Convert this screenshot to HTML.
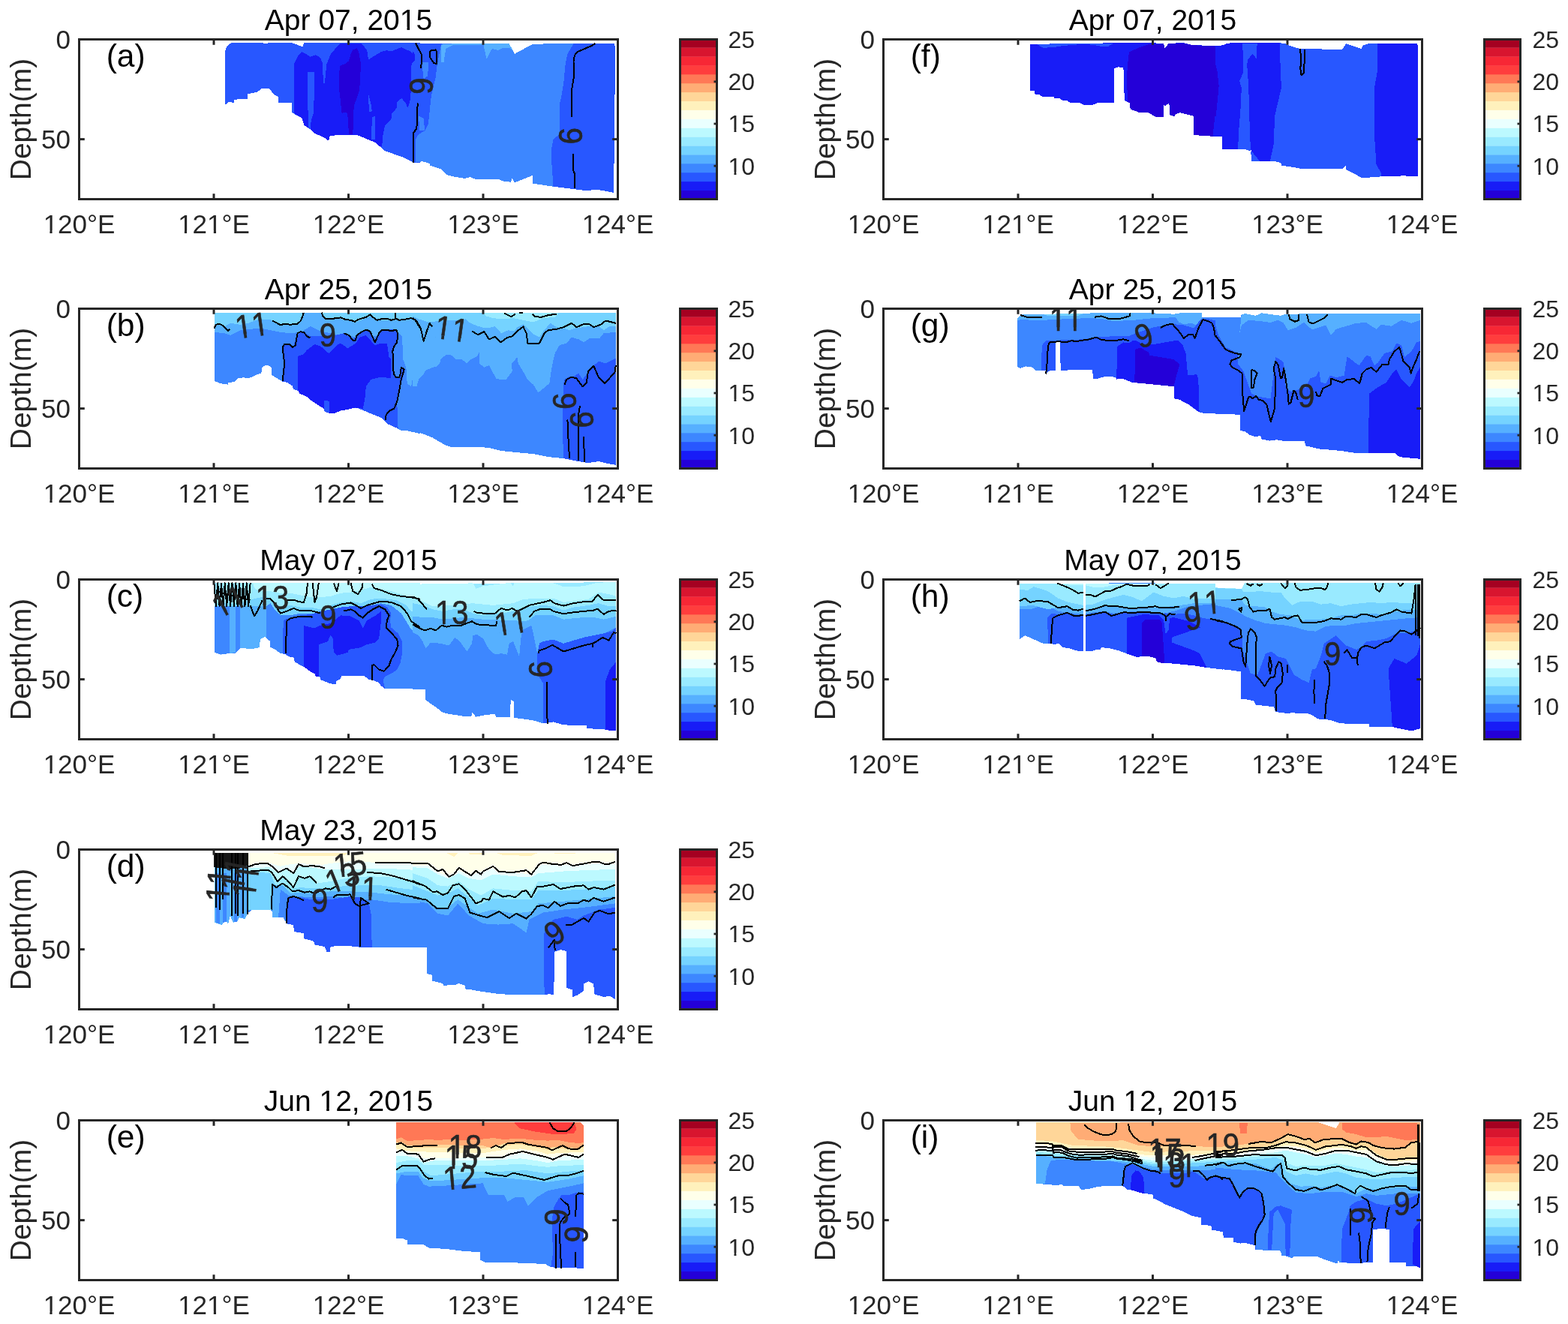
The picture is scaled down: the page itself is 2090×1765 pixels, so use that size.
<!DOCTYPE html><html><head><meta charset="utf-8"><style>html,body{margin:0;padding:0;background:#fff;overflow:hidden;}svg{display:block}</style></head><body>
<svg width="2090" height="1765" viewBox="0 0 2090 1765" font-family="'Liberation Sans', Arial, Helvetica, sans-serif">
<rect x="0" y="0" width="2090" height="1765" fill="#fff"/>
<defs><clipPath id="clipa"><rect x="105.5" y="52.5" width="718" height="213"/></clipPath></defs>
<g clip-path="url(#clipa)" shape-rendering="crispEdges">
<polygon points="300.1,138.8 300.1,67.8 302.8,61.1 308.1,57.3 317.5,56.8 349.7,57.3 355.1,58.4 357.7,57.3 389.9,57.3 403.3,62.4 405.3,57.3 560.0,57.3 560.0,216.6 550.8,216.6 536.0,209.2 513.2,201.2 507.9,196.5 499.8,189.8 477.0,180.4 446.2,180.4 439.5,181.7 438.2,187.7 431.5,183.1 419.4,177.7 412.7,171.7 405.3,167.0 402.6,157.6 389.2,150.2 388.6,137.5 371.1,136.8 371.1,129.4 364.4,125.4 359.1,118.0 348.4,118.0 343.0,122.7 329.6,125.4 329.6,131.5 312.2,132.8 312.2,136.8 304.1,136.1 301.4,138.8" fill="#2857FF"/>
<polygon points="550.0,57.7 678.7,58.4 686.0,71.8 709.5,59.1 814.7,57.7 819.4,58.4 820.1,71.8 818.1,256.8 796.6,252.8 780.5,254.1 764.5,252.1 743.0,249.4 737.6,248.7 710.2,244.7 709.5,234.0 686.0,243.4 682.7,238.0 680.7,242.7 670.6,241.4 665.3,239.4 633.1,238.7 626.4,236.0 619.7,238.0 603.6,235.3 596.2,233.3 588.9,225.9 573.5,220.6 572.8,217.9 563.4,215.2 550.0,216.6" fill="#2857FF"/>
<polygon points="391.9,85.2 397.3,74.5 402.6,69.1 406.7,71.1 413.4,75.8 420.7,73.1 427.4,77.2 430.1,85.2 435.5,85.2 440.8,71.8 452.9,58.4 481.1,57.7 489.1,66.4 491.1,79.8 494.5,77.2 507.9,69.1 515.9,67.1 521.3,68.5 534.7,63.1 548.1,69.1 552.1,75.8 548.1,87.9 547.4,130.8 545.4,138.8 543.4,143.5 540.7,137.5 535.3,130.8 529.3,136.1 528.6,144.2 522.6,150.9 521.3,158.9 513.2,167.0 510.5,180.4 509.2,193.8 507.9,196.5 499.8,189.8 477.0,180.4 446.2,180.4 439.5,181.7 438.2,187.7 431.5,183.1 419.4,177.7 412.7,171.7 405.3,167.0 402.6,157.6 391.9,150.9" fill="#181CF7"/>
<polygon points="410.0,95.9 419.4,95.9 418.1,150.9 414.7,160.3 414.0,171.7 412.0,171.7 410.7,165.6" fill="#2857FF"/>
<polygon points="430.1,85.2 435.5,85.2 432.8,110.7 430.8,110.7" fill="#2857FF"/>
<polygon points="491.1,125.4 494.5,138.8 495.8,148.2 491.8,149.5" fill="#2857FF"/>
<polygon points="495.8,156.2 499.8,154.9 499.8,185.7 495.1,185.7" fill="#2857FF"/>
<polygon points="452.9,87.9 459.6,85.2 465.0,81.2 467.6,71.8 470.3,66.4 475.7,64.4 478.4,70.5 481.1,85.2 479.7,112.0 478.4,122.7 471.7,141.5 470.3,179.0 465.0,179.0 463.6,156.2 462.3,149.5 455.6,150.9 453.6,132.1 451.6,116.0 452.2,98.6" fill="#2400D8"/>
<polygon points="550.0,67.8 552.7,71.8 553.4,79.8 550.0,83.2" fill="#181CF7"/>
<polygon points="588.9,58.4 678.7,58.4 686.0,71.8 709.5,59.1 726.9,58.4 764.5,58.4 756.4,71.8 753.7,85.2 751.1,112.0 748.4,128.1 745.7,138.8 745.7,179.0 737.6,185.7 735.0,199.1 735.0,212.5 737.6,248.7 710.2,244.7 709.5,234.0 686.0,243.4 682.7,238.0 680.7,242.7 670.6,241.4 665.3,239.4 633.1,238.7 626.4,236.0 619.7,238.0 603.6,235.3 596.2,233.3 588.9,225.9 573.5,220.6 572.8,217.9 563.4,215.2 554.0,216.6 554.0,185.7 558.0,179.0 566.1,174.3 570.8,165.6 574.8,128.1 580.8,102.6 582.2,89.2 587.5,62.4" fill="#3D87FF"/>
<polygon points="562.1,82.5 571.4,82.5 570.1,101.3 564.7,105.3" fill="#3D87FF"/>
<polygon points="558.0,154.9 564.7,157.6 566.1,173.7 559.4,173.7" fill="#3D87FF"/>
<polygon points="588.2,59.7 603.6,58.4 643.8,58.4 678.7,58.4 684.0,67.8 678.7,63.8 670.6,63.8 663.9,67.1 655.9,65.1 651.9,71.8 648.5,78.5 644.5,60.4 603.6,60.4 594.2,65.1 591.6,82.5 588.2,82.5" fill="#56B0FF"/>
<polyline points="554.0,57.7 562.1,73.1 562.1,82.5 560.7,91.2" fill="none" stroke="#000" stroke-width="2" stroke-linejoin="round" shape-rendering="crispEdges"/>
<polyline points="556.7,137.5 556.0,154.9 555.4,171.0 551.3,177.0 550.7,216.6" fill="none" stroke="#000" stroke-width="2" stroke-linejoin="round" shape-rendering="crispEdges"/>
<polyline points="793.3,57.7 789.9,60.4 769.8,69.1 765.8,73.8 764.5,82.5 764.5,105.3 762.4,117.4 761.8,128.1 761.8,156.2" fill="none" stroke="#000" stroke-width="2" stroke-linejoin="round" shape-rendering="crispEdges"/>
<polyline points="763.8,204.5 763.8,225.9 765.8,231.3 765.8,251.4" fill="none" stroke="#000" stroke-width="2" stroke-linejoin="round" shape-rendering="crispEdges"/>
<polyline points="572.8,67.8 580.8,66.4 582.2,69.1 582.2,85.2 578.1,83.9 573.5,77.2 572.8,67.8" fill="none" stroke="#000" stroke-width="2" stroke-linejoin="round" shape-rendering="crispEdges"/>
<g transform="translate(561.39 114.70) rotate(-90) scale(1 1.1)"><text x="-11.12" y="14.00" font-size="40" fill="#262626" stroke="#262626" stroke-width="0.6">9</text></g>
<g transform="translate(760.17 181.05) rotate(90) scale(1 1.1)"><text x="-11.12" y="14.00" font-size="40" fill="#262626" stroke="#262626" stroke-width="0.6">9</text></g>
</g>
<rect x="105.5" y="52.5" width="718" height="213" fill="none" stroke="#262626" stroke-width="3"/>
<line x1="105.5" y1="52.5" x2="105.5" y2="59.8" stroke="#262626" stroke-width="3"/>
<line x1="105.5" y1="265.5" x2="105.5" y2="258.2" stroke="#262626" stroke-width="3"/>
<g transform="translate(105.50 310.90)"><clipPath id="tc1"><rect x="-5000" y="-5000" width="10000" height="4996.39"/><rect x="-5000" y="2.00" width="10000" height="5000"/><rect x="-5000.00" y="-3.61" width="4953.84" height="5.61"/><rect x="-39.12" y="-3.61" width="3.20" height="5.61"/><rect x="-29.16" y="-3.61" width="5029.16" height="5.61"/></clipPath><text x="-47.87 -28.40 -8.94 10.53 24.52" y="0.00" font-size="35" fill="#262626" clip-path="url(#tc1)">120°E</text></g>
<line x1="285.0" y1="52.5" x2="285.0" y2="59.8" stroke="#262626" stroke-width="3"/>
<line x1="285.0" y1="265.5" x2="285.0" y2="258.2" stroke="#262626" stroke-width="3"/>
<g transform="translate(285.00 310.90)"><clipPath id="tc2"><rect x="-5000" y="-5000" width="10000" height="4996.39"/><rect x="-5000" y="2.00" width="10000" height="5000"/><rect x="-5000.00" y="-3.61" width="4953.84" height="5.61"/><rect x="-39.12" y="-3.61" width="3.20" height="5.61"/><rect x="-29.16" y="-3.61" width="21.93" height="5.61"/><rect x="-0.19" y="-3.61" width="3.20" height="5.61"/><rect x="9.78" y="-3.61" width="4990.22" height="5.61"/></clipPath><text x="-47.87 -28.40 -8.94 10.53 24.52" y="0.00" font-size="35" fill="#262626" clip-path="url(#tc2)">121°E</text></g>
<line x1="464.5" y1="52.5" x2="464.5" y2="59.8" stroke="#262626" stroke-width="3"/>
<line x1="464.5" y1="265.5" x2="464.5" y2="258.2" stroke="#262626" stroke-width="3"/>
<g transform="translate(464.50 310.90)"><clipPath id="tc3"><rect x="-5000" y="-5000" width="10000" height="4996.39"/><rect x="-5000" y="2.00" width="10000" height="5000"/><rect x="-5000.00" y="-3.61" width="4953.84" height="5.61"/><rect x="-39.12" y="-3.61" width="3.20" height="5.61"/><rect x="-29.16" y="-3.61" width="5029.16" height="5.61"/></clipPath><text x="-47.87 -28.40 -8.94 10.53 24.52" y="0.00" font-size="35" fill="#262626" clip-path="url(#tc3)">122°E</text></g>
<line x1="644.0" y1="52.5" x2="644.0" y2="59.8" stroke="#262626" stroke-width="3"/>
<line x1="644.0" y1="265.5" x2="644.0" y2="258.2" stroke="#262626" stroke-width="3"/>
<g transform="translate(644.00 310.90)"><clipPath id="tc4"><rect x="-5000" y="-5000" width="10000" height="4996.39"/><rect x="-5000" y="2.00" width="10000" height="5000"/><rect x="-5000.00" y="-3.61" width="4953.84" height="5.61"/><rect x="-39.12" y="-3.61" width="3.20" height="5.61"/><rect x="-29.16" y="-3.61" width="5029.16" height="5.61"/></clipPath><text x="-47.87 -28.40 -8.94 10.53 24.52" y="0.00" font-size="35" fill="#262626" clip-path="url(#tc4)">123°E</text></g>
<line x1="823.5" y1="52.5" x2="823.5" y2="59.8" stroke="#262626" stroke-width="3"/>
<line x1="823.5" y1="265.5" x2="823.5" y2="258.2" stroke="#262626" stroke-width="3"/>
<g transform="translate(823.50 310.90)"><clipPath id="tc5"><rect x="-5000" y="-5000" width="10000" height="4996.39"/><rect x="-5000" y="2.00" width="10000" height="5000"/><rect x="-5000.00" y="-3.61" width="4953.84" height="5.61"/><rect x="-39.12" y="-3.61" width="3.20" height="5.61"/><rect x="-29.16" y="-3.61" width="5029.16" height="5.61"/></clipPath><text x="-47.87 -28.40 -8.94 10.53 24.52" y="0.00" font-size="35" fill="#262626" clip-path="url(#tc5)">124°E</text></g>
<line x1="105.5" y1="52.5" x2="112.8" y2="52.5" stroke="#262626" stroke-width="3"/>
<line x1="823.5" y1="52.5" x2="816.2" y2="52.5" stroke="#262626" stroke-width="3"/>
<text x="94.0" y="64.8" font-size="35" fill="#262626" text-anchor="end">0</text>
<line x1="105.5" y1="185.6" x2="112.8" y2="185.6" stroke="#262626" stroke-width="3"/>
<line x1="823.5" y1="185.6" x2="816.2" y2="185.6" stroke="#262626" stroke-width="3"/>
<text x="94.0" y="197.9" font-size="35" fill="#262626" text-anchor="end">50</text>
<text x="0" y="0" font-size="39" fill="#262626" text-anchor="middle" transform="translate(41.2 159.0) rotate(-90)">Depth(m)</text>
<g transform="translate(464.50 40.00)"><clipPath id="tc6"><rect x="-5000" y="-5000" width="10000" height="4996.09"/><rect x="-5000" y="2.00" width="10000" height="5000"/><rect x="-5000.00" y="-3.91" width="5070.19" height="5.91"/><rect x="78.04" y="-3.91" width="3.56" height="5.91"/><rect x="89.14" y="-3.91" width="4910.86" height="5.91"/></clipPath><text x="-111.67 -85.66 -63.97 -50.98 -40.14 -18.45 3.24 14.07 24.91 46.60 68.29 89.98" y="0.00" font-size="39" fill="#000" clip-path="url(#tc6)">Apr 07, 2015</text></g>
<text x="141.7" y="88.5" font-size="42.5" fill="#000">(a)</text>
<rect x="906.5" y="253.70" width="49" height="12.20" fill="#2400D8"/>
<rect x="906.5" y="241.80" width="49" height="12.20" fill="#181CF7"/>
<rect x="906.5" y="229.90" width="49" height="12.20" fill="#2857FF"/>
<rect x="906.5" y="218.00" width="49" height="12.20" fill="#3D87FF"/>
<rect x="906.5" y="206.10" width="49" height="12.20" fill="#56B0FF"/>
<rect x="906.5" y="194.20" width="49" height="12.20" fill="#75D3FF"/>
<rect x="906.5" y="182.30" width="49" height="12.20" fill="#99EAFF"/>
<rect x="906.5" y="170.40" width="49" height="12.20" fill="#BCF9FF"/>
<rect x="906.5" y="158.50" width="49" height="12.20" fill="#EAFFFF"/>
<rect x="906.5" y="146.60" width="49" height="12.20" fill="#FFFFEA"/>
<rect x="906.5" y="134.70" width="49" height="12.20" fill="#FFF1BC"/>
<rect x="906.5" y="122.80" width="49" height="12.20" fill="#FFD699"/>
<rect x="906.5" y="110.90" width="49" height="12.20" fill="#FFAC75"/>
<rect x="906.5" y="99.00" width="49" height="12.20" fill="#FF7856"/>
<rect x="906.5" y="87.10" width="49" height="12.20" fill="#FF3D3D"/>
<rect x="906.5" y="75.20" width="49" height="12.20" fill="#F72735"/>
<rect x="906.5" y="63.30" width="49" height="12.20" fill="#D8152F"/>
<rect x="906.5" y="52.50" width="49" height="11.10" fill="#A50021"/>
<rect x="906.5" y="52.5" width="49" height="213" fill="none" stroke="#262626" stroke-width="3"/>
<line x1="951.5" y1="221.2" x2="955.5" y2="221.2" stroke="#262626" stroke-width="2.8"/>
<g transform="translate(970.50 232.55)"><clipPath id="tc7"><rect x="-5000" y="-5000" width="10000" height="4996.61"/><rect x="-5000" y="2.00" width="10000" height="5000"/><rect x="-5000.00" y="-3.39" width="5001.56" height="5.39"/><rect x="8.00" y="-3.39" width="2.92" height="5.39"/><rect x="17.11" y="-3.39" width="4982.89" height="5.39"/></clipPath><text x="0.00 17.80" y="0.00" font-size="32" fill="#262626" clip-path="url(#tc7)">10</text></g>
<line x1="951.5" y1="165.0" x2="955.5" y2="165.0" stroke="#262626" stroke-width="2.8"/>
<g transform="translate(970.50 176.30)"><clipPath id="tc8"><rect x="-5000" y="-5000" width="10000" height="4996.61"/><rect x="-5000" y="2.00" width="10000" height="5000"/><rect x="-5000.00" y="-3.39" width="5001.56" height="5.39"/><rect x="8.00" y="-3.39" width="2.92" height="5.39"/><rect x="17.11" y="-3.39" width="4982.89" height="5.39"/></clipPath><text x="0.00 17.80" y="0.00" font-size="32" fill="#262626" clip-path="url(#tc8)">15</text></g>
<line x1="951.5" y1="108.8" x2="955.5" y2="108.8" stroke="#262626" stroke-width="2.8"/>
<g transform="translate(970.50 120.05)"><text x="0.00 17.80" y="0.00" font-size="32" fill="#262626">20</text></g>
<g transform="translate(970.50 63.80)"><text x="0.00 17.80" y="0.00" font-size="32" fill="#262626">25</text></g>
<defs><clipPath id="clipb"><rect x="105.5" y="411.5" width="718" height="213"/></clipPath></defs>
<g clip-path="url(#clipb)" shape-rendering="crispEdges">
<polygon points="286.0,416.7 560.0,416.7 560.0,578.2 542.7,574.2 534.7,574.2 528.0,570.2 515.9,564.8 507.9,556.8 494.5,551.4 485.1,547.4 478.4,544.7 473.0,543.4 462.3,546.1 454.2,547.4 446.2,550.8 439.5,550.8 432.8,548.8 431.5,544.7 424.8,540.7 418.1,536.0 412.7,532.7 410.0,529.3 399.3,524.6 398.0,521.3 391.2,518.6 389.9,514.6 383.2,509.9 376.5,508.5 368.5,503.9 362.0,499.8 361.8,489.8 357.7,487.1 353.7,487.1 349.0,489.8 348.4,497.2 343.0,499.2 336.3,502.5 329.6,504.3 324.2,503.2 317.5,504.5 312.2,509.2 304.1,509.9 304.1,512.6 293.4,511.2 286.0,507.9" fill="#3D87FF"/>
<polygon points="550.0,416.7 820.8,416.7 820.8,619.8 808.7,617.8 798.0,615.1 783.2,617.1 767.1,614.4 751.1,611.1 730.9,609.1 710.8,605.1 694.8,603.7 668.0,601.0 651.9,597.0 643.8,596.3 600.9,595.7 592.9,593.0 576.8,583.6 563.4,578.2 550.0,574.9" fill="#3D87FF"/>
<polygon points="286.0,416.7 560.0,416.7 560.0,479.1 553.4,484.4 548.1,515.2 542.7,511.2 541.4,489.8 537.3,479.1 536.0,448.2 532.0,444.2 521.3,444.2 507.9,446.9 494.5,448.2 481.1,448.2 473.0,449.6 465.0,446.9 454.2,448.2 440.8,444.2 427.4,441.5 414.0,434.8 400.6,442.9 387.2,444.2 373.8,442.9 360.4,440.2 347.0,437.5 333.6,438.8 320.2,440.2 306.8,446.9 298.8,444.2 286.0,442.9" fill="#56B0FF"/>
<polygon points="286.0,416.7 400.6,416.7 403.3,418.7 400.6,426.8 395.3,430.8 384.5,432.8 373.8,432.8 365.8,428.8 360.4,426.1 347.0,425.4 337.6,428.1 330.9,430.8 320.2,432.8 306.8,430.8 300.1,434.8 286.0,432.1" fill="#75D3FF"/>
<polygon points="428.8,416.7 560.0,416.7 560.0,426.8 548.1,425.4 534.7,427.5 526.6,426.1 507.9,427.5 494.5,421.4 474.4,429.5 454.2,425.4 434.1,425.4" fill="#75D3FF"/>
<polygon points="376.5,508.5 377.8,484.4 377.2,460.3 384.5,457.6 391.2,461.6 395.3,448.2 400.6,442.2 405.3,442.2 412.7,448.2 427.4,448.2 447.5,446.9 458.3,444.2 470.3,452.3 481.1,442.9 487.8,438.8 494.5,441.5 499.8,454.9 507.9,440.2 515.9,438.8 529.3,439.5 530.6,444.2 530.0,457.6 525.3,463.0 523.3,471.0 524.6,497.8 528.0,503.2 532.0,503.2 534.7,489.8 540.0,492.5 534.7,511.2 532.0,524.6 529.3,538.0 530.6,571.5 528.0,570.2 515.9,564.8 507.9,556.8 494.5,551.4 485.1,547.4 478.4,544.7 473.0,543.4 462.3,546.1 454.2,547.4 446.2,550.8 439.5,550.8 432.8,548.8 431.5,544.7 424.8,540.7 418.1,536.0 412.7,532.7 410.0,529.3 399.3,524.6 398.0,521.3 391.2,518.6 389.9,514.6 383.2,509.9" fill="#2857FF"/>
<polygon points="396.6,475.0 404.7,472.4 408.7,467.0 419.4,459.0 427.4,461.6 438.2,471.0 448.9,460.3 454.2,457.6 463.6,464.3 474.4,457.6 479.7,449.6 487.8,446.9 499.8,460.3 507.9,457.6 515.9,457.6 518.6,476.4 521.3,479.1 521.3,504.5 507.9,502.5 494.5,505.9 487.8,515.2 486.4,531.3 483.7,544.7 473.0,543.4 462.3,546.1 454.2,547.4 446.2,550.8 439.5,550.8 432.8,548.8 431.5,544.7 424.8,540.7 418.1,536.0 412.7,532.7 410.0,529.3 399.3,524.6 398.0,521.3 396.6,520.6" fill="#181CF7"/>
<polygon points="431.5,534.0 438.8,534.7 438.8,550.1 432.8,548.8 431.5,544.7" fill="#2857FF"/>
<polygon points="550.0,416.7 820.8,416.7 820.8,442.9 804.7,444.2 799.3,450.9 785.9,450.9 777.9,456.3 771.2,452.3 761.8,449.6 755.1,457.6 745.7,460.3 740.3,469.7 737.6,479.1 735.0,492.5 732.3,511.2 724.2,517.9 717.5,523.3 710.8,512.6 702.8,505.9 698.8,497.8 690.7,484.4 689.4,476.4 682.0,484.4 682.7,495.1 674.7,505.9 666.6,505.9 661.2,504.5 651.9,487.1 645.2,489.8 639.1,484.4 638.5,469.7 635.8,475.0 627.7,479.1 622.4,484.4 615.7,479.1 607.6,479.1 600.9,473.0 594.2,473.0 587.5,479.1 586.2,484.4 582.2,488.4 576.8,489.8 567.4,493.8 563.4,500.5 558.0,505.9 555.4,515.2 550.0,515.2" fill="#56B0FF"/>
<polygon points="550.0,416.7 820.8,416.7 820.8,434.8 812.7,434.8 804.7,440.2 798.0,434.8 785.9,434.8 777.9,436.2 767.1,437.5 759.1,440.2 751.1,437.5 741.7,436.2 733.6,430.8 724.2,441.5 718.9,449.6 710.8,445.6 704.1,438.8 697.4,432.1 689.4,436.2 685.4,441.5 677.3,440.2 668.0,444.2 659.9,434.8 655.9,436.2 646.5,437.5 637.1,434.8 630.4,432.1 625.1,429.5 621.0,425.4 610.3,426.8 596.9,426.8 583.5,428.1 571.4,429.5 558.0,425.4 550.0,421.4" fill="#75D3FF"/>
<polygon points="643.8,416.7 744.4,416.7 740.3,422.8 724.2,424.1 710.8,429.5 697.4,426.8 684.0,424.1 670.6,425.4 657.2,424.1 647.8,421.4" fill="#99EAFF"/>
<polygon points="751.1,512.6 752.4,505.9 759.1,501.8 764.5,501.8 771.2,497.8 776.5,505.9 783.2,497.8 785.9,491.1 791.3,487.1 798.0,481.7 807.3,484.4 815.4,480.4 820.8,477.7 820.8,619.8 808.7,617.8 798.0,615.1 783.2,617.1 767.1,614.4 751.1,611.1 749.7,564.8" fill="#2857FF"/>
<polyline points="285.4,437.5 288.0,432.8 292.1,431.5 297.4,434.2 304.1,440.9 306.1,438.8" fill="none" stroke="#000" stroke-width="2" stroke-linejoin="round" shape-rendering="crispEdges"/>
<polyline points="363.1,427.5 368.5,430.1 373.8,433.5 379.2,431.5 387.2,432.8 396.6,431.5 400.6,428.1 403.3,421.4 404.7,416.7" fill="none" stroke="#000" stroke-width="2" stroke-linejoin="round" shape-rendering="crispEdges"/>
<polyline points="428.8,416.7 430.1,421.4 434.1,424.8 440.8,425.4 447.5,424.1 454.2,423.4 460.9,426.1 467.6,426.8 473.0,428.8 477.0,426.1 487.8,422.8 493.1,419.4 497.1,422.8 502.5,426.8 507.9,425.4 515.9,424.8 521.3,426.8 526.6,425.4 527.3,417.4" fill="none" stroke="#000" stroke-width="2" stroke-linejoin="round" shape-rendering="crispEdges"/>
<polyline points="527.3,424.1 532.0,426.8 541.4,425.4 548.1,424.1 553.4,426.8 560.0,437.5" fill="none" stroke="#000" stroke-width="2" stroke-linejoin="round" shape-rendering="crispEdges"/>
<polyline points="413.4,450.2 410.0,448.9 404.7,442.9 400.6,442.2 396.6,444.2 394.6,454.9 393.9,460.3 389.9,463.0 385.9,459.0 379.2,459.0 376.5,463.0 377.8,473.7 379.2,484.4 377.8,497.8 376.5,508.5" fill="none" stroke="#000" stroke-width="2" stroke-linejoin="round" shape-rendering="crispEdges"/>
<polyline points="458.3,444.2 465.0,446.9 470.3,453.6 473.7,453.6 475.7,446.9 481.1,442.9 487.8,439.5 493.1,441.5 499.8,456.3 505.2,444.2 509.2,439.5 515.9,439.5 521.3,441.5 528.0,439.5 530.0,444.2 529.3,456.3 525.3,461.6 523.3,468.3 523.9,476.4 524.6,497.8 528.0,503.2 532.0,503.2 534.0,497.8 534.7,489.8 538.7,492.5 534.7,505.9 532.0,522.0 529.3,535.4 525.3,544.7 519.9,547.4 515.9,551.4 513.9,555.5 513.9,560.2" fill="none" stroke="#000" stroke-width="2" stroke-linejoin="round" shape-rendering="crispEdges"/>
<polyline points="550.0,424.1 555.4,428.1 560.7,437.5 564.7,454.9 568.8,441.5 572.8,430.8 576.1,435.5" fill="none" stroke="#000" stroke-width="2" stroke-linejoin="round" shape-rendering="crispEdges"/>
<polyline points="629.1,441.5 637.1,446.2 645.2,442.2 651.9,452.3 659.9,448.9 667.3,456.3 676.0,450.2 682.7,448.2 689.4,441.5 697.4,435.5 701.5,444.2 703.5,457.6 718.9,457.6 725.6,444.2 730.9,440.2 741.7,438.8 751.1,436.2 761.8,430.8 768.5,436.2 777.9,432.1 784.6,431.5 791.3,436.2 800.6,432.8 807.3,427.5 820.8,430.8" fill="none" stroke="#000" stroke-width="2" stroke-linejoin="round" shape-rendering="crispEdges"/>
<polyline points="672.0,417.4 681.4,422.1 686.7,418.7" fill="none" stroke="#000" stroke-width="2" stroke-linejoin="round" shape-rendering="crispEdges"/>
<polyline points="692.1,417.4 697.4,417.4" fill="none" stroke="#000" stroke-width="2" stroke-linejoin="round" shape-rendering="crispEdges"/>
<polyline points="709.5,418.7 713.5,422.1 721.6,422.8 730.9,420.1 741.7,418.7" fill="none" stroke="#000" stroke-width="2" stroke-linejoin="round" shape-rendering="crispEdges"/>
<polyline points="752.4,512.6 755.1,505.9 761.8,502.5 768.5,504.5 776.5,515.2 781.9,509.9 783.9,495.1 791.3,487.8 798.0,503.2 806.0,511.2 819.4,496.5 820.8,487.1" fill="none" stroke="#000" stroke-width="2" stroke-linejoin="round" shape-rendering="crispEdges"/>
<polyline points="756.4,559.5 757.8,591.6 759.1,611.1" fill="none" stroke="#000" stroke-width="2" stroke-linejoin="round" shape-rendering="crispEdges"/>
<polyline points="773.2,540.7 771.2,551.4 771.2,614.4" fill="none" stroke="#000" stroke-width="2" stroke-linejoin="round" shape-rendering="crispEdges"/>
<polyline points="777.9,582.3 779.2,615.8" fill="none" stroke="#000" stroke-width="2" stroke-linejoin="round" shape-rendering="crispEdges"/>
<g transform="translate(335.62 433.49) rotate(-8) scale(1 1.1)"><clipPath id="tc9"><rect x="-5000" y="-5000" width="10000" height="5010.01"/><rect x="-5000" y="16.00" width="10000" height="5000"/><rect x="-5000.00" y="10.01" width="4979.71" height="5.99"/><rect x="-12.25" y="10.01" width="3.65" height="5.99"/><rect x="-0.86" y="10.01" width="2.81" height="5.99"/><rect x="10.00" y="10.01" width="3.65" height="5.99"/><rect x="21.39" y="10.01" width="4978.61" height="5.99"/></clipPath><text x="-22.25 0.00" y="14.00" font-size="40" fill="#262626" clip-path="url(#tc9)" stroke="#262626" stroke-width="0.6">11</text></g>
<g transform="translate(436.82 446.89) scale(1 1.1)"><text x="-11.12" y="14.00" font-size="40" fill="#262626" stroke="#262626" stroke-width="0.6">9</text></g>
<g transform="translate(602.27 438.18) rotate(8) scale(1 1.1)"><clipPath id="tc10"><rect x="-5000" y="-5000" width="10000" height="5010.01"/><rect x="-5000" y="16.00" width="10000" height="5000"/><rect x="-5000.00" y="10.01" width="4979.71" height="5.99"/><rect x="-12.25" y="10.01" width="3.65" height="5.99"/><rect x="-0.86" y="10.01" width="2.81" height="5.99"/><rect x="10.00" y="10.01" width="3.65" height="5.99"/><rect x="21.39" y="10.01" width="4978.61" height="5.99"/></clipPath><text x="-22.25 0.00" y="14.00" font-size="40" fill="#262626" clip-path="url(#tc10)" stroke="#262626" stroke-width="0.6">11</text></g>
<g transform="translate(752.39 534.68) rotate(90) scale(1 1.1)"><text x="-11.12" y="14.00" font-size="40" fill="#262626" stroke="#262626" stroke-width="0.6">9</text></g>
<g transform="translate(775.85 559.48) rotate(90) scale(1 1.1)"><text x="-11.12" y="14.00" font-size="40" fill="#262626" stroke="#262626" stroke-width="0.6">9</text></g>
</g>
<rect x="105.5" y="411.5" width="718" height="213" fill="none" stroke="#262626" stroke-width="3"/>
<line x1="105.5" y1="411.5" x2="105.5" y2="418.8" stroke="#262626" stroke-width="3"/>
<line x1="105.5" y1="624.5" x2="105.5" y2="617.2" stroke="#262626" stroke-width="3"/>
<g transform="translate(105.50 669.90)"><clipPath id="tc11"><rect x="-5000" y="-5000" width="10000" height="4996.39"/><rect x="-5000" y="2.00" width="10000" height="5000"/><rect x="-5000.00" y="-3.61" width="4953.84" height="5.61"/><rect x="-39.12" y="-3.61" width="3.20" height="5.61"/><rect x="-29.16" y="-3.61" width="5029.16" height="5.61"/></clipPath><text x="-47.87 -28.40 -8.94 10.53 24.52" y="0.00" font-size="35" fill="#262626" clip-path="url(#tc11)">120°E</text></g>
<line x1="285.0" y1="411.5" x2="285.0" y2="418.8" stroke="#262626" stroke-width="3"/>
<line x1="285.0" y1="624.5" x2="285.0" y2="617.2" stroke="#262626" stroke-width="3"/>
<g transform="translate(285.00 669.90)"><clipPath id="tc12"><rect x="-5000" y="-5000" width="10000" height="4996.39"/><rect x="-5000" y="2.00" width="10000" height="5000"/><rect x="-5000.00" y="-3.61" width="4953.84" height="5.61"/><rect x="-39.12" y="-3.61" width="3.20" height="5.61"/><rect x="-29.16" y="-3.61" width="21.93" height="5.61"/><rect x="-0.19" y="-3.61" width="3.20" height="5.61"/><rect x="9.78" y="-3.61" width="4990.22" height="5.61"/></clipPath><text x="-47.87 -28.40 -8.94 10.53 24.52" y="0.00" font-size="35" fill="#262626" clip-path="url(#tc12)">121°E</text></g>
<line x1="464.5" y1="411.5" x2="464.5" y2="418.8" stroke="#262626" stroke-width="3"/>
<line x1="464.5" y1="624.5" x2="464.5" y2="617.2" stroke="#262626" stroke-width="3"/>
<g transform="translate(464.50 669.90)"><clipPath id="tc13"><rect x="-5000" y="-5000" width="10000" height="4996.39"/><rect x="-5000" y="2.00" width="10000" height="5000"/><rect x="-5000.00" y="-3.61" width="4953.84" height="5.61"/><rect x="-39.12" y="-3.61" width="3.20" height="5.61"/><rect x="-29.16" y="-3.61" width="5029.16" height="5.61"/></clipPath><text x="-47.87 -28.40 -8.94 10.53 24.52" y="0.00" font-size="35" fill="#262626" clip-path="url(#tc13)">122°E</text></g>
<line x1="644.0" y1="411.5" x2="644.0" y2="418.8" stroke="#262626" stroke-width="3"/>
<line x1="644.0" y1="624.5" x2="644.0" y2="617.2" stroke="#262626" stroke-width="3"/>
<g transform="translate(644.00 669.90)"><clipPath id="tc14"><rect x="-5000" y="-5000" width="10000" height="4996.39"/><rect x="-5000" y="2.00" width="10000" height="5000"/><rect x="-5000.00" y="-3.61" width="4953.84" height="5.61"/><rect x="-39.12" y="-3.61" width="3.20" height="5.61"/><rect x="-29.16" y="-3.61" width="5029.16" height="5.61"/></clipPath><text x="-47.87 -28.40 -8.94 10.53 24.52" y="0.00" font-size="35" fill="#262626" clip-path="url(#tc14)">123°E</text></g>
<line x1="823.5" y1="411.5" x2="823.5" y2="418.8" stroke="#262626" stroke-width="3"/>
<line x1="823.5" y1="624.5" x2="823.5" y2="617.2" stroke="#262626" stroke-width="3"/>
<g transform="translate(823.50 669.90)"><clipPath id="tc15"><rect x="-5000" y="-5000" width="10000" height="4996.39"/><rect x="-5000" y="2.00" width="10000" height="5000"/><rect x="-5000.00" y="-3.61" width="4953.84" height="5.61"/><rect x="-39.12" y="-3.61" width="3.20" height="5.61"/><rect x="-29.16" y="-3.61" width="5029.16" height="5.61"/></clipPath><text x="-47.87 -28.40 -8.94 10.53 24.52" y="0.00" font-size="35" fill="#262626" clip-path="url(#tc15)">124°E</text></g>
<line x1="105.5" y1="411.5" x2="112.8" y2="411.5" stroke="#262626" stroke-width="3"/>
<line x1="823.5" y1="411.5" x2="816.2" y2="411.5" stroke="#262626" stroke-width="3"/>
<text x="94.0" y="423.8" font-size="35" fill="#262626" text-anchor="end">0</text>
<line x1="105.5" y1="544.6" x2="112.8" y2="544.6" stroke="#262626" stroke-width="3"/>
<line x1="823.5" y1="544.6" x2="816.2" y2="544.6" stroke="#262626" stroke-width="3"/>
<text x="94.0" y="556.9" font-size="35" fill="#262626" text-anchor="end">50</text>
<text x="0" y="0" font-size="39" fill="#262626" text-anchor="middle" transform="translate(41.2 518.0) rotate(-90)">Depth(m)</text>
<g transform="translate(464.50 399.00)"><clipPath id="tc16"><rect x="-5000" y="-5000" width="10000" height="4996.09"/><rect x="-5000" y="2.00" width="10000" height="5000"/><rect x="-5000.00" y="-3.91" width="5070.19" height="5.91"/><rect x="78.04" y="-3.91" width="3.56" height="5.91"/><rect x="89.14" y="-3.91" width="4910.86" height="5.91"/></clipPath><text x="-111.67 -85.66 -63.97 -50.98 -40.14 -18.45 3.24 14.07 24.91 46.60 68.29 89.98" y="0.00" font-size="39" fill="#000" clip-path="url(#tc16)">Apr 25, 2015</text></g>
<text x="141.7" y="447.5" font-size="42.5" fill="#000">(b)</text>
<rect x="906.5" y="612.70" width="49" height="12.20" fill="#2400D8"/>
<rect x="906.5" y="600.80" width="49" height="12.20" fill="#181CF7"/>
<rect x="906.5" y="588.90" width="49" height="12.20" fill="#2857FF"/>
<rect x="906.5" y="577.00" width="49" height="12.20" fill="#3D87FF"/>
<rect x="906.5" y="565.10" width="49" height="12.20" fill="#56B0FF"/>
<rect x="906.5" y="553.20" width="49" height="12.20" fill="#75D3FF"/>
<rect x="906.5" y="541.30" width="49" height="12.20" fill="#99EAFF"/>
<rect x="906.5" y="529.40" width="49" height="12.20" fill="#BCF9FF"/>
<rect x="906.5" y="517.50" width="49" height="12.20" fill="#EAFFFF"/>
<rect x="906.5" y="505.60" width="49" height="12.20" fill="#FFFFEA"/>
<rect x="906.5" y="493.70" width="49" height="12.20" fill="#FFF1BC"/>
<rect x="906.5" y="481.80" width="49" height="12.20" fill="#FFD699"/>
<rect x="906.5" y="469.90" width="49" height="12.20" fill="#FFAC75"/>
<rect x="906.5" y="458.00" width="49" height="12.20" fill="#FF7856"/>
<rect x="906.5" y="446.10" width="49" height="12.20" fill="#FF3D3D"/>
<rect x="906.5" y="434.20" width="49" height="12.20" fill="#F72735"/>
<rect x="906.5" y="422.30" width="49" height="12.20" fill="#D8152F"/>
<rect x="906.5" y="411.50" width="49" height="11.10" fill="#A50021"/>
<rect x="906.5" y="411.5" width="49" height="213" fill="none" stroke="#262626" stroke-width="3"/>
<line x1="951.5" y1="580.2" x2="955.5" y2="580.2" stroke="#262626" stroke-width="2.8"/>
<g transform="translate(970.50 591.55)"><clipPath id="tc17"><rect x="-5000" y="-5000" width="10000" height="4996.61"/><rect x="-5000" y="2.00" width="10000" height="5000"/><rect x="-5000.00" y="-3.39" width="5001.56" height="5.39"/><rect x="8.00" y="-3.39" width="2.92" height="5.39"/><rect x="17.11" y="-3.39" width="4982.89" height="5.39"/></clipPath><text x="0.00 17.80" y="0.00" font-size="32" fill="#262626" clip-path="url(#tc17)">10</text></g>
<line x1="951.5" y1="524.0" x2="955.5" y2="524.0" stroke="#262626" stroke-width="2.8"/>
<g transform="translate(970.50 535.30)"><clipPath id="tc18"><rect x="-5000" y="-5000" width="10000" height="4996.61"/><rect x="-5000" y="2.00" width="10000" height="5000"/><rect x="-5000.00" y="-3.39" width="5001.56" height="5.39"/><rect x="8.00" y="-3.39" width="2.92" height="5.39"/><rect x="17.11" y="-3.39" width="4982.89" height="5.39"/></clipPath><text x="0.00 17.80" y="0.00" font-size="32" fill="#262626" clip-path="url(#tc18)">15</text></g>
<line x1="951.5" y1="467.8" x2="955.5" y2="467.8" stroke="#262626" stroke-width="2.8"/>
<g transform="translate(970.50 479.05)"><text x="0.00 17.80" y="0.00" font-size="32" fill="#262626">20</text></g>
<g transform="translate(970.50 422.80)"><text x="0.00 17.80" y="0.00" font-size="32" fill="#262626">25</text></g>
<defs><clipPath id="clipc"><rect x="105.5" y="772.5" width="718" height="213"/></clipPath></defs>
<g clip-path="url(#clipc)" shape-rendering="crispEdges">
<polygon points="286.0,776.7 560.0,776.7 560.0,918.1 513.2,918.1 507.9,914.1 505.2,910.1 497.1,906.7 491.8,906.1 485.1,900.7 454.9,900.7 454.2,904.7 448.2,908.1 447.5,912.1 440.8,911.4 435.5,909.4 427.4,906.1 426.1,902.1 420.7,901.4 419.4,898.0 414.0,895.4 404.7,888.7 399.3,886.0 392.6,882.0 391.9,876.6 384.5,875.2 380.5,871.9 373.8,871.2 365.8,865.2 360.4,862.5 360.4,855.1 353.0,849.1 347.0,851.8 345.7,863.2 335.0,865.2 328.3,865.2 326.9,863.9 320.2,863.9 313.5,870.6 304.1,871.2 294.7,872.6 286.0,869.9" fill="#3D87FF"/>
<polygon points="550.0,778.7 630.4,777.4 634.4,784.8 643.8,781.4 680.0,776.7 684.0,781.4 685.4,777.4 737.6,777.4 751.1,782.1 777.9,781.4 796.6,776.7 821.4,776.1 821.4,974.4 804.7,972.4 782.6,971.1 781.9,967.1 751.1,966.4 737.6,962.4 724.2,964.4 710.8,960.4 697.4,958.4 685.4,957.0 684.7,934.9 680.7,932.9 680.0,955.7 661.2,956.3 659.9,951.6 643.8,953.7 634.4,955.7 629.1,949.0 628.4,955.0 619.7,955.0 606.3,953.0 594.2,951.0 588.9,949.0 580.8,942.3 574.1,938.2 567.4,932.9 566.8,918.8 550.0,918.8" fill="#3D87FF"/>
<polygon points="305.5,808.2 313.5,808.2 313.5,869.9 305.5,871.2" fill="#56B0FF"/>
<polygon points="320.2,808.2 355.1,808.2 355.1,849.8 353.0,849.1 347.0,851.8 345.7,863.2 335.0,865.2 328.3,865.2 326.9,863.9 320.2,863.9" fill="#56B0FF"/>
<polygon points="286.0,776.7 560.0,776.7 560.0,844.4 548.1,839.1 541.4,828.3 534.7,817.6 521.3,806.9 507.9,804.2 494.5,806.9 481.1,812.3 467.6,808.2 454.2,809.6 440.8,814.9 427.4,820.3 414.0,817.6 400.6,817.6 387.2,820.3 373.8,820.3 365.8,812.3 360.4,804.2 355.1,808.2 286.0,808.2" fill="#75D3FF"/>
<polygon points="286.0,776.7 560.0,776.7 560.0,817.6 548.1,814.9 541.4,806.9 528.0,800.2 507.9,797.5 494.5,798.8 481.1,804.2 467.6,801.5 454.2,802.9 440.8,806.9 427.4,812.3 414.0,809.6 400.6,809.6 387.2,806.9 373.8,809.6 365.8,802.9 355.1,794.8 336.3,798.8 320.2,804.2 286.0,804.2" fill="#99EAFF"/>
<polygon points="336.3,776.7 560.0,776.7 560.0,798.8 548.1,796.2 534.7,792.1 521.3,788.1 507.9,785.4 494.5,782.8 481.1,786.8 467.6,789.5 454.2,790.8 440.8,794.8 427.4,796.2 414.0,796.2 400.6,793.5 387.2,790.8 373.8,790.8 360.4,788.1 347.0,788.1 340.3,785.4" fill="#BCF9FF"/>
<polygon points="376.5,871.2 377.8,827.0 387.2,823.0 400.6,820.3 414.0,819.0 427.4,814.9 440.8,812.3 454.2,809.6 467.6,808.2 481.1,808.2 494.5,806.9 507.9,805.6 515.9,809.6 521.3,817.6 519.9,827.0 521.3,836.4 530.6,844.4 536.0,855.1 536.0,871.2 533.3,884.6 529.3,892.7 521.3,898.0 513.2,902.1 510.5,906.1 513.2,918.1 507.9,914.1 505.2,910.1 497.1,906.7 491.8,906.1 485.1,900.7 454.9,900.7 454.2,904.7 448.2,908.1 447.5,912.1 440.8,911.4 435.5,909.4 427.4,906.1 426.1,902.1 420.7,901.4 419.4,898.0 414.0,895.4 404.7,888.7 399.3,886.0 392.6,882.0 391.9,876.6 384.5,875.2 380.5,871.9" fill="#2857FF"/>
<polygon points="404.7,833.7 414.0,836.4 419.4,837.0 427.4,833.7 440.8,831.0 454.2,820.3 467.6,821.6 478.4,827.0 483.7,837.7 489.1,827.0 501.2,820.3 507.9,814.9 507.9,828.3 505.2,851.1 499.8,856.5 489.1,859.2 481.1,863.2 465.0,865.9 463.6,869.9 448.9,873.9 444.9,869.9 443.5,851.1 440.8,846.4 436.8,855.1 424.8,859.2 424.8,902.1 420.7,901.4 419.4,898.0 414.0,895.4 404.7,888.7" fill="#181CF7"/>
<polygon points="550.0,778.7 821.4,776.1 821.4,836.4 804.7,844.4 791.3,847.1 777.9,849.8 764.5,853.8 751.1,857.8 737.6,852.5 724.2,855.1 718.9,857.8 716.2,871.2 710.8,844.4 708.2,833.7 697.4,839.1 694.8,847.1 692.1,875.2 684.0,855.1 678.7,857.8 676.0,872.6 668.0,871.2 659.9,872.6 651.9,865.9 643.8,851.1 635.8,845.8 630.4,847.1 629.1,857.8 622.4,868.5 613.0,855.1 606.3,849.8 598.3,860.5 587.5,857.8 574.1,856.5 567.4,864.5 563.4,855.1 558.0,847.1 550.0,843.1" fill="#56B0FF"/>
<polygon points="550.0,778.7 821.4,776.1 821.4,821.6 804.7,825.7 791.3,823.0 777.9,823.0 764.5,824.3 751.1,825.7 737.6,820.3 724.2,820.3 713.5,820.3 704.1,827.0 697.4,828.3 684.0,827.0 670.6,827.0 657.2,825.7 643.8,825.7 630.4,824.3 617.0,823.0 603.6,824.3 590.2,825.7 576.8,823.0 563.4,823.0 550.0,821.6" fill="#75D3FF"/>
<polygon points="550.0,778.7 821.4,776.1 821.4,808.2 811.4,808.2 798.0,804.2 784.6,806.9 764.5,809.6 751.1,813.6 737.6,808.2 724.2,806.9 710.8,808.2 697.4,809.6 684.0,814.9 670.6,817.6 657.2,817.6 643.8,820.3 630.4,817.6 617.0,812.3 603.6,812.3 590.2,814.9 576.8,812.3 563.4,806.9 550.0,804.2" fill="#99EAFF"/>
<polygon points="550.0,778.7 630.4,777.4 634.4,784.8 643.8,781.4 680.0,776.7 684.0,781.4 685.4,777.4 737.6,777.4 751.1,782.1 777.9,781.4 796.6,776.7 821.4,776.1 821.4,794.8 811.4,792.1 798.0,789.5 784.6,798.8 764.5,801.5 751.1,802.9 737.6,797.5 724.2,797.5 697.4,798.8 684.0,804.2 657.2,806.9 630.4,804.2 603.6,806.9 576.8,808.2 563.4,801.5 550.0,794.8" fill="#BCF9FF"/>
<polygon points="716.2,898.0 716.2,871.2 718.9,857.8 724.2,855.1 737.6,852.5 751.1,857.8 764.5,853.8 777.9,849.8 791.3,847.1 804.7,844.4 815.4,841.7 821.4,836.4 821.4,974.4 804.7,972.4 782.6,971.1 781.9,967.1 751.1,966.4 737.6,962.4 724.2,964.4 724.2,911.4" fill="#2857FF"/>
<polygon points="806.7,908.8 812.7,892.7 821.4,882.0 821.4,974.4 806.7,973.1" fill="#181CF7"/>
<polyline points="285.4,777.4 287.8,808.2 290.2,777.4 292.6,808.2 295.0,777.4 297.4,808.2 299.8,777.4 302.2,808.2 304.7,777.4 307.1,808.2 309.5,777.4 311.9,808.2 314.3,777.4 316.7,808.2 319.1,777.4 321.6,808.2 324.0,777.4 326.4,808.2 328.8,777.4 331.2,808.2 333.6,777.4" fill="none" stroke="#000" stroke-width="2" stroke-linejoin="round" shape-rendering="crispEdges"/>
<polyline points="288.0,788.1 333.6,800.2" fill="none" stroke="#000" stroke-width="2" stroke-linejoin="round" shape-rendering="crispEdges"/>
<polyline points="333.6,806.9 339.0,821.6 343.0,814.9 349.7,800.2" fill="none" stroke="#000" stroke-width="2" stroke-linejoin="round" shape-rendering="crispEdges"/>
<polyline points="383.2,800.2 391.2,799.5 396.6,801.5 404.7,803.5 408.7,790.8 410.0,777.4" fill="none" stroke="#000" stroke-width="2" stroke-linejoin="round" shape-rendering="crispEdges"/>
<polyline points="416.7,777.4 419.4,802.9 422.1,796.2 424.8,777.4" fill="none" stroke="#000" stroke-width="2" stroke-linejoin="round" shape-rendering="crispEdges"/>
<polyline points="444.9,777.4 448.9,788.1 451.6,777.4" fill="none" stroke="#000" stroke-width="2" stroke-linejoin="round" shape-rendering="crispEdges"/>
<polyline points="467.6,777.4 470.3,788.1 477.0,792.1 482.4,784.1 483.7,777.4" fill="none" stroke="#000" stroke-width="2" stroke-linejoin="round" shape-rendering="crispEdges"/>
<polyline points="495.8,778.7 498.5,784.1 507.9,786.8 521.3,792.1 534.7,794.8 548.1,796.2 560.0,798.8" fill="none" stroke="#000" stroke-width="2" stroke-linejoin="round" shape-rendering="crispEdges"/>
<polyline points="355.1,798.2 360.4,798.2 365.8,804.2 371.1,813.6 373.8,817.6 381.9,814.9 391.2,810.9 398.0,813.6 412.7,813.6 427.4,817.6" fill="none" stroke="#000" stroke-width="2" stroke-linejoin="round" shape-rendering="crispEdges"/>
<polyline points="443.5,809.6 454.2,805.6 467.6,803.5 474.4,806.9 481.1,810.9 489.1,806.9 507.9,801.5 521.3,802.9 534.7,808.2 542.7,817.6 548.1,828.3 560.0,836.4" fill="none" stroke="#000" stroke-width="2" stroke-linejoin="round" shape-rendering="crispEdges"/>
<polyline points="416.7,823.0 414.0,821.6 400.6,821.6 387.2,824.3 382.5,827.7 381.9,844.4 380.5,857.8 380.5,871.2" fill="none" stroke="#000" stroke-width="2" stroke-linejoin="round" shape-rendering="crispEdges"/>
<polyline points="458.3,814.3 462.3,813.6 467.6,812.3 473.0,814.9 478.4,820.3 483.7,823.6 489.1,817.6 497.1,812.3 505.2,808.2 513.2,812.3 518.6,820.3 515.9,827.0 514.6,836.4 521.3,843.1 529.3,852.5 530.6,860.5 526.6,869.9 521.3,879.3 518.6,887.3 511.9,894.7 505.2,892.7 498.5,886.0 495.8,887.3 495.8,907.4" fill="none" stroke="#000" stroke-width="2" stroke-linejoin="round" shape-rendering="crispEdges"/>
<polyline points="550.0,795.5 556.7,798.2 563.4,805.6 568.8,812.3" fill="none" stroke="#000" stroke-width="2" stroke-linejoin="round" shape-rendering="crispEdges"/>
<polyline points="631.8,814.9 635.8,816.9 643.8,817.6 659.9,817.6 668.0,810.9 676.0,813.6 682.7,810.9 689.4,814.9 694.8,812.3 705.5,806.9 717.5,804.2 724.2,802.9 733.6,800.2 739.0,804.2 751.1,807.6 764.5,804.2 777.9,802.2 789.9,801.5 796.6,792.8 804.7,800.2 821.4,800.2" fill="none" stroke="#000" stroke-width="2" stroke-linejoin="round" shape-rendering="crispEdges"/>
<polyline points="550.0,832.4 558.0,837.0 566.1,840.4 574.1,837.7 580.8,840.4 588.9,833.7 595.6,835.7 603.6,833.7 613.0,834.4 629.1,828.3 635.8,832.4 646.5,833.0 661.2,834.4 661.9,828.3" fill="none" stroke="#000" stroke-width="2" stroke-linejoin="round" shape-rendering="crispEdges"/>
<polyline points="705.5,823.0 712.2,814.9 718.9,812.3 733.6,812.3 737.6,814.9 751.1,818.3 764.5,816.3 777.9,814.9 791.3,813.6 796.6,811.6 804.7,819.0 811.4,814.9 821.4,813.6" fill="none" stroke="#000" stroke-width="2" stroke-linejoin="round" shape-rendering="crispEdges"/>
<polyline points="717.5,871.2 718.9,867.2 726.9,864.5 736.3,859.8 751.1,868.5 764.5,864.5 777.9,860.5 789.9,857.8 795.3,855.1 803.3,849.8 811.4,853.8 818.1,843.1 821.4,844.4" fill="none" stroke="#000" stroke-width="2" stroke-linejoin="round" shape-rendering="crispEdges"/>
<polyline points="789.9,857.8 789.9,863.2" fill="none" stroke="#000" stroke-width="2" stroke-linejoin="round" shape-rendering="crispEdges"/>
<polyline points="728.9,908.8 729.6,965.1" fill="none" stroke="#000" stroke-width="2" stroke-linejoin="round" shape-rendering="crispEdges"/>
<g transform="translate(305.30 801.20) rotate(-27) scale(1 1.1)"><clipPath id="tc19"><rect x="-5000" y="-5000" width="10000" height="5010.01"/><rect x="-5000" y="16.00" width="10000" height="5000"/><rect x="-5000.00" y="10.01" width="4979.71" height="5.99"/><rect x="-12.25" y="10.01" width="3.65" height="5.99"/><rect x="-0.86" y="10.01" width="2.81" height="5.99"/><rect x="10.00" y="10.01" width="3.65" height="5.99"/><rect x="21.39" y="10.01" width="4978.61" height="5.99"/></clipPath><text x="-22.25 0.00" y="14.00" font-size="40" fill="#262626" clip-path="url(#tc19)" stroke="#262626" stroke-width="0.6">11</text></g>
<g transform="translate(363.10 796.17) scale(1 1.1)"><clipPath id="tc20"><rect x="-5000" y="-5000" width="10000" height="5010.01"/><rect x="-5000" y="16.00" width="10000" height="5000"/><rect x="-5000.00" y="10.01" width="4979.71" height="5.99"/><rect x="-12.25" y="10.01" width="3.65" height="5.99"/><rect x="-0.86" y="10.01" width="5000.86" height="5.99"/></clipPath><text x="-22.25 0.00" y="14.00" font-size="40" fill="#262626" clip-path="url(#tc20)" stroke="#262626" stroke-width="0.6">13</text></g>
<g transform="translate(437.49 822.98) scale(1 1.1)"><text x="-11.12" y="14.00" font-size="40" fill="#262626" stroke="#262626" stroke-width="0.6">9</text></g>
<g transform="translate(602.27 816.27) scale(1 1.1)"><clipPath id="tc21"><rect x="-5000" y="-5000" width="10000" height="5010.01"/><rect x="-5000" y="16.00" width="10000" height="5000"/><rect x="-5000.00" y="10.01" width="4979.71" height="5.99"/><rect x="-12.25" y="10.01" width="3.65" height="5.99"/><rect x="-0.86" y="10.01" width="5000.86" height="5.99"/></clipPath><text x="-22.25 0.00" y="14.00" font-size="40" fill="#262626" clip-path="url(#tc21)" stroke="#262626" stroke-width="0.6">13</text></g>
<g transform="translate(681.35 829.68) rotate(-9) scale(1 1.1)"><clipPath id="tc22"><rect x="-5000" y="-5000" width="10000" height="5010.01"/><rect x="-5000" y="16.00" width="10000" height="5000"/><rect x="-5000.00" y="10.01" width="4979.71" height="5.99"/><rect x="-12.25" y="10.01" width="3.65" height="5.99"/><rect x="-0.86" y="10.01" width="2.81" height="5.99"/><rect x="10.00" y="10.01" width="3.65" height="5.99"/><rect x="21.39" y="10.01" width="4978.61" height="5.99"/></clipPath><text x="-22.25 0.00" y="14.00" font-size="40" fill="#262626" clip-path="url(#tc22)" stroke="#262626" stroke-width="0.6">11</text></g>
<g transform="translate(720.22 892.00) rotate(90) scale(1 1.1)"><text x="-11.12" y="14.00" font-size="40" fill="#262626" stroke="#262626" stroke-width="0.6">9</text></g>
</g>
<rect x="105.5" y="772.5" width="718" height="213" fill="none" stroke="#262626" stroke-width="3"/>
<line x1="105.5" y1="772.5" x2="105.5" y2="779.8" stroke="#262626" stroke-width="3"/>
<line x1="105.5" y1="985.5" x2="105.5" y2="978.2" stroke="#262626" stroke-width="3"/>
<g transform="translate(105.50 1030.90)"><clipPath id="tc23"><rect x="-5000" y="-5000" width="10000" height="4996.39"/><rect x="-5000" y="2.00" width="10000" height="5000"/><rect x="-5000.00" y="-3.61" width="4953.84" height="5.61"/><rect x="-39.12" y="-3.61" width="3.20" height="5.61"/><rect x="-29.16" y="-3.61" width="5029.16" height="5.61"/></clipPath><text x="-47.87 -28.40 -8.94 10.53 24.52" y="0.00" font-size="35" fill="#262626" clip-path="url(#tc23)">120°E</text></g>
<line x1="285.0" y1="772.5" x2="285.0" y2="779.8" stroke="#262626" stroke-width="3"/>
<line x1="285.0" y1="985.5" x2="285.0" y2="978.2" stroke="#262626" stroke-width="3"/>
<g transform="translate(285.00 1030.90)"><clipPath id="tc24"><rect x="-5000" y="-5000" width="10000" height="4996.39"/><rect x="-5000" y="2.00" width="10000" height="5000"/><rect x="-5000.00" y="-3.61" width="4953.84" height="5.61"/><rect x="-39.12" y="-3.61" width="3.20" height="5.61"/><rect x="-29.16" y="-3.61" width="21.93" height="5.61"/><rect x="-0.19" y="-3.61" width="3.20" height="5.61"/><rect x="9.78" y="-3.61" width="4990.22" height="5.61"/></clipPath><text x="-47.87 -28.40 -8.94 10.53 24.52" y="0.00" font-size="35" fill="#262626" clip-path="url(#tc24)">121°E</text></g>
<line x1="464.5" y1="772.5" x2="464.5" y2="779.8" stroke="#262626" stroke-width="3"/>
<line x1="464.5" y1="985.5" x2="464.5" y2="978.2" stroke="#262626" stroke-width="3"/>
<g transform="translate(464.50 1030.90)"><clipPath id="tc25"><rect x="-5000" y="-5000" width="10000" height="4996.39"/><rect x="-5000" y="2.00" width="10000" height="5000"/><rect x="-5000.00" y="-3.61" width="4953.84" height="5.61"/><rect x="-39.12" y="-3.61" width="3.20" height="5.61"/><rect x="-29.16" y="-3.61" width="5029.16" height="5.61"/></clipPath><text x="-47.87 -28.40 -8.94 10.53 24.52" y="0.00" font-size="35" fill="#262626" clip-path="url(#tc25)">122°E</text></g>
<line x1="644.0" y1="772.5" x2="644.0" y2="779.8" stroke="#262626" stroke-width="3"/>
<line x1="644.0" y1="985.5" x2="644.0" y2="978.2" stroke="#262626" stroke-width="3"/>
<g transform="translate(644.00 1030.90)"><clipPath id="tc26"><rect x="-5000" y="-5000" width="10000" height="4996.39"/><rect x="-5000" y="2.00" width="10000" height="5000"/><rect x="-5000.00" y="-3.61" width="4953.84" height="5.61"/><rect x="-39.12" y="-3.61" width="3.20" height="5.61"/><rect x="-29.16" y="-3.61" width="5029.16" height="5.61"/></clipPath><text x="-47.87 -28.40 -8.94 10.53 24.52" y="0.00" font-size="35" fill="#262626" clip-path="url(#tc26)">123°E</text></g>
<line x1="823.5" y1="772.5" x2="823.5" y2="779.8" stroke="#262626" stroke-width="3"/>
<line x1="823.5" y1="985.5" x2="823.5" y2="978.2" stroke="#262626" stroke-width="3"/>
<g transform="translate(823.50 1030.90)"><clipPath id="tc27"><rect x="-5000" y="-5000" width="10000" height="4996.39"/><rect x="-5000" y="2.00" width="10000" height="5000"/><rect x="-5000.00" y="-3.61" width="4953.84" height="5.61"/><rect x="-39.12" y="-3.61" width="3.20" height="5.61"/><rect x="-29.16" y="-3.61" width="5029.16" height="5.61"/></clipPath><text x="-47.87 -28.40 -8.94 10.53 24.52" y="0.00" font-size="35" fill="#262626" clip-path="url(#tc27)">124°E</text></g>
<line x1="105.5" y1="772.5" x2="112.8" y2="772.5" stroke="#262626" stroke-width="3"/>
<line x1="823.5" y1="772.5" x2="816.2" y2="772.5" stroke="#262626" stroke-width="3"/>
<text x="94.0" y="784.8" font-size="35" fill="#262626" text-anchor="end">0</text>
<line x1="105.5" y1="905.6" x2="112.8" y2="905.6" stroke="#262626" stroke-width="3"/>
<line x1="823.5" y1="905.6" x2="816.2" y2="905.6" stroke="#262626" stroke-width="3"/>
<text x="94.0" y="917.9" font-size="35" fill="#262626" text-anchor="end">50</text>
<text x="0" y="0" font-size="39" fill="#262626" text-anchor="middle" transform="translate(41.2 879.0) rotate(-90)">Depth(m)</text>
<g transform="translate(464.50 760.00)"><clipPath id="tc28"><rect x="-5000" y="-5000" width="10000" height="4996.09"/><rect x="-5000" y="2.00" width="10000" height="5000"/><rect x="-5000.00" y="-3.91" width="5076.69" height="5.91"/><rect x="84.53" y="-3.91" width="3.56" height="5.91"/><rect x="95.63" y="-3.91" width="4904.37" height="5.91"/></clipPath><text x="-118.16 -85.67 -63.98 -44.48 -33.65 -11.96 9.73 20.57 31.40 53.09 74.78 96.47" y="0.00" font-size="39" fill="#000" clip-path="url(#tc28)">May 07, 2015</text></g>
<text x="141.7" y="808.5" font-size="42.5" fill="#000">(c)</text>
<rect x="906.5" y="973.70" width="49" height="12.20" fill="#2400D8"/>
<rect x="906.5" y="961.80" width="49" height="12.20" fill="#181CF7"/>
<rect x="906.5" y="949.90" width="49" height="12.20" fill="#2857FF"/>
<rect x="906.5" y="938.00" width="49" height="12.20" fill="#3D87FF"/>
<rect x="906.5" y="926.10" width="49" height="12.20" fill="#56B0FF"/>
<rect x="906.5" y="914.20" width="49" height="12.20" fill="#75D3FF"/>
<rect x="906.5" y="902.30" width="49" height="12.20" fill="#99EAFF"/>
<rect x="906.5" y="890.40" width="49" height="12.20" fill="#BCF9FF"/>
<rect x="906.5" y="878.50" width="49" height="12.20" fill="#EAFFFF"/>
<rect x="906.5" y="866.60" width="49" height="12.20" fill="#FFFFEA"/>
<rect x="906.5" y="854.70" width="49" height="12.20" fill="#FFF1BC"/>
<rect x="906.5" y="842.80" width="49" height="12.20" fill="#FFD699"/>
<rect x="906.5" y="830.90" width="49" height="12.20" fill="#FFAC75"/>
<rect x="906.5" y="819.00" width="49" height="12.20" fill="#FF7856"/>
<rect x="906.5" y="807.10" width="49" height="12.20" fill="#FF3D3D"/>
<rect x="906.5" y="795.20" width="49" height="12.20" fill="#F72735"/>
<rect x="906.5" y="783.30" width="49" height="12.20" fill="#D8152F"/>
<rect x="906.5" y="772.50" width="49" height="11.10" fill="#A50021"/>
<rect x="906.5" y="772.5" width="49" height="213" fill="none" stroke="#262626" stroke-width="3"/>
<line x1="951.5" y1="941.2" x2="955.5" y2="941.2" stroke="#262626" stroke-width="2.8"/>
<g transform="translate(970.50 952.55)"><clipPath id="tc29"><rect x="-5000" y="-5000" width="10000" height="4996.61"/><rect x="-5000" y="2.00" width="10000" height="5000"/><rect x="-5000.00" y="-3.39" width="5001.56" height="5.39"/><rect x="8.00" y="-3.39" width="2.92" height="5.39"/><rect x="17.11" y="-3.39" width="4982.89" height="5.39"/></clipPath><text x="0.00 17.80" y="0.00" font-size="32" fill="#262626" clip-path="url(#tc29)">10</text></g>
<line x1="951.5" y1="885.0" x2="955.5" y2="885.0" stroke="#262626" stroke-width="2.8"/>
<g transform="translate(970.50 896.30)"><clipPath id="tc30"><rect x="-5000" y="-5000" width="10000" height="4996.61"/><rect x="-5000" y="2.00" width="10000" height="5000"/><rect x="-5000.00" y="-3.39" width="5001.56" height="5.39"/><rect x="8.00" y="-3.39" width="2.92" height="5.39"/><rect x="17.11" y="-3.39" width="4982.89" height="5.39"/></clipPath><text x="0.00 17.80" y="0.00" font-size="32" fill="#262626" clip-path="url(#tc30)">15</text></g>
<line x1="951.5" y1="828.8" x2="955.5" y2="828.8" stroke="#262626" stroke-width="2.8"/>
<g transform="translate(970.50 840.05)"><text x="0.00 17.80" y="0.00" font-size="32" fill="#262626">20</text></g>
<g transform="translate(970.50 783.80)"><text x="0.00 17.80" y="0.00" font-size="32" fill="#262626">25</text></g>
<defs><clipPath id="clipd"><rect x="105.5" y="1132.5" width="718" height="213"/></clipPath></defs>
<g clip-path="url(#clipd)" shape-rendering="crispEdges">
<polygon points="286.0,1136.7 560.0,1136.7 560.0,1262.7 479.7,1262.7 474.4,1262.1 460.9,1260.7 447.5,1260.7 440.2,1262.7 439.5,1269.4 435.5,1268.8 432.8,1262.1 419.4,1259.4 418.1,1254.7 405.3,1251.3 404.7,1244.0 391.9,1242.0 391.2,1233.2 381.9,1231.2 377.8,1223.2 365.8,1222.5 365.1,1216.5 360.4,1213.1 336.3,1212.5 329.6,1217.8 326.9,1225.2 318.9,1223.2 316.2,1228.5 310.8,1229.9 306.8,1220.5 304.1,1231.9 300.1,1224.5 296.1,1233.2 286.0,1229.9" fill="#3D87FF"/>
<polygon points="550.0,1136.7 819.7,1136.7 819.7,1331.8 812.7,1327.7 804.7,1329.1 791.9,1325.1 791.3,1311.6 784.6,1308.3 777.9,1311.6 777.9,1321.0 769.8,1326.4 763.1,1329.1 763.1,1319.7 755.1,1317.0 755.1,1268.1 747.0,1266.1 739.0,1268.8 738.3,1326.4 732.3,1325.1 725.6,1326.4 692.1,1326.4 663.9,1325.1 655.9,1323.7 635.8,1321.0 630.4,1319.7 620.4,1318.4 619.7,1313.7 611.7,1311.0 606.3,1313.0 591.6,1313.7 590.2,1311.0 576.1,1307.6 575.5,1299.6 569.4,1298.2 568.8,1263.4 550.0,1262.7" fill="#3D87FF"/>
<polygon points="330.9,1136.7 560.0,1136.7 560.0,1204.4 521.3,1203.1 494.5,1199.1 467.6,1197.7 440.8,1195.0 414.0,1196.4 384.5,1193.7 373.8,1185.7 371.1,1223.2 363.1,1223.2 363.1,1212.5 330.9,1212.5" fill="#56B0FF"/>
<polygon points="330.9,1136.7 560.0,1136.7 560.0,1195.0 521.3,1192.4 494.5,1189.7 467.6,1188.3 440.8,1188.3 414.0,1191.0 400.6,1189.7 387.2,1191.0 376.5,1180.3 363.1,1179.0 363.1,1212.5 330.9,1212.5" fill="#75D3FF"/>
<polygon points="330.9,1136.7 560.0,1136.7 560.0,1187.0 534.7,1184.3 507.9,1180.3 481.1,1180.3 454.2,1181.6 427.4,1184.3 414.0,1184.3 400.6,1183.0 387.2,1185.7 376.5,1177.6 367.1,1180.3 360.4,1164.2 330.9,1161.5" fill="#99EAFF"/>
<polygon points="330.9,1136.7 560.0,1136.7 560.0,1173.6 521.3,1169.6 494.5,1168.2 467.6,1169.6 440.8,1174.9 422.1,1177.6 412.7,1169.6 398.0,1169.6 391.2,1184.3 381.9,1173.6 376.5,1169.6 369.8,1176.3 363.1,1165.6 355.1,1160.2 330.9,1160.2" fill="#BCF9FF"/>
<polygon points="330.9,1136.7 560.0,1136.7 560.0,1160.2 534.7,1158.8 507.9,1157.5 481.1,1158.8 454.2,1158.8 432.8,1158.8 414.0,1156.2 398.0,1154.8 391.2,1165.6 381.9,1158.8 371.1,1164.2 360.4,1156.2 330.9,1157.5" fill="#EAFFFF"/>
<polygon points="330.9,1136.7 560.0,1136.7 560.0,1150.1 521.3,1149.5 494.5,1149.5 467.6,1148.1 440.8,1150.8 427.4,1153.5 414.0,1152.1 400.6,1150.8 387.2,1152.1 373.8,1154.8 360.4,1150.8 330.9,1153.5" fill="#FFFFEA"/>
<polygon points="360.4,1136.7 467.6,1136.7 454.2,1141.4 414.0,1140.8 387.2,1141.4" fill="#FFF1BC"/>
<polygon points="381.9,1231.2 383.2,1196.4 400.6,1196.4 414.0,1199.1 440.8,1199.1 467.6,1195.0 481.1,1196.4 491.8,1204.4 494.5,1217.8 495.8,1262.7 479.7,1262.7 474.4,1262.1 460.9,1260.7 447.5,1260.7 440.2,1262.7 439.5,1269.4 435.5,1268.8 432.8,1262.1 419.4,1259.4 418.1,1254.7 405.3,1251.3 404.7,1244.0 391.9,1242.0 391.2,1233.2" fill="#2857FF"/>
<polygon points="286.0,1136.7 330.9,1136.7 330.9,1217.8 329.6,1217.8 326.9,1225.2 318.9,1223.2 316.2,1228.5 310.8,1229.9 306.8,1220.5 304.1,1231.9 300.1,1224.5 296.1,1233.2 286.0,1229.9" fill="#56B0FF"/>
<polygon points="288.0,1164.2 292.7,1164.2 292.7,1231.2 288.0,1229.9" fill="#3D87FF"/>
<polygon points="297.4,1164.2 302.1,1164.2 302.1,1228.5 297.4,1229.9" fill="#3D87FF"/>
<polygon points="312.2,1164.2 316.2,1164.2 316.2,1228.5 312.2,1229.2" fill="#3D87FF"/>
<polygon points="321.6,1164.2 324.9,1164.2 324.9,1223.2 321.6,1223.2" fill="#3D87FF"/>
<polygon points="306.8,1164.2 310.2,1164.2 310.2,1217.8 306.8,1217.8" fill="#75D3FF"/>
<polygon points="285.4,1137.4 330.9,1137.4 330.9,1153.5 320.2,1157.5 306.8,1158.8 296.1,1157.5 285.4,1156.2" fill="#151515"/>
<polygon points="550.0,1136.7 819.7,1136.7 819.7,1204.4 777.9,1209.8 751.1,1212.5 724.2,1216.5 705.5,1225.9 701.5,1243.3 684.0,1231.2 663.9,1232.6 643.8,1231.2 625.1,1220.5 610.3,1204.4 596.9,1220.5 583.5,1217.8 570.1,1204.4 550.0,1200.4" fill="#56B0FF"/>
<polygon points="550.0,1136.7 819.7,1136.7 819.7,1195.0 777.9,1199.1 751.1,1201.7 717.5,1204.4 708.2,1215.1 684.0,1217.8 657.2,1212.5 637.1,1217.8 625.1,1209.8 610.3,1199.1 596.9,1209.8 583.5,1209.8 570.1,1200.4 550.0,1193.7" fill="#75D3FF"/>
<polygon points="550.0,1136.7 819.7,1136.7 819.7,1181.6 777.9,1185.7 751.1,1187.0 717.5,1187.0 708.2,1199.1 684.0,1199.1 657.2,1197.7 637.1,1207.1 625.1,1196.4 610.3,1184.3 596.9,1191.0 583.5,1193.7 570.1,1188.3 550.0,1180.3" fill="#99EAFF"/>
<polygon points="550.0,1136.7 819.7,1136.7 819.7,1173.6 777.9,1174.9 751.1,1176.3 717.5,1174.9 708.2,1188.3 684.0,1187.0 657.2,1184.3 641.1,1193.7 625.1,1185.7 611.7,1174.9 596.9,1181.6 583.5,1180.3 570.1,1170.9 550.0,1164.2" fill="#BCF9FF"/>
<polygon points="550.0,1136.7 819.7,1136.7 819.7,1158.8 777.9,1160.2 751.1,1161.5 717.5,1164.2 708.2,1169.6 684.0,1168.2 657.2,1165.6 641.1,1173.6 625.1,1170.9 611.7,1164.2 596.9,1170.9 583.5,1165.6 570.1,1157.5 550.0,1156.2" fill="#EAFFFF"/>
<polygon points="550.0,1136.7 819.7,1136.7 819.7,1152.1 798.0,1150.8 777.9,1152.1 751.1,1153.5 721.6,1152.1 708.2,1165.6 684.0,1162.9 663.9,1162.9 657.2,1157.5 643.8,1161.5 625.1,1166.9 611.7,1160.2 596.9,1168.2 583.5,1162.9 570.1,1153.5 550.0,1153.5" fill="#FFFFEA"/>
<polygon points="594.2,1136.7 610.3,1136.7 605.0,1142.1" fill="#FFF1BC"/>
<polygon points="625.1,1137.4 643.8,1137.4 642.5,1138.7 626.4,1138.7" fill="#FFF1BC"/>
<polygon points="661.2,1136.7 717.5,1136.7 708.2,1140.8 670.6,1140.1" fill="#FFF1BC"/>
<polygon points="737.6,1136.7 771.2,1136.7 764.5,1138.1 740.3,1138.1" fill="#FFF1BC"/>
<polygon points="724.9,1244.6 737.6,1225.9 755.1,1221.8 769.8,1225.9 777.9,1220.5 788.6,1216.5 798.0,1212.5 811.4,1211.1 819.7,1209.8 819.7,1331.8 812.7,1327.7 804.7,1329.1 791.9,1325.1 791.3,1311.6 784.6,1308.3 777.9,1311.6 777.9,1321.0 769.8,1326.4 763.1,1329.1 763.1,1319.7 755.1,1317.0 755.1,1268.1 747.0,1266.1 739.0,1268.8 738.3,1326.4 732.3,1325.1 725.6,1326.4" fill="#2857FF"/>
<polyline points="288.0,1137.4 288.0,1209.8" fill="none" stroke="#000" stroke-width="2" stroke-linejoin="round" shape-rendering="crispEdges"/>
<polyline points="293.4,1137.4 293.4,1212.5" fill="none" stroke="#000" stroke-width="2" stroke-linejoin="round" shape-rendering="crispEdges"/>
<polyline points="297.4,1137.4 297.4,1199.1" fill="none" stroke="#000" stroke-width="2" stroke-linejoin="round" shape-rendering="crispEdges"/>
<polyline points="308.8,1137.4 308.8,1220.5" fill="none" stroke="#000" stroke-width="2" stroke-linejoin="round" shape-rendering="crispEdges"/>
<polyline points="316.9,1137.4 316.9,1220.5" fill="none" stroke="#000" stroke-width="2" stroke-linejoin="round" shape-rendering="crispEdges"/>
<polyline points="324.2,1137.4 324.2,1217.8" fill="none" stroke="#000" stroke-width="2" stroke-linejoin="round" shape-rendering="crispEdges"/>
<polyline points="329.6,1137.4 329.6,1219.2" fill="none" stroke="#000" stroke-width="2" stroke-linejoin="round" shape-rendering="crispEdges"/>
<polyline points="313.5,1137.4 313.5,1217.8" fill="none" stroke="#000" stroke-width="2" stroke-linejoin="round" shape-rendering="crispEdges"/>
<polyline points="330.9,1155.5 340.3,1152.1 349.7,1150.8 357.7,1151.5 364.4,1156.2 371.1,1162.9 381.9,1157.5 391.2,1164.2 398.0,1152.1 406.0,1155.5 414.0,1154.2 424.8,1154.8 432.8,1157.5" fill="none" stroke="#000" stroke-width="2" stroke-linejoin="round" shape-rendering="crispEdges"/>
<polyline points="333.6,1161.5 341.7,1160.9 349.7,1160.2 357.7,1159.5 363.1,1164.2 369.8,1174.9 376.5,1168.2 381.9,1172.3 391.2,1183.0 398.0,1168.2 406.0,1170.9 412.7,1168.2 422.1,1176.9" fill="none" stroke="#000" stroke-width="2" stroke-linejoin="round" shape-rendering="crispEdges"/>
<polyline points="361.8,1212.5 363.1,1179.0 368.5,1183.0 376.5,1177.6 384.5,1183.0 389.9,1188.3 398.0,1187.0 406.0,1189.7 412.7,1188.3 419.4,1191.0 427.4,1187.0 434.1,1184.3 440.8,1185.7 447.5,1181.6" fill="none" stroke="#000" stroke-width="2" stroke-linejoin="round" shape-rendering="crispEdges"/>
<polyline points="404.7,1200.4 398.0,1197.0 391.2,1195.0 384.5,1197.0 383.2,1204.4 381.9,1217.8 381.9,1231.2" fill="none" stroke="#000" stroke-width="2" stroke-linejoin="round" shape-rendering="crispEdges"/>
<polyline points="444.2,1196.4 448.9,1193.0 456.9,1193.0 466.3,1192.4 469.0,1196.4 473.0,1204.4 478.4,1207.8 483.7,1206.4 491.8,1204.4 481.1,1197.0 479.7,1207.1 479.7,1262.1" fill="none" stroke="#000" stroke-width="2" stroke-linejoin="round" shape-rendering="crispEdges"/>
<polyline points="499.8,1150.1 542.7,1150.1 560.0,1151.5" fill="none" stroke="#000" stroke-width="2" stroke-linejoin="round" shape-rendering="crispEdges"/>
<polyline points="489.1,1162.9 507.9,1164.2 521.3,1166.9 534.7,1170.9 548.1,1174.9 560.0,1179.0" fill="none" stroke="#000" stroke-width="2" stroke-linejoin="round" shape-rendering="crispEdges"/>
<polyline points="514.6,1185.7 528.0,1189.7 541.4,1193.7 560.0,1197.7" fill="none" stroke="#000" stroke-width="2" stroke-linejoin="round" shape-rendering="crispEdges"/>
<polyline points="550.0,1150.8 570.1,1150.8 583.5,1161.5 590.2,1158.8 598.3,1168.9 605.0,1165.6 611.7,1156.8 627.7,1166.9 634.4,1160.9 641.1,1165.6 643.8,1161.5 657.2,1154.8 665.3,1162.2 684.0,1162.9 701.5,1160.2 708.2,1165.6 718.9,1152.1 724.2,1149.5 737.6,1152.1 748.4,1152.8 755.1,1150.1 763.1,1154.2 777.9,1151.5 791.3,1148.8 798.0,1148.8 804.7,1151.5 812.7,1151.5 819.7,1148.8" fill="none" stroke="#000" stroke-width="2" stroke-linejoin="round" shape-rendering="crispEdges"/>
<polyline points="550.0,1174.3 567.4,1181.6 576.8,1189.0 582.2,1188.3 590.2,1193.0 596.9,1190.3 603.6,1180.3 611.7,1178.3 621.0,1187.0 634.4,1204.4 642.5,1201.1 643.8,1197.7 651.9,1199.7 657.2,1188.3 670.6,1195.7 678.7,1193.7 686.7,1196.4 696.1,1188.3 701.5,1187.0 708.2,1196.4 716.2,1181.6 724.2,1181.6 737.6,1179.0 747.0,1185.0 764.5,1181.6 777.9,1180.3 784.6,1185.7 791.3,1183.0 804.7,1185.7 819.7,1179.6" fill="none" stroke="#000" stroke-width="2" stroke-linejoin="round" shape-rendering="crispEdges"/>
<polyline points="550.0,1196.4 568.8,1199.7 582.2,1211.1 596.9,1211.1 605.0,1195.0 611.7,1193.0 619.7,1197.7 626.4,1216.5 637.1,1219.8 649.2,1223.2 665.3,1215.1 678.7,1223.9 688.1,1217.8 701.5,1224.5 708.2,1218.5 716.2,1207.8 724.2,1207.1 730.9,1210.5 739.0,1201.7 747.0,1207.8 756.4,1204.4 769.8,1204.4 777.9,1199.7 784.6,1201.7 791.3,1197.0 804.7,1201.7 819.7,1196.4" fill="none" stroke="#000" stroke-width="2" stroke-linejoin="round" shape-rendering="crispEdges"/>
<polyline points="753.7,1232.6 761.8,1233.2 777.9,1223.9 784.6,1228.5 792.6,1216.5 799.3,1213.8 811.4,1218.5 819.7,1216.5" fill="none" stroke="#000" stroke-width="2" stroke-linejoin="round" shape-rendering="crispEdges"/>
<polyline points="730.9,1263.4 739.0,1252.7 739.7,1267.4" fill="none" stroke="#000" stroke-width="2" stroke-linejoin="round" shape-rendering="crispEdges"/>
<g transform="translate(466.40 1152.00) rotate(-6) scale(1 1.1)"><clipPath id="tc31"><rect x="-5000" y="-5000" width="10000" height="5010.01"/><rect x="-5000" y="16.00" width="10000" height="5000"/><rect x="-5000.00" y="10.01" width="4979.71" height="5.99"/><rect x="-12.25" y="10.01" width="3.65" height="5.99"/><rect x="-0.86" y="10.01" width="5000.86" height="5.99"/></clipPath><text x="-22.25 0.00" y="14.00" font-size="40" fill="#262626" clip-path="url(#tc31)" stroke="#262626" stroke-width="0.6">15</text></g>
<g transform="translate(456.00 1170.00) rotate(-22) scale(1 1.1)"><clipPath id="tc32"><rect x="-5000" y="-5000" width="10000" height="5010.01"/><rect x="-5000" y="16.00" width="10000" height="5000"/><rect x="-5000.00" y="10.01" width="4979.71" height="5.99"/><rect x="-12.25" y="10.01" width="3.65" height="5.99"/><rect x="-0.86" y="10.01" width="5000.86" height="5.99"/></clipPath><text x="-22.25 0.00" y="14.00" font-size="40" fill="#262626" clip-path="url(#tc32)" stroke="#262626" stroke-width="0.6">13</text></g>
<g transform="translate(482.00 1184.00) rotate(2) scale(1 1.1)"><clipPath id="tc33"><rect x="-5000" y="-5000" width="10000" height="5010.01"/><rect x="-5000" y="16.00" width="10000" height="5000"/><rect x="-5000.00" y="10.01" width="4979.71" height="5.99"/><rect x="-12.25" y="10.01" width="3.65" height="5.99"/><rect x="-0.86" y="10.01" width="2.81" height="5.99"/><rect x="10.00" y="10.01" width="3.65" height="5.99"/><rect x="21.39" y="10.01" width="4978.61" height="5.99"/></clipPath><text x="-22.25 0.00" y="14.00" font-size="40" fill="#262626" clip-path="url(#tc33)" stroke="#262626" stroke-width="0.6">11</text></g>
<g transform="translate(426.10 1201.07) scale(1 1.1)"><text x="-11.12" y="14.00" font-size="40" fill="#262626" stroke="#262626" stroke-width="0.6">9</text></g>
<g transform="translate(738.99 1243.29) rotate(-35) scale(1 1.1)"><text x="-11.12" y="14.00" font-size="40" fill="#262626" stroke="#262626" stroke-width="0.6">9</text></g>
<g transform="translate(291.00 1180.00) rotate(-85) scale(1 1.1)"><clipPath id="tc34"><rect x="-5000" y="-5000" width="10000" height="5010.01"/><rect x="-5000" y="16.00" width="10000" height="5000"/><rect x="-5000.00" y="10.01" width="4979.71" height="5.99"/><rect x="-12.25" y="10.01" width="3.65" height="5.99"/><rect x="-0.86" y="10.01" width="2.81" height="5.99"/><rect x="10.00" y="10.01" width="3.65" height="5.99"/><rect x="21.39" y="10.01" width="4978.61" height="5.99"/></clipPath><text x="-22.25 0.00" y="14.00" font-size="40" fill="#262626" clip-path="url(#tc34)" stroke="#262626" stroke-width="0.6">11</text></g>
<g transform="translate(312.50 1165.20) rotate(-79) scale(1 1.1)"><clipPath id="tc35"><rect x="-5000" y="-5000" width="10000" height="5010.01"/><rect x="-5000" y="16.00" width="10000" height="5000"/><rect x="-5000.00" y="10.01" width="4979.71" height="5.99"/><rect x="-12.25" y="10.01" width="3.65" height="5.99"/><rect x="-0.86" y="10.01" width="2.81" height="5.99"/><rect x="10.00" y="10.01" width="3.65" height="5.99"/><rect x="21.39" y="10.01" width="4978.61" height="5.99"/></clipPath><text x="-22.25 0.00" y="14.00" font-size="40" fill="#262626" clip-path="url(#tc35)" stroke="#262626" stroke-width="0.6">11</text></g>
<g transform="translate(327.40 1174.40) rotate(-82) scale(1 1.1)"><clipPath id="tc36"><rect x="-5000" y="-5000" width="10000" height="5010.01"/><rect x="-5000" y="16.00" width="10000" height="5000"/><rect x="-5000.00" y="10.01" width="4979.71" height="5.99"/><rect x="-12.25" y="10.01" width="3.65" height="5.99"/><rect x="-0.86" y="10.01" width="2.81" height="5.99"/><rect x="10.00" y="10.01" width="3.65" height="5.99"/><rect x="21.39" y="10.01" width="4978.61" height="5.99"/></clipPath><text x="-22.25 0.00" y="14.00" font-size="40" fill="#262626" clip-path="url(#tc36)" stroke="#262626" stroke-width="0.6">11</text></g>
</g>
<rect x="105.5" y="1132.5" width="718" height="213" fill="none" stroke="#262626" stroke-width="3"/>
<line x1="105.5" y1="1132.5" x2="105.5" y2="1139.8" stroke="#262626" stroke-width="3"/>
<line x1="105.5" y1="1345.5" x2="105.5" y2="1338.2" stroke="#262626" stroke-width="3"/>
<g transform="translate(105.50 1390.90)"><clipPath id="tc37"><rect x="-5000" y="-5000" width="10000" height="4996.39"/><rect x="-5000" y="2.00" width="10000" height="5000"/><rect x="-5000.00" y="-3.61" width="4953.84" height="5.61"/><rect x="-39.12" y="-3.61" width="3.20" height="5.61"/><rect x="-29.16" y="-3.61" width="5029.16" height="5.61"/></clipPath><text x="-47.87 -28.40 -8.94 10.53 24.52" y="0.00" font-size="35" fill="#262626" clip-path="url(#tc37)">120°E</text></g>
<line x1="285.0" y1="1132.5" x2="285.0" y2="1139.8" stroke="#262626" stroke-width="3"/>
<line x1="285.0" y1="1345.5" x2="285.0" y2="1338.2" stroke="#262626" stroke-width="3"/>
<g transform="translate(285.00 1390.90)"><clipPath id="tc38"><rect x="-5000" y="-5000" width="10000" height="4996.39"/><rect x="-5000" y="2.00" width="10000" height="5000"/><rect x="-5000.00" y="-3.61" width="4953.84" height="5.61"/><rect x="-39.12" y="-3.61" width="3.20" height="5.61"/><rect x="-29.16" y="-3.61" width="21.93" height="5.61"/><rect x="-0.19" y="-3.61" width="3.20" height="5.61"/><rect x="9.78" y="-3.61" width="4990.22" height="5.61"/></clipPath><text x="-47.87 -28.40 -8.94 10.53 24.52" y="0.00" font-size="35" fill="#262626" clip-path="url(#tc38)">121°E</text></g>
<line x1="464.5" y1="1132.5" x2="464.5" y2="1139.8" stroke="#262626" stroke-width="3"/>
<line x1="464.5" y1="1345.5" x2="464.5" y2="1338.2" stroke="#262626" stroke-width="3"/>
<g transform="translate(464.50 1390.90)"><clipPath id="tc39"><rect x="-5000" y="-5000" width="10000" height="4996.39"/><rect x="-5000" y="2.00" width="10000" height="5000"/><rect x="-5000.00" y="-3.61" width="4953.84" height="5.61"/><rect x="-39.12" y="-3.61" width="3.20" height="5.61"/><rect x="-29.16" y="-3.61" width="5029.16" height="5.61"/></clipPath><text x="-47.87 -28.40 -8.94 10.53 24.52" y="0.00" font-size="35" fill="#262626" clip-path="url(#tc39)">122°E</text></g>
<line x1="644.0" y1="1132.5" x2="644.0" y2="1139.8" stroke="#262626" stroke-width="3"/>
<line x1="644.0" y1="1345.5" x2="644.0" y2="1338.2" stroke="#262626" stroke-width="3"/>
<g transform="translate(644.00 1390.90)"><clipPath id="tc40"><rect x="-5000" y="-5000" width="10000" height="4996.39"/><rect x="-5000" y="2.00" width="10000" height="5000"/><rect x="-5000.00" y="-3.61" width="4953.84" height="5.61"/><rect x="-39.12" y="-3.61" width="3.20" height="5.61"/><rect x="-29.16" y="-3.61" width="5029.16" height="5.61"/></clipPath><text x="-47.87 -28.40 -8.94 10.53 24.52" y="0.00" font-size="35" fill="#262626" clip-path="url(#tc40)">123°E</text></g>
<line x1="823.5" y1="1132.5" x2="823.5" y2="1139.8" stroke="#262626" stroke-width="3"/>
<line x1="823.5" y1="1345.5" x2="823.5" y2="1338.2" stroke="#262626" stroke-width="3"/>
<g transform="translate(823.50 1390.90)"><clipPath id="tc41"><rect x="-5000" y="-5000" width="10000" height="4996.39"/><rect x="-5000" y="2.00" width="10000" height="5000"/><rect x="-5000.00" y="-3.61" width="4953.84" height="5.61"/><rect x="-39.12" y="-3.61" width="3.20" height="5.61"/><rect x="-29.16" y="-3.61" width="5029.16" height="5.61"/></clipPath><text x="-47.87 -28.40 -8.94 10.53 24.52" y="0.00" font-size="35" fill="#262626" clip-path="url(#tc41)">124°E</text></g>
<line x1="105.5" y1="1132.5" x2="112.8" y2="1132.5" stroke="#262626" stroke-width="3"/>
<line x1="823.5" y1="1132.5" x2="816.2" y2="1132.5" stroke="#262626" stroke-width="3"/>
<text x="94.0" y="1144.8" font-size="35" fill="#262626" text-anchor="end">0</text>
<line x1="105.5" y1="1265.6" x2="112.8" y2="1265.6" stroke="#262626" stroke-width="3"/>
<line x1="823.5" y1="1265.6" x2="816.2" y2="1265.6" stroke="#262626" stroke-width="3"/>
<text x="94.0" y="1277.9" font-size="35" fill="#262626" text-anchor="end">50</text>
<text x="0" y="0" font-size="39" fill="#262626" text-anchor="middle" transform="translate(41.2 1239.0) rotate(-90)">Depth(m)</text>
<g transform="translate(464.50 1120.00)"><clipPath id="tc42"><rect x="-5000" y="-5000" width="10000" height="4996.09"/><rect x="-5000" y="2.00" width="10000" height="5000"/><rect x="-5000.00" y="-3.91" width="5076.69" height="5.91"/><rect x="84.53" y="-3.91" width="3.56" height="5.91"/><rect x="95.63" y="-3.91" width="4904.37" height="5.91"/></clipPath><text x="-118.16 -85.67 -63.98 -44.48 -33.65 -11.96 9.73 20.57 31.40 53.09 74.78 96.47" y="0.00" font-size="39" fill="#000" clip-path="url(#tc42)">May 23, 2015</text></g>
<text x="141.7" y="1168.5" font-size="42.5" fill="#000">(d)</text>
<rect x="906.5" y="1333.70" width="49" height="12.20" fill="#2400D8"/>
<rect x="906.5" y="1321.80" width="49" height="12.20" fill="#181CF7"/>
<rect x="906.5" y="1309.90" width="49" height="12.20" fill="#2857FF"/>
<rect x="906.5" y="1298.00" width="49" height="12.20" fill="#3D87FF"/>
<rect x="906.5" y="1286.10" width="49" height="12.20" fill="#56B0FF"/>
<rect x="906.5" y="1274.20" width="49" height="12.20" fill="#75D3FF"/>
<rect x="906.5" y="1262.30" width="49" height="12.20" fill="#99EAFF"/>
<rect x="906.5" y="1250.40" width="49" height="12.20" fill="#BCF9FF"/>
<rect x="906.5" y="1238.50" width="49" height="12.20" fill="#EAFFFF"/>
<rect x="906.5" y="1226.60" width="49" height="12.20" fill="#FFFFEA"/>
<rect x="906.5" y="1214.70" width="49" height="12.20" fill="#FFF1BC"/>
<rect x="906.5" y="1202.80" width="49" height="12.20" fill="#FFD699"/>
<rect x="906.5" y="1190.90" width="49" height="12.20" fill="#FFAC75"/>
<rect x="906.5" y="1179.00" width="49" height="12.20" fill="#FF7856"/>
<rect x="906.5" y="1167.10" width="49" height="12.20" fill="#FF3D3D"/>
<rect x="906.5" y="1155.20" width="49" height="12.20" fill="#F72735"/>
<rect x="906.5" y="1143.30" width="49" height="12.20" fill="#D8152F"/>
<rect x="906.5" y="1132.50" width="49" height="11.10" fill="#A50021"/>
<rect x="906.5" y="1132.5" width="49" height="213" fill="none" stroke="#262626" stroke-width="3"/>
<line x1="951.5" y1="1301.2" x2="955.5" y2="1301.2" stroke="#262626" stroke-width="2.8"/>
<g transform="translate(970.50 1312.55)"><clipPath id="tc43"><rect x="-5000" y="-5000" width="10000" height="4996.61"/><rect x="-5000" y="2.00" width="10000" height="5000"/><rect x="-5000.00" y="-3.39" width="5001.56" height="5.39"/><rect x="8.00" y="-3.39" width="2.92" height="5.39"/><rect x="17.11" y="-3.39" width="4982.89" height="5.39"/></clipPath><text x="0.00 17.80" y="0.00" font-size="32" fill="#262626" clip-path="url(#tc43)">10</text></g>
<line x1="951.5" y1="1245.0" x2="955.5" y2="1245.0" stroke="#262626" stroke-width="2.8"/>
<g transform="translate(970.50 1256.30)"><clipPath id="tc44"><rect x="-5000" y="-5000" width="10000" height="4996.61"/><rect x="-5000" y="2.00" width="10000" height="5000"/><rect x="-5000.00" y="-3.39" width="5001.56" height="5.39"/><rect x="8.00" y="-3.39" width="2.92" height="5.39"/><rect x="17.11" y="-3.39" width="4982.89" height="5.39"/></clipPath><text x="0.00 17.80" y="0.00" font-size="32" fill="#262626" clip-path="url(#tc44)">15</text></g>
<line x1="951.5" y1="1188.8" x2="955.5" y2="1188.8" stroke="#262626" stroke-width="2.8"/>
<g transform="translate(970.50 1200.05)"><text x="0.00 17.80" y="0.00" font-size="32" fill="#262626">20</text></g>
<g transform="translate(970.50 1143.80)"><text x="0.00 17.80" y="0.00" font-size="32" fill="#262626">25</text></g>
<defs><clipPath id="clipe"><rect x="105.5" y="1493.5" width="718" height="213"/></clipPath></defs>
<g clip-path="url(#clipe)" shape-rendering="crispEdges">
<polygon points="528.0,1495.8 772.9,1495.8 777.9,1500.5 777.9,1690.8 734.1,1689.4 726.9,1685.1 696.7,1683.6 647.2,1682.9 640.0,1679.3 640.0,1669.3 617.8,1667.8 606.3,1666.4 593.3,1664.9 571.8,1663.5 563.2,1658.5 543.1,1658.5 543.1,1653.5 537.3,1651.3 528.0,1650.6" fill="#3D87FF"/>
<polygon points="528.0,1495.8 773.6,1495.8 777.9,1500.1 777.9,1577.3 758.5,1581.7 744.1,1584.5 729.8,1587.4 715.4,1596.0 703.9,1607.5 698.2,1596.0 686.7,1596.0 676.6,1601.8 672.3,1593.1 650.8,1593.1 643.6,1577.3 600.5,1580.2 571.8,1581.7 564.6,1578.8 557.4,1567.3 543.1,1567.3 534.5,1565.9 528.0,1578.8" fill="#56B0FF"/>
<polygon points="528.0,1495.8 773.6,1495.8 777.9,1500.1 777.9,1567.3 758.5,1571.6 729.8,1575.9 701.1,1573.0 672.3,1570.2 643.6,1570.2 600.5,1573.0 574.7,1574.5 563.2,1570.2 557.4,1561.5 543.1,1561.5 528.0,1564.4" fill="#75D3FF"/>
<polygon points="528.0,1495.8 773.6,1495.8 777.9,1500.1 777.9,1560.1 758.5,1561.5 729.8,1564.4 701.1,1560.1 672.3,1561.5 643.6,1561.5 574.7,1567.3 564.6,1561.5 557.4,1554.4 543.1,1554.4 528.0,1558.7" fill="#99EAFF"/>
<polygon points="528.0,1495.8 773.6,1495.8 777.9,1500.1 777.9,1552.9 744.1,1554.4 729.8,1555.8 715.4,1554.4 693.9,1551.5 672.3,1552.9 643.6,1554.4 579.0,1552.9 564.6,1552.9 557.4,1547.2 543.1,1547.2 528.0,1550.1" fill="#BCF9FF"/>
<polygon points="528.0,1495.8 773.6,1495.8 777.9,1500.1 777.9,1545.8 744.1,1547.2 729.8,1550.1 715.4,1547.2 693.9,1544.3 672.3,1545.8 643.6,1547.2 579.0,1547.2 564.6,1550.1 557.4,1544.3 543.1,1541.4 528.0,1541.4" fill="#EAFFFF"/>
<polygon points="528.0,1495.8 773.6,1495.8 777.9,1500.1 777.9,1540.0 744.1,1541.4 729.8,1544.3 715.4,1540.0 693.9,1537.1 672.3,1541.4 643.6,1542.9 579.0,1544.3 563.2,1544.3 557.4,1538.6 543.1,1538.6 535.9,1534.3 528.0,1537.1" fill="#FFFFEA"/>
<polygon points="528.0,1495.8 773.6,1495.8 777.9,1500.1 777.9,1535.7 744.1,1537.1 729.8,1538.6 715.4,1534.3 693.9,1531.4 672.3,1532.8 643.6,1537.1 571.8,1535.7 543.1,1534.3 528.0,1531.4" fill="#FFF1BC"/>
<polygon points="528.0,1495.8 773.6,1495.8 777.9,1500.1 777.9,1530.0 758.5,1532.1 744.1,1530.7 729.8,1532.8 715.4,1530.0 693.9,1525.6 672.3,1527.1 658.0,1528.5 643.6,1531.4 571.8,1530.0 543.1,1530.0 534.5,1525.6 528.0,1527.1" fill="#FFD699"/>
<polygon points="528.0,1495.8 773.6,1495.8 777.9,1500.1 777.9,1527.1 772.9,1531.4 758.5,1530.0 744.1,1528.5 729.8,1530.0 715.4,1527.1 693.9,1522.8 672.3,1524.2 653.7,1530.0 643.6,1527.1 614.9,1527.1 600.5,1525.6 586.2,1525.6 571.8,1527.1 543.1,1527.1 534.5,1522.1 528.0,1523.5" fill="#FFAC75"/>
<polygon points="528.0,1495.8 773.6,1495.8 777.9,1500.1 777.9,1522.8 772.9,1524.2 758.5,1522.8 744.1,1519.9 729.8,1520.6 715.4,1519.9 701.1,1518.5 686.7,1517.7 672.3,1519.2 658.0,1517.0 643.6,1518.5 629.2,1519.2 614.9,1519.9 600.5,1518.5 586.2,1519.9 571.8,1519.2 557.4,1519.9 543.1,1521.3 534.5,1516.3 528.0,1518.5" fill="#FF7856"/>
<polygon points="685.3,1496.2 765.7,1496.2 768.5,1505.5 764.2,1511.3 737.0,1512.0 712.5,1508.4 692.4,1504.1" fill="#FF3D3D"/>
<polygon points="735.5,1627.6 738.4,1608.9 744.1,1598.9 748.4,1593.1 758.5,1593.1 767.1,1590.3 777.9,1588.8 777.9,1690.8 734.1,1689.4 737.0,1670.7" fill="#2857FF"/>
<polyline points="528.0,1525.6 534.5,1523.5 543.1,1529.2 557.4,1527.8 571.8,1527.1 583.3,1527.1" fill="none" stroke="#000" stroke-width="2" stroke-linejoin="round" shape-rendering="crispEdges"/>
<polyline points="653.7,1530.7 660.8,1527.1 668.0,1530.0 676.6,1524.2 695.3,1522.8 703.9,1525.6 729.8,1530.0 735.5,1533.5 749.9,1527.1 758.5,1531.4 770.0,1532.1 777.9,1526.4" fill="none" stroke="#000" stroke-width="2" stroke-linejoin="round" shape-rendering="crispEdges"/>
<polyline points="528.0,1536.4 535.9,1532.8 543.1,1537.9 557.4,1538.6 564.6,1548.6 571.8,1545.8 579.7,1544.3" fill="none" stroke="#000" stroke-width="2" stroke-linejoin="round" shape-rendering="crispEdges"/>
<polyline points="647.9,1542.9 669.5,1542.9 679.5,1538.6 696.7,1535.0 708.2,1537.9 729.8,1542.9 737.0,1545.8 752.8,1538.6 761.4,1540.7 771.4,1542.9 777.9,1538.6" fill="none" stroke="#000" stroke-width="2" stroke-linejoin="round" shape-rendering="crispEdges"/>
<polyline points="528.0,1559.4 535.9,1554.4 543.1,1554.4 556.0,1553.7 560.3,1558.7 566.1,1567.3 571.8,1571.6 576.8,1570.9" fill="none" stroke="#000" stroke-width="2" stroke-linejoin="round" shape-rendering="crispEdges"/>
<polyline points="646.5,1563.0 658.0,1565.9 675.2,1568.0 683.8,1563.7 701.1,1567.3 725.5,1573.0 744.1,1567.3 758.5,1566.6 767.1,1564.4 777.9,1560.8" fill="none" stroke="#000" stroke-width="2" stroke-linejoin="round" shape-rendering="crispEdges"/>
<polyline points="732.6,1496.2 737.0,1504.1 744.1,1508.4 755.6,1507.7 761.4,1502.7 765.7,1496.2" fill="none" stroke="#000" stroke-width="2" stroke-linejoin="round" shape-rendering="crispEdges"/>
<polyline points="747.0,1597.5 752.8,1603.2 757.1,1606.1 758.5,1613.2 758.5,1619.0 752.8,1621.9 747.0,1629.0 745.6,1634.8 747.0,1670.7 748.4,1690.8" fill="none" stroke="#000" stroke-width="2" stroke-linejoin="round" shape-rendering="crispEdges"/>
<polyline points="767.1,1621.9 768.5,1593.1 771.4,1590.3 777.9,1591.7" fill="none" stroke="#000" stroke-width="2" stroke-linejoin="round" shape-rendering="crispEdges"/>
<polyline points="741.3,1644.8 741.3,1690.8" fill="none" stroke="#000" stroke-width="2" stroke-linejoin="round" shape-rendering="crispEdges"/>
<polyline points="767.1,1669.3 767.1,1689.4" fill="none" stroke="#000" stroke-width="2" stroke-linejoin="round" shape-rendering="crispEdges"/>
<g transform="translate(619.91 1528.23) scale(1 1.1)"><clipPath id="tc45"><rect x="-5000" y="-5000" width="10000" height="5010.01"/><rect x="-5000" y="16.00" width="10000" height="5000"/><rect x="-5000.00" y="10.01" width="4979.71" height="5.99"/><rect x="-12.25" y="10.01" width="3.65" height="5.99"/><rect x="-0.86" y="10.01" width="5000.86" height="5.99"/></clipPath><text x="-22.25 0.00" y="14.00" font-size="40" fill="#262626" clip-path="url(#tc45)" stroke="#262626" stroke-width="0.6">18</text></g>
<g transform="translate(614.89 1542.16) scale(1 1.1)"><clipPath id="tc46"><rect x="-5000" y="-5000" width="10000" height="5010.01"/><rect x="-5000" y="16.00" width="10000" height="5000"/><rect x="-5000.00" y="10.01" width="4979.71" height="5.99"/><rect x="-12.25" y="10.01" width="3.65" height="5.99"/><rect x="-0.86" y="10.01" width="5000.86" height="5.99"/></clipPath><text x="-22.25 0.00" y="14.00" font-size="40" fill="#262626" clip-path="url(#tc46)" stroke="#262626" stroke-width="0.6">15</text></g>
<g transform="translate(612.73 1569.45) rotate(-5) scale(1 1.1)"><clipPath id="tc47"><rect x="-5000" y="-5000" width="10000" height="5010.01"/><rect x="-5000" y="16.00" width="10000" height="5000"/><rect x="-5000.00" y="10.01" width="4979.71" height="5.99"/><rect x="-12.25" y="10.01" width="3.65" height="5.99"/><rect x="-0.86" y="10.01" width="5000.86" height="5.99"/></clipPath><text x="-22.25 0.00" y="14.00" font-size="40" fill="#262626" clip-path="url(#tc47)" stroke="#262626" stroke-width="0.6">12</text></g>
<g transform="translate(741.26 1622.58) rotate(-90) scale(1 1.1)"><text x="-11.12" y="14.00" font-size="40" fill="#262626" stroke="#262626" stroke-width="0.6">9</text></g>
<g transform="translate(767.83 1645.56) rotate(-85) scale(1 1.1)"><text x="-11.12" y="14.00" font-size="40" fill="#262626" stroke="#262626" stroke-width="0.6">9</text></g>
</g>
<rect x="105.5" y="1493.5" width="718" height="213" fill="none" stroke="#262626" stroke-width="3"/>
<line x1="105.5" y1="1493.5" x2="105.5" y2="1500.8" stroke="#262626" stroke-width="3"/>
<line x1="105.5" y1="1706.5" x2="105.5" y2="1699.2" stroke="#262626" stroke-width="3"/>
<g transform="translate(105.50 1751.90)"><clipPath id="tc48"><rect x="-5000" y="-5000" width="10000" height="4996.39"/><rect x="-5000" y="2.00" width="10000" height="5000"/><rect x="-5000.00" y="-3.61" width="4953.84" height="5.61"/><rect x="-39.12" y="-3.61" width="3.20" height="5.61"/><rect x="-29.16" y="-3.61" width="5029.16" height="5.61"/></clipPath><text x="-47.87 -28.40 -8.94 10.53 24.52" y="0.00" font-size="35" fill="#262626" clip-path="url(#tc48)">120°E</text></g>
<line x1="285.0" y1="1493.5" x2="285.0" y2="1500.8" stroke="#262626" stroke-width="3"/>
<line x1="285.0" y1="1706.5" x2="285.0" y2="1699.2" stroke="#262626" stroke-width="3"/>
<g transform="translate(285.00 1751.90)"><clipPath id="tc49"><rect x="-5000" y="-5000" width="10000" height="4996.39"/><rect x="-5000" y="2.00" width="10000" height="5000"/><rect x="-5000.00" y="-3.61" width="4953.84" height="5.61"/><rect x="-39.12" y="-3.61" width="3.20" height="5.61"/><rect x="-29.16" y="-3.61" width="21.93" height="5.61"/><rect x="-0.19" y="-3.61" width="3.20" height="5.61"/><rect x="9.78" y="-3.61" width="4990.22" height="5.61"/></clipPath><text x="-47.87 -28.40 -8.94 10.53 24.52" y="0.00" font-size="35" fill="#262626" clip-path="url(#tc49)">121°E</text></g>
<line x1="464.5" y1="1493.5" x2="464.5" y2="1500.8" stroke="#262626" stroke-width="3"/>
<line x1="464.5" y1="1706.5" x2="464.5" y2="1699.2" stroke="#262626" stroke-width="3"/>
<g transform="translate(464.50 1751.90)"><clipPath id="tc50"><rect x="-5000" y="-5000" width="10000" height="4996.39"/><rect x="-5000" y="2.00" width="10000" height="5000"/><rect x="-5000.00" y="-3.61" width="4953.84" height="5.61"/><rect x="-39.12" y="-3.61" width="3.20" height="5.61"/><rect x="-29.16" y="-3.61" width="5029.16" height="5.61"/></clipPath><text x="-47.87 -28.40 -8.94 10.53 24.52" y="0.00" font-size="35" fill="#262626" clip-path="url(#tc50)">122°E</text></g>
<line x1="644.0" y1="1493.5" x2="644.0" y2="1500.8" stroke="#262626" stroke-width="3"/>
<line x1="644.0" y1="1706.5" x2="644.0" y2="1699.2" stroke="#262626" stroke-width="3"/>
<g transform="translate(644.00 1751.90)"><clipPath id="tc51"><rect x="-5000" y="-5000" width="10000" height="4996.39"/><rect x="-5000" y="2.00" width="10000" height="5000"/><rect x="-5000.00" y="-3.61" width="4953.84" height="5.61"/><rect x="-39.12" y="-3.61" width="3.20" height="5.61"/><rect x="-29.16" y="-3.61" width="5029.16" height="5.61"/></clipPath><text x="-47.87 -28.40 -8.94 10.53 24.52" y="0.00" font-size="35" fill="#262626" clip-path="url(#tc51)">123°E</text></g>
<line x1="823.5" y1="1493.5" x2="823.5" y2="1500.8" stroke="#262626" stroke-width="3"/>
<line x1="823.5" y1="1706.5" x2="823.5" y2="1699.2" stroke="#262626" stroke-width="3"/>
<g transform="translate(823.50 1751.90)"><clipPath id="tc52"><rect x="-5000" y="-5000" width="10000" height="4996.39"/><rect x="-5000" y="2.00" width="10000" height="5000"/><rect x="-5000.00" y="-3.61" width="4953.84" height="5.61"/><rect x="-39.12" y="-3.61" width="3.20" height="5.61"/><rect x="-29.16" y="-3.61" width="5029.16" height="5.61"/></clipPath><text x="-47.87 -28.40 -8.94 10.53 24.52" y="0.00" font-size="35" fill="#262626" clip-path="url(#tc52)">124°E</text></g>
<line x1="105.5" y1="1493.5" x2="112.8" y2="1493.5" stroke="#262626" stroke-width="3"/>
<line x1="823.5" y1="1493.5" x2="816.2" y2="1493.5" stroke="#262626" stroke-width="3"/>
<text x="94.0" y="1505.8" font-size="35" fill="#262626" text-anchor="end">0</text>
<line x1="105.5" y1="1626.6" x2="112.8" y2="1626.6" stroke="#262626" stroke-width="3"/>
<line x1="823.5" y1="1626.6" x2="816.2" y2="1626.6" stroke="#262626" stroke-width="3"/>
<text x="94.0" y="1638.9" font-size="35" fill="#262626" text-anchor="end">50</text>
<text x="0" y="0" font-size="39" fill="#262626" text-anchor="middle" transform="translate(41.2 1600.0) rotate(-90)">Depth(m)</text>
<g transform="translate(464.50 1481.00)"><clipPath id="tc53"><rect x="-5000" y="-5000" width="10000" height="4996.09"/><rect x="-5000" y="2.00" width="10000" height="5000"/><rect x="-5000.00" y="-3.91" width="4962.86" height="5.91"/><rect x="-29.30" y="-3.91" width="3.56" height="5.91"/><rect x="-18.20" y="-3.91" width="89.48" height="5.91"/><rect x="79.13" y="-3.91" width="3.56" height="5.91"/><rect x="90.24" y="-3.91" width="4909.76" height="5.91"/></clipPath><text x="-112.76 -93.26 -71.57 -49.88 -39.05 -17.36 4.33 15.17 26.00 47.69 69.38 91.07" y="0.00" font-size="39" fill="#000" clip-path="url(#tc53)">Jun 12, 2015</text></g>
<text x="141.7" y="1529.5" font-size="42.5" fill="#000">(e)</text>
<rect x="906.5" y="1694.70" width="49" height="12.20" fill="#2400D8"/>
<rect x="906.5" y="1682.80" width="49" height="12.20" fill="#181CF7"/>
<rect x="906.5" y="1670.90" width="49" height="12.20" fill="#2857FF"/>
<rect x="906.5" y="1659.00" width="49" height="12.20" fill="#3D87FF"/>
<rect x="906.5" y="1647.10" width="49" height="12.20" fill="#56B0FF"/>
<rect x="906.5" y="1635.20" width="49" height="12.20" fill="#75D3FF"/>
<rect x="906.5" y="1623.30" width="49" height="12.20" fill="#99EAFF"/>
<rect x="906.5" y="1611.40" width="49" height="12.20" fill="#BCF9FF"/>
<rect x="906.5" y="1599.50" width="49" height="12.20" fill="#EAFFFF"/>
<rect x="906.5" y="1587.60" width="49" height="12.20" fill="#FFFFEA"/>
<rect x="906.5" y="1575.70" width="49" height="12.20" fill="#FFF1BC"/>
<rect x="906.5" y="1563.80" width="49" height="12.20" fill="#FFD699"/>
<rect x="906.5" y="1551.90" width="49" height="12.20" fill="#FFAC75"/>
<rect x="906.5" y="1540.00" width="49" height="12.20" fill="#FF7856"/>
<rect x="906.5" y="1528.10" width="49" height="12.20" fill="#FF3D3D"/>
<rect x="906.5" y="1516.20" width="49" height="12.20" fill="#F72735"/>
<rect x="906.5" y="1504.30" width="49" height="12.20" fill="#D8152F"/>
<rect x="906.5" y="1493.50" width="49" height="11.10" fill="#A50021"/>
<rect x="906.5" y="1493.5" width="49" height="213" fill="none" stroke="#262626" stroke-width="3"/>
<line x1="951.5" y1="1662.2" x2="955.5" y2="1662.2" stroke="#262626" stroke-width="2.8"/>
<g transform="translate(970.50 1673.55)"><clipPath id="tc54"><rect x="-5000" y="-5000" width="10000" height="4996.61"/><rect x="-5000" y="2.00" width="10000" height="5000"/><rect x="-5000.00" y="-3.39" width="5001.56" height="5.39"/><rect x="8.00" y="-3.39" width="2.92" height="5.39"/><rect x="17.11" y="-3.39" width="4982.89" height="5.39"/></clipPath><text x="0.00 17.80" y="0.00" font-size="32" fill="#262626" clip-path="url(#tc54)">10</text></g>
<line x1="951.5" y1="1606.0" x2="955.5" y2="1606.0" stroke="#262626" stroke-width="2.8"/>
<g transform="translate(970.50 1617.30)"><clipPath id="tc55"><rect x="-5000" y="-5000" width="10000" height="4996.61"/><rect x="-5000" y="2.00" width="10000" height="5000"/><rect x="-5000.00" y="-3.39" width="5001.56" height="5.39"/><rect x="8.00" y="-3.39" width="2.92" height="5.39"/><rect x="17.11" y="-3.39" width="4982.89" height="5.39"/></clipPath><text x="0.00 17.80" y="0.00" font-size="32" fill="#262626" clip-path="url(#tc55)">15</text></g>
<line x1="951.5" y1="1549.8" x2="955.5" y2="1549.8" stroke="#262626" stroke-width="2.8"/>
<g transform="translate(970.50 1561.05)"><text x="0.00 17.80" y="0.00" font-size="32" fill="#262626">20</text></g>
<g transform="translate(970.50 1504.80)"><text x="0.00 17.80" y="0.00" font-size="32" fill="#262626">25</text></g>
<defs><clipPath id="clipf"><rect x="1177.5" y="52.5" width="718" height="213"/></clipPath></defs>
<g clip-path="url(#clipf)" shape-rendering="crispEdges">
<polygon points="1373.1,59.1 1403.6,58.4 1443.8,57.7 1497.4,57.3 1537.6,57.3 1551.1,58.0 1552.4,64.4 1557.8,57.7 1577.9,57.3 1591.3,60.4 1630.0,60.8 1630.0,199.1 1630.0,182.4 1616.7,181.7 1602.0,181.0 1591.3,179.7 1591.3,154.9 1577.9,151.6 1572.5,150.2 1567.1,152.2 1565.1,155.6 1559.1,152.9 1558.4,137.5 1552.4,141.5 1551.1,138.8 1551.1,155.6 1540.3,155.6 1537.6,154.2 1530.9,150.2 1517.5,149.5 1506.8,145.5 1505.5,136.8 1498.8,134.1 1498.1,108.0 1497.4,90.6 1490.7,89.2 1484.7,91.2 1484.7,136.8 1463.9,136.8 1457.2,139.5 1443.8,139.5 1438.5,136.8 1426.4,136.8 1422.4,134.1 1415.7,133.5 1411.7,130.8 1405.2,131.5 1405.0,128.8 1389.5,128.8 1384.8,126.1 1379.2,125.4 1378.8,121.4 1373.1,120.7" fill="#181CF7"/>
<polygon points="1382.2,59.1 1403.6,58.4 1443.8,57.7 1484.0,57.7 1477.3,61.8 1470.6,62.4 1457.2,59.7 1443.8,59.1 1430.4,59.7 1417.0,61.1 1403.6,63.1 1390.2,63.8" fill="#2857FF"/>
<polygon points="1505.5,69.1 1517.5,63.8 1530.9,59.1 1551.1,58.4 1552.4,64.4 1557.8,57.7 1577.9,57.7 1591.3,60.4 1619.4,61.1 1623.4,98.6 1624.8,112.0 1623.4,125.4 1618.1,165.6 1616.7,181.7 1602.0,181.0 1591.3,179.7 1591.3,154.9 1577.9,151.6 1572.5,150.2 1567.1,152.2 1565.1,155.6 1559.1,152.9 1558.4,137.5 1552.4,141.5 1551.1,138.8 1551.1,155.6 1540.3,155.6 1537.6,154.2 1530.9,150.2 1517.5,149.5 1506.8,145.5 1505.5,136.8 1502.8,136.1 1502.1,98.6 1504.1,74.5" fill="#2400D8"/>
<polygon points="1620.0,60.8 1630.7,60.4 1636.1,57.7 1646.8,57.1 1705.8,57.1 1713.8,58.4 1719.2,61.1 1732.6,65.1 1783.5,65.8 1788.9,66.4 1794.2,58.4 1814.4,65.1 1817.0,60.4 1823.7,58.4 1889.4,58.4 1889.7,62.4 1889.7,235.3 1882.7,235.3 1869.3,234.0 1862.6,235.3 1841.2,235.3 1815.7,237.3 1794.2,225.9 1793.6,221.3 1788.9,225.3 1735.3,225.3 1729.9,223.9 1708.5,220.6 1707.1,217.2 1700.4,215.2 1668.3,214.6 1667.6,200.5 1660.2,199.1 1629.4,198.5 1628.7,182.4 1620.0,181.7" fill="#181CF7"/>
<polygon points="1620.0,85.2 1622.7,95.9 1624.7,114.7 1621.3,149.5 1620.0,158.9" fill="#2400D8"/>
<polygon points="1656.2,57.7 1675.6,57.7 1675.0,78.5 1669.6,71.8 1662.9,79.8 1662.2,86.6 1664.2,114.7 1665.6,165.6 1666.9,199.1 1668.3,214.6 1679.0,214.6 1668.3,201.8 1660.2,199.1 1650.2,198.5 1650.8,179.0 1653.5,145.5 1654.8,117.4 1652.2,108.0 1657.5,95.9" fill="#2857FF"/>
<polygon points="1705.8,57.1 1713.8,58.4 1719.2,61.1 1732.6,65.1 1783.5,65.8 1788.9,66.4 1794.2,58.4 1814.4,65.1 1817.0,60.4 1823.7,58.4 1835.8,58.4 1836.5,91.9 1832.4,114.7 1831.8,179.0 1834.5,219.2 1841.2,231.3 1841.2,235.3 1815.7,237.3 1794.2,225.9 1793.6,221.3 1788.9,225.3 1735.3,225.3 1729.9,223.9 1708.5,220.6 1707.1,217.2 1700.4,215.2 1693.0,214.6 1697.7,192.4 1699.1,154.9 1704.4,132.1 1708.5,114.7 1707.1,105.3" fill="#2857FF"/>
<polyline points="1733.3,65.1 1733.9,82.5 1733.3,91.9 1734.6,100.0 1738.0,97.3 1739.3,66.4" fill="none" stroke="#000" stroke-width="2" stroke-linejoin="round" shape-rendering="crispEdges"/>
</g>
<rect x="1177.5" y="52.5" width="718" height="213" fill="none" stroke="#262626" stroke-width="3"/>
<line x1="1177.5" y1="52.5" x2="1177.5" y2="59.8" stroke="#262626" stroke-width="3"/>
<line x1="1177.5" y1="265.5" x2="1177.5" y2="258.2" stroke="#262626" stroke-width="3"/>
<g transform="translate(1177.50 310.90)"><clipPath id="tc56"><rect x="-5000" y="-5000" width="10000" height="4996.39"/><rect x="-5000" y="2.00" width="10000" height="5000"/><rect x="-5000.00" y="-3.61" width="4953.84" height="5.61"/><rect x="-39.12" y="-3.61" width="3.20" height="5.61"/><rect x="-29.16" y="-3.61" width="5029.16" height="5.61"/></clipPath><text x="-47.87 -28.40 -8.94 10.53 24.52" y="0.00" font-size="35" fill="#262626" clip-path="url(#tc56)">120°E</text></g>
<line x1="1357.0" y1="52.5" x2="1357.0" y2="59.8" stroke="#262626" stroke-width="3"/>
<line x1="1357.0" y1="265.5" x2="1357.0" y2="258.2" stroke="#262626" stroke-width="3"/>
<g transform="translate(1357.00 310.90)"><clipPath id="tc57"><rect x="-5000" y="-5000" width="10000" height="4996.39"/><rect x="-5000" y="2.00" width="10000" height="5000"/><rect x="-5000.00" y="-3.61" width="4953.84" height="5.61"/><rect x="-39.12" y="-3.61" width="3.20" height="5.61"/><rect x="-29.16" y="-3.61" width="21.93" height="5.61"/><rect x="-0.19" y="-3.61" width="3.20" height="5.61"/><rect x="9.78" y="-3.61" width="4990.22" height="5.61"/></clipPath><text x="-47.87 -28.40 -8.94 10.53 24.52" y="0.00" font-size="35" fill="#262626" clip-path="url(#tc57)">121°E</text></g>
<line x1="1536.5" y1="52.5" x2="1536.5" y2="59.8" stroke="#262626" stroke-width="3"/>
<line x1="1536.5" y1="265.5" x2="1536.5" y2="258.2" stroke="#262626" stroke-width="3"/>
<g transform="translate(1536.50 310.90)"><clipPath id="tc58"><rect x="-5000" y="-5000" width="10000" height="4996.39"/><rect x="-5000" y="2.00" width="10000" height="5000"/><rect x="-5000.00" y="-3.61" width="4953.84" height="5.61"/><rect x="-39.12" y="-3.61" width="3.20" height="5.61"/><rect x="-29.16" y="-3.61" width="5029.16" height="5.61"/></clipPath><text x="-47.87 -28.40 -8.94 10.53 24.52" y="0.00" font-size="35" fill="#262626" clip-path="url(#tc58)">122°E</text></g>
<line x1="1716.0" y1="52.5" x2="1716.0" y2="59.8" stroke="#262626" stroke-width="3"/>
<line x1="1716.0" y1="265.5" x2="1716.0" y2="258.2" stroke="#262626" stroke-width="3"/>
<g transform="translate(1716.00 310.90)"><clipPath id="tc59"><rect x="-5000" y="-5000" width="10000" height="4996.39"/><rect x="-5000" y="2.00" width="10000" height="5000"/><rect x="-5000.00" y="-3.61" width="4953.84" height="5.61"/><rect x="-39.12" y="-3.61" width="3.20" height="5.61"/><rect x="-29.16" y="-3.61" width="5029.16" height="5.61"/></clipPath><text x="-47.87 -28.40 -8.94 10.53 24.52" y="0.00" font-size="35" fill="#262626" clip-path="url(#tc59)">123°E</text></g>
<line x1="1895.5" y1="52.5" x2="1895.5" y2="59.8" stroke="#262626" stroke-width="3"/>
<line x1="1895.5" y1="265.5" x2="1895.5" y2="258.2" stroke="#262626" stroke-width="3"/>
<g transform="translate(1895.50 310.90)"><clipPath id="tc60"><rect x="-5000" y="-5000" width="10000" height="4996.39"/><rect x="-5000" y="2.00" width="10000" height="5000"/><rect x="-5000.00" y="-3.61" width="4953.84" height="5.61"/><rect x="-39.12" y="-3.61" width="3.20" height="5.61"/><rect x="-29.16" y="-3.61" width="5029.16" height="5.61"/></clipPath><text x="-47.87 -28.40 -8.94 10.53 24.52" y="0.00" font-size="35" fill="#262626" clip-path="url(#tc60)">124°E</text></g>
<line x1="1177.5" y1="52.5" x2="1184.8" y2="52.5" stroke="#262626" stroke-width="3"/>
<line x1="1895.5" y1="52.5" x2="1888.2" y2="52.5" stroke="#262626" stroke-width="3"/>
<text x="1166.0" y="64.8" font-size="35" fill="#262626" text-anchor="end">0</text>
<line x1="1177.5" y1="185.6" x2="1184.8" y2="185.6" stroke="#262626" stroke-width="3"/>
<line x1="1895.5" y1="185.6" x2="1888.2" y2="185.6" stroke="#262626" stroke-width="3"/>
<text x="1166.0" y="197.9" font-size="35" fill="#262626" text-anchor="end">50</text>
<text x="0" y="0" font-size="39" fill="#262626" text-anchor="middle" transform="translate(1113.2 159.0) rotate(-90)">Depth(m)</text>
<g transform="translate(1536.50 40.00)"><clipPath id="tc61"><rect x="-5000" y="-5000" width="10000" height="4996.09"/><rect x="-5000" y="2.00" width="10000" height="5000"/><rect x="-5000.00" y="-3.91" width="5070.19" height="5.91"/><rect x="78.04" y="-3.91" width="3.56" height="5.91"/><rect x="89.14" y="-3.91" width="4910.86" height="5.91"/></clipPath><text x="-111.67 -85.66 -63.97 -50.98 -40.14 -18.45 3.24 14.07 24.91 46.60 68.29 89.98" y="0.00" font-size="39" fill="#000" clip-path="url(#tc61)">Apr 07, 2015</text></g>
<text x="1213.7" y="88.5" font-size="42.5" fill="#000">(f)</text>
<rect x="1978.5" y="253.70" width="48" height="12.20" fill="#2400D8"/>
<rect x="1978.5" y="241.80" width="48" height="12.20" fill="#181CF7"/>
<rect x="1978.5" y="229.90" width="48" height="12.20" fill="#2857FF"/>
<rect x="1978.5" y="218.00" width="48" height="12.20" fill="#3D87FF"/>
<rect x="1978.5" y="206.10" width="48" height="12.20" fill="#56B0FF"/>
<rect x="1978.5" y="194.20" width="48" height="12.20" fill="#75D3FF"/>
<rect x="1978.5" y="182.30" width="48" height="12.20" fill="#99EAFF"/>
<rect x="1978.5" y="170.40" width="48" height="12.20" fill="#BCF9FF"/>
<rect x="1978.5" y="158.50" width="48" height="12.20" fill="#EAFFFF"/>
<rect x="1978.5" y="146.60" width="48" height="12.20" fill="#FFFFEA"/>
<rect x="1978.5" y="134.70" width="48" height="12.20" fill="#FFF1BC"/>
<rect x="1978.5" y="122.80" width="48" height="12.20" fill="#FFD699"/>
<rect x="1978.5" y="110.90" width="48" height="12.20" fill="#FFAC75"/>
<rect x="1978.5" y="99.00" width="48" height="12.20" fill="#FF7856"/>
<rect x="1978.5" y="87.10" width="48" height="12.20" fill="#FF3D3D"/>
<rect x="1978.5" y="75.20" width="48" height="12.20" fill="#F72735"/>
<rect x="1978.5" y="63.30" width="48" height="12.20" fill="#D8152F"/>
<rect x="1978.5" y="52.50" width="48" height="11.10" fill="#A50021"/>
<rect x="1978.5" y="52.5" width="48" height="213" fill="none" stroke="#262626" stroke-width="3"/>
<line x1="2022.5" y1="221.2" x2="2026.5" y2="221.2" stroke="#262626" stroke-width="2.8"/>
<g transform="translate(2042.50 232.55)"><clipPath id="tc62"><rect x="-5000" y="-5000" width="10000" height="4996.61"/><rect x="-5000" y="2.00" width="10000" height="5000"/><rect x="-5000.00" y="-3.39" width="5001.56" height="5.39"/><rect x="8.00" y="-3.39" width="2.92" height="5.39"/><rect x="17.11" y="-3.39" width="4982.89" height="5.39"/></clipPath><text x="0.00 17.80" y="0.00" font-size="32" fill="#262626" clip-path="url(#tc62)">10</text></g>
<line x1="2022.5" y1="165.0" x2="2026.5" y2="165.0" stroke="#262626" stroke-width="2.8"/>
<g transform="translate(2042.50 176.30)"><clipPath id="tc63"><rect x="-5000" y="-5000" width="10000" height="4996.61"/><rect x="-5000" y="2.00" width="10000" height="5000"/><rect x="-5000.00" y="-3.39" width="5001.56" height="5.39"/><rect x="8.00" y="-3.39" width="2.92" height="5.39"/><rect x="17.11" y="-3.39" width="4982.89" height="5.39"/></clipPath><text x="0.00 17.80" y="0.00" font-size="32" fill="#262626" clip-path="url(#tc63)">15</text></g>
<line x1="2022.5" y1="108.8" x2="2026.5" y2="108.8" stroke="#262626" stroke-width="2.8"/>
<g transform="translate(2042.50 120.05)"><text x="0.00 17.80" y="0.00" font-size="32" fill="#262626">20</text></g>
<g transform="translate(2042.50 63.80)"><text x="0.00 17.80" y="0.00" font-size="32" fill="#262626">25</text></g>
<defs><clipPath id="clipg"><rect x="1177.5" y="411.5" width="718" height="213"/></clipPath></defs>
<g clip-path="url(#clipg)" shape-rendering="crispEdges">
<polygon points="1356.0,424.1 1360.7,419.4 1403.6,418.7 1457.2,417.4 1497.4,417.4 1510.8,416.7 1537.6,417.4 1564.5,418.7 1577.9,416.7 1598.0,416.7 1602.0,422.8 1630.0,422.8 1630.0,551.4 1604.7,550.8 1598.0,549.4 1584.6,539.4 1577.9,536.0 1572.5,532.7 1565.1,531.3 1564.5,515.2 1537.6,512.6 1524.2,511.2 1509.5,509.9 1497.4,505.2 1490.7,504.5 1484.0,502.5 1473.3,501.8 1463.9,504.5 1457.2,504.5 1455.9,492.5 1413.7,493.8 1413.0,454.9 1407.0,454.9 1407.0,493.8 1399.6,493.8 1394.2,497.8 1394.2,493.8 1380.2,493.8 1376.8,489.8 1367.4,488.4 1359.4,491.1 1356.0,488.4" fill="#3D87FF"/>
<polygon points="1356.0,424.1 1360.7,419.4 1403.6,418.7 1457.2,417.4 1497.4,417.4 1510.8,416.7 1537.6,417.4 1564.5,418.7 1577.9,416.7 1598.0,416.7 1602.0,422.8 1602.0,430.8 1591.3,428.1 1577.9,426.8 1567.1,422.8 1551.1,424.1 1537.6,424.1 1524.2,425.4 1510.8,426.8 1497.4,427.5 1484.0,428.1 1470.6,425.4 1457.2,424.1 1443.8,424.1 1430.4,425.4 1417.0,425.4 1403.6,426.1 1390.2,426.8 1376.8,426.8 1363.4,426.1 1356.0,426.8" fill="#56B0FF"/>
<polygon points="1390.2,418.7 1443.8,418.1 1437.1,420.8 1417.0,421.4 1396.9,421.2" fill="#75D3FF"/>
<polygon points="1564.5,418.7 1602.0,416.7 1602.0,438.8 1596.6,434.8 1588.6,430.8 1577.9,432.1 1571.2,429.5" fill="#56B0FF"/>
<polygon points="1387.5,493.8 1388.9,460.3 1394.2,454.3 1410.3,453.6 1443.8,452.3 1461.2,449.6 1484.0,448.2 1504.1,448.2 1517.5,442.9 1537.6,436.2 1564.5,432.1 1577.9,433.5 1591.3,437.5 1600.6,425.4 1611.4,425.4 1630.0,429.5 1630.0,551.4 1604.7,550.8 1598.0,549.4 1584.6,539.4 1577.9,536.0 1572.5,532.7 1565.1,531.3 1564.5,515.2 1537.6,512.6 1524.2,511.2 1509.5,509.9 1497.4,505.2 1490.7,504.5 1484.0,502.5 1473.3,501.8 1463.9,504.5 1457.2,504.5 1455.9,492.5 1413.7,493.8 1413.0,454.9 1407.0,454.9 1407.0,493.8 1399.6,493.8 1394.2,497.8 1394.2,493.8" fill="#2857FF"/>
<polygon points="1488.1,505.9 1489.4,461.6 1497.4,456.3 1504.1,457.6 1510.8,453.6 1516.2,454.9 1524.2,460.3 1537.6,459.0 1569.8,453.6 1576.5,460.3 1580.5,471.0 1583.2,500.5 1595.3,499.2 1597.3,505.9 1598.6,549.4 1584.6,539.4 1577.9,536.0 1572.5,532.7 1565.1,531.3 1564.5,515.2 1537.6,512.6 1524.2,511.2 1509.5,509.9 1497.4,505.2 1490.7,504.5" fill="#181CF7"/>
<polygon points="1512.2,509.9 1513.5,465.7 1520.2,463.6 1530.9,469.7 1532.3,473.7 1564.5,479.1 1572.5,485.8 1568.5,499.2 1564.5,515.2 1537.6,512.6 1524.2,511.2" fill="#2400D8"/>
<polygon points="1620.0,422.8 1653.5,422.8 1654.8,419.4 1660.2,418.1 1673.6,420.8 1681.7,417.4 1707.1,420.8 1713.8,418.7 1767.4,418.1 1892.8,418.1 1892.8,611.8 1885.4,611.1 1865.3,609.1 1858.6,603.7 1823.7,603.7 1805.0,603.7 1787.5,601.0 1758.1,598.4 1740.6,594.3 1738.6,588.3 1709.8,587.6 1701.8,586.3 1692.4,587.6 1681.7,585.6 1680.3,580.9 1673.6,582.3 1665.6,579.6 1658.9,574.9 1653.5,574.2 1652.8,552.8 1637.4,552.1 1620.0,552.1" fill="#2857FF"/>
<polygon points="1620.0,422.8 1653.5,422.8 1654.8,419.4 1660.2,418.1 1673.6,420.8 1681.7,417.4 1707.1,420.8 1713.8,418.7 1767.4,418.1 1892.8,418.1 1892.8,454.9 1888.1,456.3 1881.4,468.3 1872.0,476.4 1868.0,460.3 1861.3,457.6 1855.9,468.3 1845.2,471.0 1837.1,483.1 1831.8,487.1 1826.4,475.0 1821.1,473.7 1811.7,487.1 1807.6,484.4 1795.6,475.0 1791.6,500.5 1780.8,503.2 1772.8,500.5 1767.4,511.2 1760.7,509.9 1758.1,493.8 1754.0,501.8 1746.0,504.5 1740.6,516.6 1720.5,522.0 1713.8,517.9 1711.1,483.1 1705.8,479.1 1700.4,476.4 1695.1,517.9 1693.7,531.3 1676.3,528.7 1668.3,524.6 1664.2,513.9 1657.5,495.1 1649.5,484.4 1650.8,471.0 1633.4,463.0 1624.0,446.9 1620.0,433.5" fill="#3D87FF"/>
<polygon points="1652.2,444.2 1654.8,419.4 1660.2,418.1 1673.6,420.8 1681.7,417.4 1707.1,420.8 1713.8,418.7 1767.4,418.1 1892.8,418.1 1892.8,426.8 1881.4,430.8 1868.0,426.8 1854.6,434.8 1841.2,432.8 1834.5,438.8 1821.1,430.1 1807.6,430.8 1794.2,434.8 1780.8,438.8 1774.1,446.9 1767.4,433.5 1748.7,439.5 1738.0,429.5 1727.2,436.8 1716.5,440.2 1711.1,430.8 1703.1,426.8 1693.7,430.1 1680.3,428.1 1664.2,426.8 1654.8,433.5" fill="#56B0FF"/>
<polygon points="1823.7,603.7 1825.1,524.6 1835.8,516.6 1847.9,509.9 1855.9,497.8 1861.3,492.5 1868.0,505.9 1878.7,516.6 1884.0,508.5 1888.1,497.8 1892.8,489.8 1892.8,611.8 1885.4,611.1 1865.3,609.1 1858.6,603.7" fill="#181CF7"/>
<polyline points="1360.1,420.1 1371.4,423.4 1376.8,422.8 1388.9,423.4" fill="none" stroke="#000" stroke-width="2" stroke-linejoin="round" shape-rendering="crispEdges"/>
<polyline points="1458.6,422.8 1468.0,421.4 1477.3,424.8 1490.7,425.4 1505.5,421.4 1506.8,417.4" fill="none" stroke="#000" stroke-width="2" stroke-linejoin="round" shape-rendering="crispEdges"/>
<polyline points="1394.2,498.5 1395.6,484.4 1396.2,471.0 1397.6,459.0 1399.6,456.3 1407.6,455.6 1413.0,454.7 1414.3,455.6 1421.0,456.3 1427.7,454.3 1435.8,454.9 1443.8,453.6 1451.9,452.3 1461.2,449.6 1468.0,452.9 1478.7,454.3 1489.4,453.6 1497.4,452.3 1504.8,454.3" fill="none" stroke="#000" stroke-width="2" stroke-linejoin="round" shape-rendering="crispEdges"/>
<polyline points="1547.0,436.8 1553.7,433.5 1563.1,431.5 1565.8,436.2 1571.2,441.5 1577.9,450.9 1584.6,445.6 1589.9,445.6 1592.6,450.9 1598.0,436.2 1603.3,426.1 1610.0,428.1 1615.4,430.8 1618.1,437.5 1619.4,446.9 1624.8,453.6 1630.0,460.3" fill="none" stroke="#000" stroke-width="2" stroke-linejoin="round" shape-rendering="crispEdges"/>
<polyline points="1717.8,418.7 1719.2,425.4 1725.9,428.8 1731.2,426.8 1731.2,418.7" fill="none" stroke="#000" stroke-width="2" stroke-linejoin="round" shape-rendering="crispEdges"/>
<polyline points="1742.0,418.7 1744.7,429.5 1750.0,431.5 1754.0,429.5 1764.8,424.1 1769.4,419.4" fill="none" stroke="#000" stroke-width="2" stroke-linejoin="round" shape-rendering="crispEdges"/>
<polyline points="1620.0,446.9 1626.7,456.3 1633.4,465.7 1638.8,468.3 1646.8,471.0 1654.2,472.4 1652.2,476.4 1641.4,480.4 1639.4,485.8 1642.8,489.8 1650.8,493.8 1655.5,497.8 1656.2,511.2 1656.2,524.6 1658.2,548.1 1664.2,529.3 1666.9,529.3 1669.6,531.3 1674.3,528.0 1677.6,532.7 1683.0,534.0 1688.4,539.4 1693.7,562.2 1698.4,547.4 1699.8,524.6 1700.4,505.9 1697.7,491.1 1700.4,481.7 1703.8,487.1 1707.1,504.5 1709.1,503.2 1711.1,491.1 1712.5,497.8 1716.5,524.6 1717.8,538.7 1720.5,536.7 1724.5,520.6 1727.2,523.3 1729.9,533.3" fill="none" stroke="#000" stroke-width="2" stroke-linejoin="round" shape-rendering="crispEdges"/>
<polyline points="1754.0,522.0 1755.4,527.3 1759.4,528.0 1763.4,517.9 1774.1,512.6 1774.1,504.5 1780.8,507.2 1788.9,509.9 1795.6,505.9 1805.0,505.2 1812.3,511.2 1815.7,497.8 1821.1,492.5 1827.8,489.8 1834.5,495.8 1842.5,485.8 1850.5,485.8 1851.9,479.1 1858.6,468.3 1865.3,463.0 1870.6,481.7 1878.7,489.8 1880.7,497.8 1882.7,491.1 1888.1,479.1 1892.1,468.3" fill="none" stroke="#000" stroke-width="2" stroke-linejoin="round" shape-rendering="crispEdges"/>
<polyline points="1667.6,493.1 1671.6,493.8 1675.6,497.8 1672.3,505.9 1670.9,516.6 1667.6,517.3 1667.6,493.1" fill="none" stroke="#000" stroke-width="2" stroke-linejoin="round" shape-rendering="crispEdges"/>
<g transform="translate(1421.04 425.18) scale(1 1.1)"><clipPath id="tc64"><rect x="-5000" y="-5000" width="10000" height="5010.01"/><rect x="-5000" y="16.00" width="10000" height="5000"/><rect x="-5000.00" y="10.01" width="4979.71" height="5.99"/><rect x="-12.25" y="10.01" width="3.65" height="5.99"/><rect x="-0.86" y="10.01" width="2.81" height="5.99"/><rect x="10.00" y="10.01" width="3.65" height="5.99"/><rect x="21.39" y="10.01" width="4978.61" height="5.99"/></clipPath><text x="-22.25 0.00" y="14.00" font-size="40" fill="#262626" clip-path="url(#tc64)" stroke="#262626" stroke-width="0.6">11</text></g>
<g transform="translate(1524.51 446.89) rotate(-20) scale(1 1.1)"><text x="-11.12" y="14.00" font-size="40" fill="#262626" stroke="#262626" stroke-width="0.6">9</text></g>
<g transform="translate(1741.30 527.98) scale(1 1.1)"><text x="-11.12" y="14.00" font-size="40" fill="#262626" stroke="#262626" stroke-width="0.6">9</text></g>
</g>
<rect x="1177.5" y="411.5" width="718" height="213" fill="none" stroke="#262626" stroke-width="3"/>
<line x1="1177.5" y1="411.5" x2="1177.5" y2="418.8" stroke="#262626" stroke-width="3"/>
<line x1="1177.5" y1="624.5" x2="1177.5" y2="617.2" stroke="#262626" stroke-width="3"/>
<g transform="translate(1177.50 669.90)"><clipPath id="tc65"><rect x="-5000" y="-5000" width="10000" height="4996.39"/><rect x="-5000" y="2.00" width="10000" height="5000"/><rect x="-5000.00" y="-3.61" width="4953.84" height="5.61"/><rect x="-39.12" y="-3.61" width="3.20" height="5.61"/><rect x="-29.16" y="-3.61" width="5029.16" height="5.61"/></clipPath><text x="-47.87 -28.40 -8.94 10.53 24.52" y="0.00" font-size="35" fill="#262626" clip-path="url(#tc65)">120°E</text></g>
<line x1="1357.0" y1="411.5" x2="1357.0" y2="418.8" stroke="#262626" stroke-width="3"/>
<line x1="1357.0" y1="624.5" x2="1357.0" y2="617.2" stroke="#262626" stroke-width="3"/>
<g transform="translate(1357.00 669.90)"><clipPath id="tc66"><rect x="-5000" y="-5000" width="10000" height="4996.39"/><rect x="-5000" y="2.00" width="10000" height="5000"/><rect x="-5000.00" y="-3.61" width="4953.84" height="5.61"/><rect x="-39.12" y="-3.61" width="3.20" height="5.61"/><rect x="-29.16" y="-3.61" width="21.93" height="5.61"/><rect x="-0.19" y="-3.61" width="3.20" height="5.61"/><rect x="9.78" y="-3.61" width="4990.22" height="5.61"/></clipPath><text x="-47.87 -28.40 -8.94 10.53 24.52" y="0.00" font-size="35" fill="#262626" clip-path="url(#tc66)">121°E</text></g>
<line x1="1536.5" y1="411.5" x2="1536.5" y2="418.8" stroke="#262626" stroke-width="3"/>
<line x1="1536.5" y1="624.5" x2="1536.5" y2="617.2" stroke="#262626" stroke-width="3"/>
<g transform="translate(1536.50 669.90)"><clipPath id="tc67"><rect x="-5000" y="-5000" width="10000" height="4996.39"/><rect x="-5000" y="2.00" width="10000" height="5000"/><rect x="-5000.00" y="-3.61" width="4953.84" height="5.61"/><rect x="-39.12" y="-3.61" width="3.20" height="5.61"/><rect x="-29.16" y="-3.61" width="5029.16" height="5.61"/></clipPath><text x="-47.87 -28.40 -8.94 10.53 24.52" y="0.00" font-size="35" fill="#262626" clip-path="url(#tc67)">122°E</text></g>
<line x1="1716.0" y1="411.5" x2="1716.0" y2="418.8" stroke="#262626" stroke-width="3"/>
<line x1="1716.0" y1="624.5" x2="1716.0" y2="617.2" stroke="#262626" stroke-width="3"/>
<g transform="translate(1716.00 669.90)"><clipPath id="tc68"><rect x="-5000" y="-5000" width="10000" height="4996.39"/><rect x="-5000" y="2.00" width="10000" height="5000"/><rect x="-5000.00" y="-3.61" width="4953.84" height="5.61"/><rect x="-39.12" y="-3.61" width="3.20" height="5.61"/><rect x="-29.16" y="-3.61" width="5029.16" height="5.61"/></clipPath><text x="-47.87 -28.40 -8.94 10.53 24.52" y="0.00" font-size="35" fill="#262626" clip-path="url(#tc68)">123°E</text></g>
<line x1="1895.5" y1="411.5" x2="1895.5" y2="418.8" stroke="#262626" stroke-width="3"/>
<line x1="1895.5" y1="624.5" x2="1895.5" y2="617.2" stroke="#262626" stroke-width="3"/>
<g transform="translate(1895.50 669.90)"><clipPath id="tc69"><rect x="-5000" y="-5000" width="10000" height="4996.39"/><rect x="-5000" y="2.00" width="10000" height="5000"/><rect x="-5000.00" y="-3.61" width="4953.84" height="5.61"/><rect x="-39.12" y="-3.61" width="3.20" height="5.61"/><rect x="-29.16" y="-3.61" width="5029.16" height="5.61"/></clipPath><text x="-47.87 -28.40 -8.94 10.53 24.52" y="0.00" font-size="35" fill="#262626" clip-path="url(#tc69)">124°E</text></g>
<line x1="1177.5" y1="411.5" x2="1184.8" y2="411.5" stroke="#262626" stroke-width="3"/>
<line x1="1895.5" y1="411.5" x2="1888.2" y2="411.5" stroke="#262626" stroke-width="3"/>
<text x="1166.0" y="423.8" font-size="35" fill="#262626" text-anchor="end">0</text>
<line x1="1177.5" y1="544.6" x2="1184.8" y2="544.6" stroke="#262626" stroke-width="3"/>
<line x1="1895.5" y1="544.6" x2="1888.2" y2="544.6" stroke="#262626" stroke-width="3"/>
<text x="1166.0" y="556.9" font-size="35" fill="#262626" text-anchor="end">50</text>
<text x="0" y="0" font-size="39" fill="#262626" text-anchor="middle" transform="translate(1113.2 518.0) rotate(-90)">Depth(m)</text>
<g transform="translate(1536.50 399.00)"><clipPath id="tc70"><rect x="-5000" y="-5000" width="10000" height="4996.09"/><rect x="-5000" y="2.00" width="10000" height="5000"/><rect x="-5000.00" y="-3.91" width="5070.19" height="5.91"/><rect x="78.04" y="-3.91" width="3.56" height="5.91"/><rect x="89.14" y="-3.91" width="4910.86" height="5.91"/></clipPath><text x="-111.67 -85.66 -63.97 -50.98 -40.14 -18.45 3.24 14.07 24.91 46.60 68.29 89.98" y="0.00" font-size="39" fill="#000" clip-path="url(#tc70)">Apr 25, 2015</text></g>
<text x="1213.7" y="447.5" font-size="42.5" fill="#000">(g)</text>
<rect x="1978.5" y="612.70" width="48" height="12.20" fill="#2400D8"/>
<rect x="1978.5" y="600.80" width="48" height="12.20" fill="#181CF7"/>
<rect x="1978.5" y="588.90" width="48" height="12.20" fill="#2857FF"/>
<rect x="1978.5" y="577.00" width="48" height="12.20" fill="#3D87FF"/>
<rect x="1978.5" y="565.10" width="48" height="12.20" fill="#56B0FF"/>
<rect x="1978.5" y="553.20" width="48" height="12.20" fill="#75D3FF"/>
<rect x="1978.5" y="541.30" width="48" height="12.20" fill="#99EAFF"/>
<rect x="1978.5" y="529.40" width="48" height="12.20" fill="#BCF9FF"/>
<rect x="1978.5" y="517.50" width="48" height="12.20" fill="#EAFFFF"/>
<rect x="1978.5" y="505.60" width="48" height="12.20" fill="#FFFFEA"/>
<rect x="1978.5" y="493.70" width="48" height="12.20" fill="#FFF1BC"/>
<rect x="1978.5" y="481.80" width="48" height="12.20" fill="#FFD699"/>
<rect x="1978.5" y="469.90" width="48" height="12.20" fill="#FFAC75"/>
<rect x="1978.5" y="458.00" width="48" height="12.20" fill="#FF7856"/>
<rect x="1978.5" y="446.10" width="48" height="12.20" fill="#FF3D3D"/>
<rect x="1978.5" y="434.20" width="48" height="12.20" fill="#F72735"/>
<rect x="1978.5" y="422.30" width="48" height="12.20" fill="#D8152F"/>
<rect x="1978.5" y="411.50" width="48" height="11.10" fill="#A50021"/>
<rect x="1978.5" y="411.5" width="48" height="213" fill="none" stroke="#262626" stroke-width="3"/>
<line x1="2022.5" y1="580.2" x2="2026.5" y2="580.2" stroke="#262626" stroke-width="2.8"/>
<g transform="translate(2042.50 591.55)"><clipPath id="tc71"><rect x="-5000" y="-5000" width="10000" height="4996.61"/><rect x="-5000" y="2.00" width="10000" height="5000"/><rect x="-5000.00" y="-3.39" width="5001.56" height="5.39"/><rect x="8.00" y="-3.39" width="2.92" height="5.39"/><rect x="17.11" y="-3.39" width="4982.89" height="5.39"/></clipPath><text x="0.00 17.80" y="0.00" font-size="32" fill="#262626" clip-path="url(#tc71)">10</text></g>
<line x1="2022.5" y1="524.0" x2="2026.5" y2="524.0" stroke="#262626" stroke-width="2.8"/>
<g transform="translate(2042.50 535.30)"><clipPath id="tc72"><rect x="-5000" y="-5000" width="10000" height="4996.61"/><rect x="-5000" y="2.00" width="10000" height="5000"/><rect x="-5000.00" y="-3.39" width="5001.56" height="5.39"/><rect x="8.00" y="-3.39" width="2.92" height="5.39"/><rect x="17.11" y="-3.39" width="4982.89" height="5.39"/></clipPath><text x="0.00 17.80" y="0.00" font-size="32" fill="#262626" clip-path="url(#tc72)">15</text></g>
<line x1="2022.5" y1="467.8" x2="2026.5" y2="467.8" stroke="#262626" stroke-width="2.8"/>
<g transform="translate(2042.50 479.05)"><text x="0.00 17.80" y="0.00" font-size="32" fill="#262626">20</text></g>
<g transform="translate(2042.50 422.80)"><text x="0.00 17.80" y="0.00" font-size="32" fill="#262626">25</text></g>
<defs><clipPath id="cliph"><rect x="1177.5" y="772.5" width="718" height="213"/></clipPath></defs>
<g clip-path="url(#cliph)" shape-rendering="crispEdges">
<polygon points="1358.7,781.4 1363.4,778.7 1390.2,778.1 1443.8,778.1 1484.0,777.4 1528.3,777.4 1537.6,777.4 1591.3,780.1 1630.0,782.8 1630.0,892.7 1608.7,890.0 1591.3,887.3 1577.9,886.0 1564.5,884.6 1548.4,884.0 1541.7,882.0 1540.3,877.3 1529.6,874.6 1514.9,875.9 1501.5,871.2 1490.7,867.2 1477.3,863.9 1468.0,863.2 1466.6,865.9 1461.2,865.9 1455.9,867.9 1437.1,867.9 1423.7,863.9 1417.0,863.2 1411.7,857.8 1405.0,859.2 1400.9,857.8 1390.2,857.8 1376.8,851.8 1366.1,847.1 1359.4,851.8" fill="#2857FF"/>
<polygon points="1358.7,781.4 1363.4,778.7 1390.2,778.1 1443.8,778.1 1484.0,777.4 1528.3,777.4 1537.6,777.4 1591.3,780.1 1630.0,782.8 1630.0,827.0 1604.7,824.3 1591.3,820.3 1577.9,817.6 1564.5,819.0 1555.1,817.6 1544.4,816.9 1524.2,815.6 1497.4,816.9 1484.0,819.0 1474.7,816.3 1457.2,818.3 1443.8,819.0 1435.8,820.3 1422.4,816.9 1410.3,819.0 1402.3,817.6 1396.2,823.0 1396.9,857.8 1390.2,857.8 1376.8,851.8 1366.1,847.1 1359.4,851.8" fill="#3D87FF"/>
<polygon points="1359.4,778.7 1630.0,778.7 1630.0,804.2 1598.0,806.9 1584.6,808.2 1564.5,814.9 1551.1,817.6 1524.2,815.6 1510.8,814.9 1497.4,816.3 1484.0,817.6 1470.6,814.9 1457.2,816.3 1443.8,819.0 1430.4,817.6 1410.3,814.9 1396.9,806.9 1390.2,806.9 1374.1,812.3 1359.4,812.3" fill="#56B0FF"/>
<polygon points="1359.4,778.7 1630.0,778.7 1630.0,804.2 1591.3,804.2 1564.5,808.2 1541.7,809.6 1524.2,809.6 1510.8,810.9 1497.4,809.6 1484.0,808.2 1473.3,808.2 1457.2,810.9 1443.8,813.6 1437.1,813.6 1423.7,809.6 1410.3,809.6 1396.9,812.3 1376.8,806.9 1359.4,808.2" fill="#75D3FF"/>
<polygon points="1359.4,778.1 1630.0,778.1 1630.0,798.8 1604.7,797.5 1591.3,798.8 1577.9,794.8 1564.5,797.5 1551.1,794.8 1537.6,789.5 1521.6,801.5 1510.8,796.2 1497.4,792.8 1484.0,796.2 1470.6,800.2 1457.2,805.6 1443.8,806.9 1423.7,802.9 1410.3,797.5 1396.9,788.1 1378.1,782.1 1370.1,786.8 1359.4,786.1" fill="#99EAFF"/>
<polygon points="1409.0,778.1 1535.0,778.1 1537.6,781.4 1524.2,781.4 1497.4,779.4 1484.0,780.1 1470.6,782.8 1457.2,782.8 1446.5,780.1 1430.4,780.1" fill="#BCF9FF"/>
<polygon points="1501.5,871.2 1501.5,824.3 1504.1,823.0 1524.2,819.0 1544.4,820.3 1551.1,827.0 1553.7,845.8 1557.8,839.1 1559.1,824.3 1564.5,823.0 1584.6,828.3 1600.6,836.4 1588.6,840.4 1561.8,849.8 1561.8,856.5 1591.3,867.2 1599.3,871.2 1608.7,890.0 1591.3,887.3 1577.9,886.0 1564.5,884.6 1548.4,884.0 1541.7,882.0 1540.3,877.3 1529.6,874.6 1514.9,875.9" fill="#181CF7"/>
<polygon points="1521.6,875.2 1521.6,831.0 1526.9,825.7 1544.4,825.7 1548.4,828.3 1549.7,844.4 1552.4,883.3 1548.4,884.0 1541.7,882.0 1540.3,877.3 1529.6,874.6" fill="#2400D8"/>
<polygon points="1443.8,777.4 1446.8,777.4 1446.8,868.5 1443.8,868.5" fill="#ffffff"/>
<polygon points="1620.0,783.4 1654.8,784.8 1658.9,778.1 1893.4,776.7 1893.4,971.1 1881.4,974.4 1868.0,971.8 1855.9,969.1 1825.1,969.1 1825.1,965.1 1786.2,964.4 1772.8,959.7 1756.7,958.4 1746.0,951.6 1721.9,950.3 1716.5,951.0 1700.4,949.0 1697.7,942.3 1673.6,939.6 1670.9,934.2 1660.2,932.2 1654.2,931.5 1654.2,895.4 1640.1,893.3 1620.0,891.3" fill="#2857FF"/>
<polygon points="1620.0,783.4 1654.8,784.8 1658.9,778.1 1893.4,776.7 1893.4,839.1 1874.7,844.4 1861.3,844.4 1847.9,851.1 1834.5,853.8 1821.1,855.1 1814.4,863.2 1807.6,865.9 1794.2,860.5 1780.8,847.1 1764.8,857.8 1760.7,873.9 1754.0,891.3 1748.7,892.7 1744.7,910.1 1735.3,906.1 1724.5,899.4 1713.8,877.9 1703.1,875.2 1695.1,868.5 1687.0,871.2 1676.3,899.4 1666.9,898.0 1660.2,877.9 1656.2,865.9 1656.2,849.8 1653.5,839.1 1646.8,835.0 1633.4,829.7 1620.0,827.0" fill="#3D87FF"/>
<polygon points="1620.0,777.4 1893.4,777.4 1893.4,823.0 1874.7,824.3 1861.3,825.7 1847.9,827.0 1834.5,828.3 1821.1,829.7 1807.6,831.0 1794.2,833.7 1780.8,833.7 1767.4,835.0 1754.0,841.7 1740.6,840.4 1727.2,836.4 1713.8,833.7 1700.4,832.4 1687.0,831.0 1673.6,827.0 1660.2,821.6 1653.5,817.6 1640.1,810.9 1620.0,806.9" fill="#56B0FF"/>
<polygon points="1620.0,777.4 1893.4,777.4 1893.4,812.3 1868.0,813.6 1854.6,816.3 1841.2,819.0 1827.8,817.6 1814.4,817.6 1800.9,820.3 1787.5,820.3 1774.1,824.3 1760.7,825.7 1747.3,825.7 1733.9,827.0 1720.5,820.3 1707.1,819.0 1693.7,814.9 1687.0,809.6 1673.6,808.2 1660.2,806.9 1654.8,800.2 1633.4,798.8 1620.0,798.8" fill="#75D3FF"/>
<polygon points="1620.0,777.4 1893.4,777.4 1893.4,804.2 1874.7,804.2 1854.6,802.9 1841.2,804.2 1827.8,802.9 1814.4,804.2 1800.9,805.6 1787.5,808.2 1774.1,804.2 1760.7,805.6 1747.3,801.5 1733.9,801.5 1721.9,806.9 1713.8,798.8 1707.1,789.5 1693.7,789.5 1680.3,788.1 1657.5,789.5 1654.8,785.2 1620.0,784.1" fill="#99EAFF"/>
<polygon points="1620.0,777.4 1654.8,777.4 1658.9,777.4 1654.8,784.8 1620.0,783.4" fill="#ffffff"/>
<polygon points="1850.5,891.3 1858.6,877.9 1874.7,884.6 1888.1,873.9 1893.4,857.8 1893.4,971.1 1881.4,974.4 1868.0,971.8 1855.9,969.1" fill="#181CF7"/>
<polyline points="1409.0,777.4 1422.4,782.8 1430.4,786.8 1437.1,790.8 1443.8,789.5" fill="none" stroke="#000" stroke-width="2" stroke-linejoin="round" shape-rendering="crispEdges"/>
<polyline points="1446.8,792.8 1453.2,792.8 1459.9,795.5 1470.6,789.5 1474.7,787.5 1481.4,787.5 1488.1,784.1 1494.8,782.1 1501.5,778.7 1510.8,780.8 1529.6,780.8 1532.3,778.7" fill="none" stroke="#000" stroke-width="2" stroke-linejoin="round" shape-rendering="crispEdges"/>
<polyline points="1540.3,779.4 1547.0,784.1 1552.4,780.8 1557.8,777.4" fill="none" stroke="#000" stroke-width="2" stroke-linejoin="round" shape-rendering="crispEdges"/>
<polyline points="1358.7,801.5 1366.1,797.5 1372.8,802.9 1383.5,800.9 1396.9,802.2 1410.3,810.2 1422.4,808.2 1430.4,812.9 1437.1,813.6 1443.8,811.6" fill="none" stroke="#000" stroke-width="2" stroke-linejoin="round" shape-rendering="crispEdges"/>
<polyline points="1446.8,814.3 1457.2,812.3 1463.9,810.2 1473.3,806.9 1478.7,808.2 1485.4,807.6 1497.4,809.6 1505.5,810.9 1524.2,810.2 1540.3,808.2 1545.7,810.2 1564.5,809.6 1571.8,808.9" fill="none" stroke="#000" stroke-width="2" stroke-linejoin="round" shape-rendering="crispEdges"/>
<polyline points="1400.9,857.8 1401.6,844.4 1402.3,833.7 1403.6,823.6 1410.3,820.3 1422.4,816.9 1431.8,821.0 1437.1,821.0 1443.8,819.6" fill="none" stroke="#000" stroke-width="2" stroke-linejoin="round" shape-rendering="crispEdges"/>
<polyline points="1446.8,821.0 1457.2,819.0 1473.3,815.6 1481.4,821.0 1497.4,816.3 1510.8,816.9 1524.2,815.6 1537.6,816.9 1548.4,817.6 1553.7,821.6 1554.4,827.7" fill="none" stroke="#000" stroke-width="2" stroke-linejoin="round" shape-rendering="crispEdges"/>
<polyline points="1555.1,821.6 1559.1,818.3 1566.5,819.0" fill="none" stroke="#000" stroke-width="2" stroke-linejoin="round" shape-rendering="crispEdges"/>
<polyline points="1613.4,825.0 1630.0,828.3" fill="none" stroke="#000" stroke-width="2" stroke-linejoin="round" shape-rendering="crispEdges"/>
<polyline points="1661.6,778.1 1666.9,780.8 1670.9,778.1" fill="none" stroke="#000" stroke-width="2" stroke-linejoin="round" shape-rendering="crispEdges"/>
<polyline points="1675.0,778.7 1679.0,780.8 1683.0,778.7" fill="none" stroke="#000" stroke-width="2" stroke-linejoin="round" shape-rendering="crispEdges"/>
<polyline points="1707.1,777.4 1712.5,784.1 1716.5,780.1" fill="none" stroke="#000" stroke-width="2" stroke-linejoin="round" shape-rendering="crispEdges"/>
<polyline points="1725.9,777.4 1727.2,782.8 1732.6,786.8 1740.6,786.1 1754.0,784.1 1760.7,784.1 1766.1,786.1 1768.8,782.8 1770.1,777.4" fill="none" stroke="#000" stroke-width="2" stroke-linejoin="round" shape-rendering="crispEdges"/>
<polyline points="1833.1,777.4 1834.5,785.4 1838.5,788.8 1842.5,782.8 1843.8,777.4" fill="none" stroke="#000" stroke-width="2" stroke-linejoin="round" shape-rendering="crispEdges"/>
<polyline points="1863.3,777.4 1866.6,781.4 1870.6,777.4" fill="none" stroke="#000" stroke-width="2" stroke-linejoin="round" shape-rendering="crispEdges"/>
<polyline points="1641.4,800.2 1654.8,798.8 1659.5,796.2 1662.9,798.8 1665.6,809.6 1670.9,815.6 1679.0,813.6 1687.0,814.3 1692.4,811.6 1695.1,823.0 1699.1,825.7 1705.8,824.3 1712.5,823.0 1716.5,825.0 1723.2,821.6 1729.9,820.3 1735.3,829.7 1740.6,830.3 1754.0,829.7 1760.7,829.0 1767.4,827.0 1774.1,824.3 1787.5,825.7 1794.2,821.6 1807.6,823.0 1814.4,819.0 1821.1,819.0 1834.5,823.0 1841.2,820.3 1854.6,816.3 1861.3,812.3 1868.0,815.6 1881.4,817.6 1884.7,797.5 1886.7,778.7" fill="none" stroke="#000" stroke-width="2" stroke-linejoin="round" shape-rendering="crispEdges"/>
<polyline points="1620.0,827.0 1633.4,829.7 1646.8,835.0 1653.5,839.1 1654.8,849.8 1640.1,855.1 1638.8,857.8 1642.8,861.8 1654.8,864.5 1657.5,882.0 1660.2,888.7 1662.9,851.1 1664.2,843.1 1666.9,838.4 1672.3,843.1 1675.0,849.8 1673.6,865.9 1673.6,900.7 1679.0,906.1 1685.7,914.8 1691.0,906.1 1693.7,903.4 1699.1,902.1 1700.4,891.3 1704.4,882.0 1707.8,884.6 1709.8,898.0 1708.5,910.1 1703.1,915.5 1700.4,920.8 1701.1,948.3" fill="none" stroke="#000" stroke-width="2" stroke-linejoin="round" shape-rendering="crispEdges"/>
<polyline points="1692.4,875.2 1691.0,887.3 1693.0,898.0 1695.1,887.3 1692.4,875.2" fill="none" stroke="#000" stroke-width="2" stroke-linejoin="round" shape-rendering="crispEdges"/>
<polyline points="1715.8,886.0 1715.8,896.7" fill="none" stroke="#000" stroke-width="2" stroke-linejoin="round" shape-rendering="crispEdges"/>
<polyline points="1752.0,906.1 1751.4,922.2 1752.0,938.2" fill="none" stroke="#000" stroke-width="2" stroke-linejoin="round" shape-rendering="crispEdges"/>
<polyline points="1764.8,882.0 1768.8,887.3 1771.5,895.4 1772.1,911.4 1770.1,922.2 1767.4,938.2 1766.1,958.4" fill="none" stroke="#000" stroke-width="2" stroke-linejoin="round" shape-rendering="crispEdges"/>
<polyline points="1791.6,870.6 1795.6,866.5 1802.3,877.3 1809.0,877.3 1809.7,887.3" fill="none" stroke="#000" stroke-width="2" stroke-linejoin="round" shape-rendering="crispEdges"/>
<polyline points="1809.0,877.3 1810.3,869.9 1814.4,863.2 1821.1,860.5 1829.1,863.2 1831.8,864.5 1845.2,856.5 1853.2,855.1 1859.9,847.1 1866.6,840.4 1872.0,841.1 1881.4,845.8 1886.7,841.7 1893.4,836.4" fill="none" stroke="#000" stroke-width="2" stroke-linejoin="round" shape-rendering="crispEdges"/>
<polyline points="1887.4,778.7 1887.4,847.1" fill="none" stroke="#000" stroke-width="2" stroke-linejoin="round" shape-rendering="crispEdges"/>
<polyline points="1889.7,778.7 1889.7,848.4" fill="none" stroke="#000" stroke-width="2" stroke-linejoin="round" shape-rendering="crispEdges"/>
<polyline points="1891.8,778.7 1891.8,851.1" fill="none" stroke="#000" stroke-width="2" stroke-linejoin="round" shape-rendering="crispEdges"/>
<polyline points="1650.8,811.6 1655.5,810.2 1654.2,815.6 1650.8,811.6" fill="none" stroke="#000" stroke-width="2" stroke-linejoin="round" shape-rendering="crispEdges"/>
<g transform="translate(1605.34 803.54) rotate(-5) scale(1 1.1)"><clipPath id="tc73"><rect x="-5000" y="-5000" width="10000" height="5010.01"/><rect x="-5000" y="16.00" width="10000" height="5000"/><rect x="-5000.00" y="10.01" width="4979.71" height="5.99"/><rect x="-12.25" y="10.01" width="3.65" height="5.99"/><rect x="-0.86" y="10.01" width="2.81" height="5.99"/><rect x="10.00" y="10.01" width="3.65" height="5.99"/><rect x="21.39" y="10.01" width="4978.61" height="5.99"/></clipPath><text x="-22.25 0.00" y="14.00" font-size="40" fill="#262626" clip-path="url(#tc73)" stroke="#262626" stroke-width="0.6">11</text></g>
<g transform="translate(1589.92 823.65) rotate(-8) scale(1 1.1)"><text x="-11.12" y="14.00" font-size="40" fill="#262626" stroke="#262626" stroke-width="0.6">9</text></g>
<g transform="translate(1776.15 871.23) scale(1 1.1)"><text x="-11.12" y="14.00" font-size="40" fill="#262626" stroke="#262626" stroke-width="0.6">9</text></g>
</g>
<rect x="1177.5" y="772.5" width="718" height="213" fill="none" stroke="#262626" stroke-width="3"/>
<line x1="1177.5" y1="772.5" x2="1177.5" y2="779.8" stroke="#262626" stroke-width="3"/>
<line x1="1177.5" y1="985.5" x2="1177.5" y2="978.2" stroke="#262626" stroke-width="3"/>
<g transform="translate(1177.50 1030.90)"><clipPath id="tc74"><rect x="-5000" y="-5000" width="10000" height="4996.39"/><rect x="-5000" y="2.00" width="10000" height="5000"/><rect x="-5000.00" y="-3.61" width="4953.84" height="5.61"/><rect x="-39.12" y="-3.61" width="3.20" height="5.61"/><rect x="-29.16" y="-3.61" width="5029.16" height="5.61"/></clipPath><text x="-47.87 -28.40 -8.94 10.53 24.52" y="0.00" font-size="35" fill="#262626" clip-path="url(#tc74)">120°E</text></g>
<line x1="1357.0" y1="772.5" x2="1357.0" y2="779.8" stroke="#262626" stroke-width="3"/>
<line x1="1357.0" y1="985.5" x2="1357.0" y2="978.2" stroke="#262626" stroke-width="3"/>
<g transform="translate(1357.00 1030.90)"><clipPath id="tc75"><rect x="-5000" y="-5000" width="10000" height="4996.39"/><rect x="-5000" y="2.00" width="10000" height="5000"/><rect x="-5000.00" y="-3.61" width="4953.84" height="5.61"/><rect x="-39.12" y="-3.61" width="3.20" height="5.61"/><rect x="-29.16" y="-3.61" width="21.93" height="5.61"/><rect x="-0.19" y="-3.61" width="3.20" height="5.61"/><rect x="9.78" y="-3.61" width="4990.22" height="5.61"/></clipPath><text x="-47.87 -28.40 -8.94 10.53 24.52" y="0.00" font-size="35" fill="#262626" clip-path="url(#tc75)">121°E</text></g>
<line x1="1536.5" y1="772.5" x2="1536.5" y2="779.8" stroke="#262626" stroke-width="3"/>
<line x1="1536.5" y1="985.5" x2="1536.5" y2="978.2" stroke="#262626" stroke-width="3"/>
<g transform="translate(1536.50 1030.90)"><clipPath id="tc76"><rect x="-5000" y="-5000" width="10000" height="4996.39"/><rect x="-5000" y="2.00" width="10000" height="5000"/><rect x="-5000.00" y="-3.61" width="4953.84" height="5.61"/><rect x="-39.12" y="-3.61" width="3.20" height="5.61"/><rect x="-29.16" y="-3.61" width="5029.16" height="5.61"/></clipPath><text x="-47.87 -28.40 -8.94 10.53 24.52" y="0.00" font-size="35" fill="#262626" clip-path="url(#tc76)">122°E</text></g>
<line x1="1716.0" y1="772.5" x2="1716.0" y2="779.8" stroke="#262626" stroke-width="3"/>
<line x1="1716.0" y1="985.5" x2="1716.0" y2="978.2" stroke="#262626" stroke-width="3"/>
<g transform="translate(1716.00 1030.90)"><clipPath id="tc77"><rect x="-5000" y="-5000" width="10000" height="4996.39"/><rect x="-5000" y="2.00" width="10000" height="5000"/><rect x="-5000.00" y="-3.61" width="4953.84" height="5.61"/><rect x="-39.12" y="-3.61" width="3.20" height="5.61"/><rect x="-29.16" y="-3.61" width="5029.16" height="5.61"/></clipPath><text x="-47.87 -28.40 -8.94 10.53 24.52" y="0.00" font-size="35" fill="#262626" clip-path="url(#tc77)">123°E</text></g>
<line x1="1895.5" y1="772.5" x2="1895.5" y2="779.8" stroke="#262626" stroke-width="3"/>
<line x1="1895.5" y1="985.5" x2="1895.5" y2="978.2" stroke="#262626" stroke-width="3"/>
<g transform="translate(1895.50 1030.90)"><clipPath id="tc78"><rect x="-5000" y="-5000" width="10000" height="4996.39"/><rect x="-5000" y="2.00" width="10000" height="5000"/><rect x="-5000.00" y="-3.61" width="4953.84" height="5.61"/><rect x="-39.12" y="-3.61" width="3.20" height="5.61"/><rect x="-29.16" y="-3.61" width="5029.16" height="5.61"/></clipPath><text x="-47.87 -28.40 -8.94 10.53 24.52" y="0.00" font-size="35" fill="#262626" clip-path="url(#tc78)">124°E</text></g>
<line x1="1177.5" y1="772.5" x2="1184.8" y2="772.5" stroke="#262626" stroke-width="3"/>
<line x1="1895.5" y1="772.5" x2="1888.2" y2="772.5" stroke="#262626" stroke-width="3"/>
<text x="1166.0" y="784.8" font-size="35" fill="#262626" text-anchor="end">0</text>
<line x1="1177.5" y1="905.6" x2="1184.8" y2="905.6" stroke="#262626" stroke-width="3"/>
<line x1="1895.5" y1="905.6" x2="1888.2" y2="905.6" stroke="#262626" stroke-width="3"/>
<text x="1166.0" y="917.9" font-size="35" fill="#262626" text-anchor="end">50</text>
<text x="0" y="0" font-size="39" fill="#262626" text-anchor="middle" transform="translate(1113.2 879.0) rotate(-90)">Depth(m)</text>
<g transform="translate(1536.50 760.00)"><clipPath id="tc79"><rect x="-5000" y="-5000" width="10000" height="4996.09"/><rect x="-5000" y="2.00" width="10000" height="5000"/><rect x="-5000.00" y="-3.91" width="5076.69" height="5.91"/><rect x="84.53" y="-3.91" width="3.56" height="5.91"/><rect x="95.63" y="-3.91" width="4904.37" height="5.91"/></clipPath><text x="-118.16 -85.67 -63.98 -44.48 -33.65 -11.96 9.73 20.57 31.40 53.09 74.78 96.47" y="0.00" font-size="39" fill="#000" clip-path="url(#tc79)">May 07, 2015</text></g>
<text x="1213.7" y="808.5" font-size="42.5" fill="#000">(h)</text>
<rect x="1978.5" y="973.70" width="48" height="12.20" fill="#2400D8"/>
<rect x="1978.5" y="961.80" width="48" height="12.20" fill="#181CF7"/>
<rect x="1978.5" y="949.90" width="48" height="12.20" fill="#2857FF"/>
<rect x="1978.5" y="938.00" width="48" height="12.20" fill="#3D87FF"/>
<rect x="1978.5" y="926.10" width="48" height="12.20" fill="#56B0FF"/>
<rect x="1978.5" y="914.20" width="48" height="12.20" fill="#75D3FF"/>
<rect x="1978.5" y="902.30" width="48" height="12.20" fill="#99EAFF"/>
<rect x="1978.5" y="890.40" width="48" height="12.20" fill="#BCF9FF"/>
<rect x="1978.5" y="878.50" width="48" height="12.20" fill="#EAFFFF"/>
<rect x="1978.5" y="866.60" width="48" height="12.20" fill="#FFFFEA"/>
<rect x="1978.5" y="854.70" width="48" height="12.20" fill="#FFF1BC"/>
<rect x="1978.5" y="842.80" width="48" height="12.20" fill="#FFD699"/>
<rect x="1978.5" y="830.90" width="48" height="12.20" fill="#FFAC75"/>
<rect x="1978.5" y="819.00" width="48" height="12.20" fill="#FF7856"/>
<rect x="1978.5" y="807.10" width="48" height="12.20" fill="#FF3D3D"/>
<rect x="1978.5" y="795.20" width="48" height="12.20" fill="#F72735"/>
<rect x="1978.5" y="783.30" width="48" height="12.20" fill="#D8152F"/>
<rect x="1978.5" y="772.50" width="48" height="11.10" fill="#A50021"/>
<rect x="1978.5" y="772.5" width="48" height="213" fill="none" stroke="#262626" stroke-width="3"/>
<line x1="2022.5" y1="941.2" x2="2026.5" y2="941.2" stroke="#262626" stroke-width="2.8"/>
<g transform="translate(2042.50 952.55)"><clipPath id="tc80"><rect x="-5000" y="-5000" width="10000" height="4996.61"/><rect x="-5000" y="2.00" width="10000" height="5000"/><rect x="-5000.00" y="-3.39" width="5001.56" height="5.39"/><rect x="8.00" y="-3.39" width="2.92" height="5.39"/><rect x="17.11" y="-3.39" width="4982.89" height="5.39"/></clipPath><text x="0.00 17.80" y="0.00" font-size="32" fill="#262626" clip-path="url(#tc80)">10</text></g>
<line x1="2022.5" y1="885.0" x2="2026.5" y2="885.0" stroke="#262626" stroke-width="2.8"/>
<g transform="translate(2042.50 896.30)"><clipPath id="tc81"><rect x="-5000" y="-5000" width="10000" height="4996.61"/><rect x="-5000" y="2.00" width="10000" height="5000"/><rect x="-5000.00" y="-3.39" width="5001.56" height="5.39"/><rect x="8.00" y="-3.39" width="2.92" height="5.39"/><rect x="17.11" y="-3.39" width="4982.89" height="5.39"/></clipPath><text x="0.00 17.80" y="0.00" font-size="32" fill="#262626" clip-path="url(#tc81)">15</text></g>
<line x1="2022.5" y1="828.8" x2="2026.5" y2="828.8" stroke="#262626" stroke-width="2.8"/>
<g transform="translate(2042.50 840.05)"><text x="0.00 17.80" y="0.00" font-size="32" fill="#262626">20</text></g>
<g transform="translate(2042.50 783.80)"><text x="0.00 17.80" y="0.00" font-size="32" fill="#262626">25</text></g>
<defs><clipPath id="clipi"><rect x="1177.5" y="1493.5" width="718" height="213"/></clipPath></defs>
<g clip-path="url(#clipi)" shape-rendering="crispEdges">
<polygon points="1380.8,1502.1 1383.5,1500.8 1403.6,1498.7 1417.0,1497.4 1457.2,1496.7 1510.8,1496.3 1537.6,1496.1 1630.0,1496.1 1630.0,1642.2 1615.4,1639.5 1615.4,1634.8 1607.3,1632.8 1601.3,1632.8 1600.6,1623.4 1588.6,1620.7 1577.9,1615.4 1564.5,1610.0 1551.1,1604.6 1549.7,1603.3 1537.0,1597.3 1536.3,1591.9 1524.2,1591.2 1508.2,1586.5 1502.8,1585.9 1496.1,1580.5 1484.0,1580.5 1463.9,1581.8 1450.5,1585.2 1441.1,1585.9 1437.1,1580.5 1417.0,1580.5 1415.7,1578.5 1410.3,1579.8 1392.9,1579.2 1380.8,1576.5" fill="#3D87FF"/>
<polygon points="1380.8,1495.8 1630.0,1495.8 1630.0,1559.1 1577.9,1560.4 1537.6,1559.1 1517.5,1553.7 1497.4,1551.0 1484.0,1548.3 1443.8,1547.0 1417.0,1545.7 1400.9,1547.0 1395.6,1559.1 1392.9,1577.8 1380.8,1577.8" fill="#56B0FF"/>
<polygon points="1380.8,1495.8 1630.0,1495.8 1630.0,1553.7 1577.9,1555.0 1537.6,1555.0 1517.5,1551.0 1497.4,1548.3 1470.6,1547.0 1430.4,1545.7 1403.6,1543.0 1380.8,1539.0" fill="#75D3FF"/>
<polygon points="1380.8,1495.8 1630.0,1495.8 1630.0,1548.3 1577.9,1551.0 1537.6,1552.4 1517.5,1548.3 1497.4,1545.7 1470.6,1544.3 1430.4,1543.0 1403.6,1540.3 1380.8,1537.6" fill="#99EAFF"/>
<polygon points="1380.8,1495.8 1630.0,1495.8 1630.0,1545.7 1577.9,1548.3 1537.6,1549.7 1517.5,1547.0 1497.4,1543.0 1470.6,1541.6 1430.4,1540.3 1403.6,1537.6 1380.8,1535.6" fill="#BCF9FF"/>
<polygon points="1380.8,1495.8 1630.0,1495.8 1630.0,1543.0 1577.9,1545.7 1537.6,1547.0 1517.5,1544.3 1497.4,1540.3 1470.6,1539.0 1430.4,1537.6 1403.6,1534.9 1380.8,1533.6" fill="#EAFFFF"/>
<polygon points="1380.8,1495.8 1630.0,1495.8 1630.0,1540.3 1577.9,1543.0 1537.6,1543.0 1517.5,1541.6 1497.4,1537.6 1470.6,1536.3 1430.4,1534.9 1403.6,1530.9 1380.8,1529.6" fill="#FFFFEA"/>
<polygon points="1380.8,1495.8 1630.0,1495.8 1630.0,1537.6 1577.9,1540.3 1537.6,1540.3 1517.5,1539.0 1497.4,1534.9 1470.6,1532.3 1430.4,1530.9 1403.6,1526.9 1380.8,1524.2" fill="#FFF1BC"/>
<polygon points="1380.8,1495.8 1630.0,1495.8 1630.0,1533.6 1564.5,1534.9 1537.6,1536.3 1517.5,1533.6 1497.4,1530.9 1470.6,1528.2 1430.4,1526.9 1403.6,1521.5 1380.8,1519.5" fill="#FFD699"/>
<polygon points="1426.4,1496.7 1630.0,1496.1 1630.0,1529.6 1564.5,1526.9 1537.6,1528.2 1517.5,1526.9 1497.4,1520.2 1470.6,1521.5 1437.1,1518.8 1427.7,1508.1" fill="#FFAC75"/>
<polygon points="1496.1,1580.5 1497.4,1561.7 1500.1,1555.0 1508.2,1551.0 1524.2,1559.1 1537.6,1561.7 1551.1,1564.4 1577.9,1564.4 1591.3,1561.7 1604.7,1571.1 1618.1,1568.4 1630.0,1569.8 1630.0,1642.2 1615.4,1639.5 1615.4,1634.8 1607.3,1632.8 1601.3,1632.8 1600.6,1623.4 1588.6,1620.7 1577.9,1615.4 1564.5,1610.0 1551.1,1604.6 1549.7,1603.3 1537.0,1597.3 1536.3,1591.9 1524.2,1591.2 1508.2,1586.5 1502.8,1585.9" fill="#2857FF"/>
<polygon points="1506.8,1585.9 1508.2,1567.1 1513.5,1560.4 1518.9,1561.7 1524.2,1569.8 1525.6,1591.2 1524.2,1591.2 1508.2,1586.5" fill="#181CF7"/>
<polygon points="1620.0,1496.1 1758.1,1496.7 1780.8,1504.1 1784.9,1497.4 1889.4,1497.4 1892.8,1498.7 1892.8,1690.4 1886.7,1687.7 1874.0,1687.7 1874.0,1683.0 1851.9,1683.0 1851.9,1639.5 1842.5,1637.5 1830.4,1639.5 1829.8,1683.0 1818.4,1683.0 1814.4,1684.4 1784.9,1683.0 1784.2,1679.7 1782.2,1684.4 1767.4,1679.7 1755.4,1675.0 1724.5,1675.0 1721.9,1677.0 1713.8,1674.3 1708.5,1674.3 1707.1,1668.3 1705.8,1667.0 1673.6,1666.3 1672.9,1660.3 1660.2,1656.9 1653.5,1657.6 1644.1,1655.6 1643.5,1650.2 1630.7,1649.5 1630.1,1642.2 1620.0,1640.2" fill="#3D87FF"/>
<polygon points="1620.0,1495.8 1892.8,1495.8 1892.8,1591.2 1861.3,1591.2 1834.5,1593.9 1821.1,1591.2 1807.6,1595.2 1787.5,1588.5 1767.4,1588.5 1747.3,1591.2 1727.2,1589.9 1711.1,1575.1 1700.4,1563.1 1673.6,1560.4 1646.8,1559.1 1620.0,1556.4" fill="#56B0FF"/>
<polygon points="1620.0,1495.8 1892.8,1495.8 1892.8,1581.8 1861.3,1583.2 1834.5,1585.9 1821.1,1584.5 1807.6,1591.2 1800.9,1585.9 1787.5,1580.5 1774.1,1580.5 1760.7,1583.2 1747.3,1580.5 1733.9,1581.8 1720.5,1577.8 1711.1,1567.1 1708.5,1553.7 1703.1,1551.0 1693.7,1559.1 1673.6,1551.0 1646.8,1551.0 1620.0,1552.4" fill="#75D3FF"/>
<polygon points="1620.0,1495.8 1892.8,1495.8 1892.8,1568.4 1861.3,1569.8 1834.5,1572.5 1821.1,1571.1 1807.6,1569.8 1794.2,1564.4 1780.8,1561.7 1767.4,1564.4 1754.0,1567.1 1740.6,1564.4 1727.2,1567.1 1713.8,1561.7 1711.1,1547.0 1700.4,1543.0 1673.6,1545.7 1646.8,1547.0 1620.0,1548.3" fill="#99EAFF"/>
<polygon points="1620.0,1495.8 1892.8,1495.8 1892.8,1559.1 1861.3,1560.4 1847.9,1561.7 1834.5,1563.1 1821.1,1559.1 1807.6,1556.4 1794.2,1553.7 1780.8,1551.0 1767.4,1553.7 1754.0,1553.7 1740.6,1553.7 1727.2,1555.0 1716.5,1551.0 1713.8,1541.6 1700.4,1540.3 1673.6,1541.6 1646.8,1544.3 1620.0,1545.7" fill="#BCF9FF"/>
<polygon points="1620.0,1495.8 1892.8,1495.8 1892.8,1552.4 1874.7,1553.7 1861.3,1555.0 1847.9,1553.7 1834.5,1548.3 1821.1,1543.0 1807.6,1541.6 1794.2,1539.0 1780.8,1537.6 1767.4,1540.3 1754.0,1543.0 1740.6,1539.0 1727.2,1536.3 1713.8,1533.6 1700.4,1536.3 1673.6,1539.0 1646.8,1541.6 1620.0,1543.0" fill="#EAFFFF"/>
<polygon points="1620.0,1495.8 1892.8,1495.8 1892.8,1549.7 1874.7,1551.0 1861.3,1552.4 1847.9,1551.0 1834.5,1544.3 1821.1,1537.6 1807.6,1537.6 1794.2,1534.9 1780.8,1533.6 1767.4,1536.3 1754.0,1539.0 1740.6,1533.6 1727.2,1530.9 1713.8,1529.6 1700.4,1532.3 1673.6,1534.9 1646.8,1539.0 1620.0,1540.3" fill="#FFFFEA"/>
<polygon points="1620.0,1495.8 1892.8,1495.8 1892.8,1545.7 1874.7,1547.0 1861.3,1548.3 1847.9,1547.0 1834.5,1540.3 1821.1,1532.3 1807.6,1533.6 1794.2,1530.9 1780.8,1529.6 1767.4,1532.3 1754.0,1536.3 1740.6,1530.9 1727.2,1528.2 1713.8,1526.9 1700.4,1529.6 1673.6,1532.3 1646.8,1536.3 1620.0,1537.6" fill="#FFF1BC"/>
<polygon points="1620.0,1495.8 1892.8,1495.8 1892.8,1543.0 1874.7,1544.3 1861.3,1545.7 1847.9,1544.3 1834.5,1537.6 1821.1,1528.2 1807.6,1529.6 1794.2,1526.9 1780.8,1525.6 1767.4,1528.2 1754.0,1532.3 1740.6,1526.9 1727.2,1524.2 1713.8,1522.9 1700.4,1526.9 1673.6,1529.6 1646.8,1533.6 1620.0,1534.9" fill="#FFD699"/>
<polygon points="1620.0,1495.8 1892.8,1495.8 1892.8,1522.2 1881.4,1522.9 1873.3,1529.6 1858.6,1531.6 1842.5,1530.2 1830.4,1526.9 1823.7,1522.9 1814.4,1521.5 1807.6,1525.6 1798.3,1522.9 1788.9,1518.2 1780.8,1518.2 1764.8,1518.8 1752.7,1523.5 1746.0,1518.2 1738.0,1518.8 1727.2,1514.8 1716.5,1512.1 1707.1,1517.5 1695.1,1522.9 1680.3,1522.2 1664.2,1524.9 1620.0,1529.6" fill="#FFAC75"/>
<polygon points="1788.9,1497.4 1889.4,1497.4 1889.4,1518.8 1874.7,1520.2 1861.3,1517.5 1847.9,1514.8 1834.5,1516.2 1821.1,1516.2 1807.6,1512.1 1794.2,1509.5 1788.9,1505.4" fill="#FF7856"/>
<polygon points="1652.2,1496.7 1662.9,1496.7 1661.6,1510.8 1652.8,1510.8" fill="#FF7856"/>
<polygon points="1758.1,1494.7 1784.9,1494.7 1784.9,1497.4 1780.8,1504.1 1758.1,1496.7" fill="#ffffff"/>
<polygon points="1620.0,1567.1 1633.4,1571.1 1640.1,1572.5 1646.8,1584.5 1652.2,1596.6 1657.5,1587.2 1664.2,1583.2 1673.6,1583.9 1681.7,1589.9 1684.3,1604.6 1685.7,1618.0 1683.0,1628.8 1676.3,1639.5 1673.6,1652.9 1673.6,1666.3 1672.9,1660.3 1660.2,1656.9 1653.5,1657.6 1644.1,1655.6 1643.5,1650.2 1630.7,1649.5 1630.1,1642.2 1620.0,1640.2" fill="#2857FF"/>
<polygon points="1692.4,1615.4 1700.4,1608.7 1707.1,1607.3 1721.9,1612.7 1720.5,1631.4 1719.2,1674.3 1713.8,1674.3 1712.5,1631.4 1703.1,1612.7 1697.7,1618.0 1695.1,1666.3 1689.7,1666.3 1691.0,1631.4" fill="#2857FF"/>
<polygon points="1787.5,1683.0 1788.9,1638.1 1796.9,1618.0 1799.6,1607.3 1807.6,1602.0 1821.1,1597.9 1834.5,1604.6 1847.9,1607.3 1861.3,1604.6 1892.8,1591.2 1892.8,1690.4 1886.7,1687.7 1874.0,1687.7 1874.0,1683.0 1851.9,1683.0 1851.9,1639.5 1842.5,1637.5 1830.4,1639.5 1829.8,1683.0 1818.4,1683.0 1814.4,1684.4" fill="#2857FF"/>
<polygon points="1882.7,1685.1 1884.0,1638.1 1892.8,1628.8 1892.8,1690.4" fill="#181CF7"/>
<polyline points="1445.2,1499.4 1450.5,1504.1 1457.2,1508.1 1465.3,1511.5 1473.3,1513.5 1481.4,1512.1 1486.7,1508.8 1488.1,1504.1 1488.1,1496.7" fill="none" stroke="#000" stroke-width="2" stroke-linejoin="round" shape-rendering="crispEdges"/>
<polyline points="1504.1,1498.1 1505.5,1506.8 1510.8,1514.8 1518.9,1521.5 1528.3,1523.5 1536.3,1522.9 1543.0,1522.9 1551.1,1526.9 1559.1,1526.9 1571.2,1526.9 1580.5,1526.9 1593.9,1528.2" fill="none" stroke="#000" stroke-width="2" stroke-linejoin="round" shape-rendering="crispEdges"/>
<polyline points="1380.3,1524.5 1394.5,1523.7 1402.9,1525.6 1405.2,1527.5 1412.1,1526.8 1416.0,1527.5 1423.6,1531.7 1438.9,1532.5 1446.6,1532.1 1469.6,1532.5 1483.4,1531.7 1488.7,1534.0 1500.2,1534.8 1515.5,1537.9" fill="none" stroke="#000" stroke-width="2" stroke-linejoin="round" shape-rendering="crispEdges"/>
<polyline points="1380.3,1529.4 1391.4,1528.7 1402.9,1530.6 1406.0,1528.7 1416.0,1529.4 1423.6,1534.4 1438.9,1536.0 1454.3,1535.6 1469.6,1535.6 1483.4,1535.2 1488.7,1537.1 1500.2,1537.9 1518.6,1542.1" fill="none" stroke="#000" stroke-width="2" stroke-linejoin="round" shape-rendering="crispEdges"/>
<polyline points="1380.3,1533.7 1389.9,1532.9 1402.9,1534.4 1406.0,1532.9 1412.1,1532.5 1419.8,1535.6 1427.4,1538.3 1438.9,1539.8 1454.3,1539.0 1469.6,1539.0 1483.4,1537.9 1488.7,1539.8 1504.0,1541.3 1522.4,1547.1" fill="none" stroke="#000" stroke-width="2" stroke-linejoin="round" shape-rendering="crispEdges"/>
<polyline points="1402.9,1525.2 1403.7,1537.5 1406.0,1536.0 1416.0,1536.7 1423.6,1540.6 1435.1,1543.6 1446.6,1542.8 1461.9,1542.8 1477.2,1542.1 1483.4,1541.3 1488.7,1543.6 1507.9,1545.1 1523.2,1549.0" fill="none" stroke="#000" stroke-width="2" stroke-linejoin="round" shape-rendering="crispEdges"/>
<polyline points="1381.1,1539.8 1402.9,1539.8 1404.5,1542.8 1416.0,1542.8 1423.6,1544.0 1435.1,1546.3 1446.6,1545.9 1461.9,1545.1 1477.2,1544.4 1483.4,1542.8 1488.7,1544.8 1500.2,1545.9 1511.7,1548.2 1523.2,1551.3" fill="none" stroke="#000" stroke-width="2" stroke-linejoin="round" shape-rendering="crispEdges"/>
<polyline points="1496.1,1580.5 1497.4,1571.1 1498.1,1561.7 1500.1,1555.0 1509.5,1550.3 1518.9,1555.0 1524.2,1557.7 1535.0,1561.1 1543.0,1561.7 1547.0,1564.4" fill="none" stroke="#000" stroke-width="2" stroke-linejoin="round" shape-rendering="crispEdges"/>
<polyline points="1588.6,1543.0 1598.0,1541.6 1611.4,1539.0 1619.4,1537.6 1630.0,1534.9" fill="none" stroke="#000" stroke-width="2" stroke-linejoin="round" shape-rendering="crispEdges"/>
<polyline points="1592.6,1547.0 1604.7,1544.3 1618.1,1541.6 1630.0,1540.3" fill="none" stroke="#000" stroke-width="2" stroke-linejoin="round" shape-rendering="crispEdges"/>
<polyline points="1606.0,1553.7 1618.1,1552.4 1630.0,1549.7" fill="none" stroke="#000" stroke-width="2" stroke-linejoin="round" shape-rendering="crispEdges"/>
<polyline points="1589.9,1561.1 1598.0,1561.1 1603.3,1565.8 1608.7,1573.1 1612.7,1569.8 1619.4,1567.8 1626.1,1569.1 1630.0,1572.5" fill="none" stroke="#000" stroke-width="2" stroke-linejoin="round" shape-rendering="crispEdges"/>
<polyline points="1664.2,1524.9 1680.3,1522.2 1695.1,1522.9 1707.1,1517.5 1716.5,1512.1 1727.2,1514.8 1738.0,1518.8 1746.0,1518.2 1752.7,1523.5 1764.8,1518.8 1780.8,1518.2 1788.9,1518.2 1798.3,1522.9 1807.6,1525.6 1814.4,1521.5 1823.7,1522.9 1830.4,1526.9 1842.5,1530.2 1858.6,1531.6 1873.3,1529.6 1881.4,1522.9 1889.4,1522.2" fill="none" stroke="#000" stroke-width="2" stroke-linejoin="round" shape-rendering="crispEdges"/>
<polyline points="1620.0,1534.9 1633.4,1534.3 1646.8,1532.9 1660.2,1530.9 1673.6,1529.6 1687.0,1530.2 1700.4,1526.9 1713.8,1522.2 1727.2,1523.5 1740.6,1526.9 1747.3,1529.6 1754.0,1532.9 1767.4,1528.2 1780.8,1526.9 1787.5,1525.6 1800.9,1528.2 1807.6,1530.9 1814.4,1528.2 1821.1,1529.6 1834.5,1540.3 1847.9,1545.7 1861.3,1545.7 1874.7,1544.3 1889.4,1544.3" fill="none" stroke="#000" stroke-width="2" stroke-linejoin="round" shape-rendering="crispEdges"/>
<polyline points="1620.0,1539.0 1633.4,1538.3 1646.8,1537.6 1660.2,1534.9 1673.6,1533.6 1687.0,1532.3 1700.4,1530.2 1713.8,1529.6 1727.2,1532.3 1740.6,1534.9 1754.0,1540.3 1767.4,1537.6 1780.8,1533.6 1794.2,1533.6 1807.6,1536.3 1821.1,1539.0 1834.5,1548.3 1847.9,1552.4 1861.3,1553.0 1874.7,1551.0 1889.4,1552.4" fill="none" stroke="#000" stroke-width="2" stroke-linejoin="round" shape-rendering="crispEdges"/>
<polyline points="1620.0,1543.0 1633.4,1542.3 1646.8,1541.6 1660.2,1540.3 1673.6,1539.0 1687.0,1540.3 1700.4,1540.3 1708.5,1539.6 1712.5,1543.0 1715.2,1557.7 1727.2,1560.4 1738.0,1556.4 1747.3,1559.1 1760.7,1559.7 1774.1,1556.4 1784.9,1555.0 1794.2,1559.1 1807.6,1561.7 1821.1,1564.4 1830.4,1568.4 1841.2,1565.8 1854.6,1563.1 1868.0,1563.1 1881.4,1563.8 1889.4,1563.1" fill="none" stroke="#000" stroke-width="2" stroke-linejoin="round" shape-rendering="crispEdges"/>
<polyline points="1620.0,1553.0 1630.7,1549.7 1637.4,1554.4 1646.8,1551.7 1660.2,1550.3 1673.6,1555.0 1687.0,1559.1 1696.4,1561.7 1703.1,1553.7 1707.1,1551.0 1708.5,1557.7 1709.8,1568.4 1716.5,1576.5 1727.2,1585.9 1738.0,1587.9 1752.7,1582.5 1760.7,1586.5 1771.5,1583.2 1782.2,1579.2 1794.2,1584.5 1806.3,1591.2 1807.6,1585.9 1813.0,1580.5 1821.1,1584.5 1830.4,1587.9 1841.2,1584.5 1854.6,1581.8 1873.3,1580.5 1881.4,1586.5 1889.4,1585.9" fill="none" stroke="#000" stroke-width="2" stroke-linejoin="round" shape-rendering="crispEdges"/>
<polyline points="1620.0,1567.1 1628.0,1569.8 1638.8,1571.1 1642.8,1577.8 1646.8,1585.9 1652.2,1596.6 1656.2,1589.9 1662.9,1583.9 1670.9,1583.9 1677.6,1587.2 1681.7,1591.2 1684.3,1604.6 1685.7,1619.4 1683.0,1626.1 1677.6,1634.1 1673.6,1642.2 1672.9,1659.6" fill="none" stroke="#000" stroke-width="2" stroke-linejoin="round" shape-rendering="crispEdges"/>
<polyline points="1799.6,1611.3 1799.6,1646.9" fill="none" stroke="#000" stroke-width="2" stroke-linejoin="round" shape-rendering="crispEdges"/>
<polyline points="1814.4,1595.2 1821.1,1599.3 1823.7,1602.0 1826.4,1612.7 1829.1,1623.4 1833.1,1624.7 1829.1,1630.1 1827.8,1644.8 1823.7,1663.6 1822.4,1682.4" fill="none" stroke="#000" stroke-width="2" stroke-linejoin="round" shape-rendering="crispEdges"/>
<polyline points="1811.0,1643.5 1813.0,1658.2 1813.7,1684.4" fill="none" stroke="#000" stroke-width="2" stroke-linejoin="round" shape-rendering="crispEdges"/>
<polyline points="1851.9,1608.7 1849.2,1616.7 1846.5,1636.8" fill="none" stroke="#000" stroke-width="2" stroke-linejoin="round" shape-rendering="crispEdges"/>
<polyline points="1881.4,1610.7 1889.4,1604.6 1891.4,1591.2" fill="none" stroke="#000" stroke-width="2" stroke-linejoin="round" shape-rendering="crispEdges"/>
<polyline points="1889.7,1498.7 1890.1,1588.5" fill="none" stroke="#000" stroke-width="2" stroke-linejoin="round" shape-rendering="crispEdges"/>
<polyline points="1891.4,1498.7 1891.8,1588.5" fill="none" stroke="#000" stroke-width="2" stroke-linejoin="round" shape-rendering="crispEdges"/>
<g transform="translate(1629.70 1526.80) scale(1 1.1)"><clipPath id="tc82"><rect x="-5000" y="-5000" width="10000" height="5010.01"/><rect x="-5000" y="16.00" width="10000" height="5000"/><rect x="-5000.00" y="10.01" width="4979.71" height="5.99"/><rect x="-12.25" y="10.01" width="3.65" height="5.99"/><rect x="-0.86" y="10.01" width="5000.86" height="5.99"/></clipPath><text x="-22.25 0.00" y="14.00" font-size="40" fill="#262626" clip-path="url(#tc82)" stroke="#262626" stroke-width="0.6">19</text></g>
<g transform="translate(1552.40 1533.60) scale(1 1.1)"><clipPath id="tc83"><rect x="-5000" y="-5000" width="10000" height="5010.01"/><rect x="-5000" y="16.00" width="10000" height="5000"/><rect x="-5000.00" y="10.01" width="4979.71" height="5.99"/><rect x="-12.25" y="10.01" width="3.65" height="5.99"/><rect x="-0.86" y="10.01" width="5000.86" height="5.99"/></clipPath><text x="-22.25 0.00" y="14.00" font-size="40" fill="#262626" clip-path="url(#tc83)" stroke="#262626" stroke-width="0.6">17</text></g>
<g transform="translate(1555.10 1540.30) scale(1 1.1)"><clipPath id="tc84"><rect x="-5000" y="-5000" width="10000" height="5010.01"/><rect x="-5000" y="16.00" width="10000" height="5000"/><rect x="-5000.00" y="10.01" width="4979.71" height="5.99"/><rect x="-12.25" y="10.01" width="3.65" height="5.99"/><rect x="-0.86" y="10.01" width="5000.86" height="5.99"/></clipPath><text x="-22.25 0.00" y="14.00" font-size="40" fill="#262626" clip-path="url(#tc84)" stroke="#262626" stroke-width="0.6">15</text></g>
<g transform="translate(1557.80 1547.00) scale(1 1.1)"><clipPath id="tc85"><rect x="-5000" y="-5000" width="10000" height="5010.01"/><rect x="-5000" y="16.00" width="10000" height="5000"/><rect x="-5000.00" y="10.01" width="4979.71" height="5.99"/><rect x="-12.25" y="10.01" width="3.65" height="5.99"/><rect x="-0.86" y="10.01" width="5000.86" height="5.99"/></clipPath><text x="-22.25 0.00" y="14.00" font-size="40" fill="#262626" clip-path="url(#tc85)" stroke="#262626" stroke-width="0.6">13</text></g>
<g transform="translate(1572.50 1553.70) scale(1 1.1)"><clipPath id="tc86"><rect x="-5000" y="-5000" width="10000" height="5010.01"/><rect x="-5000" y="16.00" width="10000" height="5000"/><rect x="-5000.00" y="10.01" width="4979.71" height="5.99"/><rect x="-12.25" y="10.01" width="3.65" height="5.99"/><rect x="-0.86" y="10.01" width="2.81" height="5.99"/><rect x="10.00" y="10.01" width="3.65" height="5.99"/><rect x="21.39" y="10.01" width="4978.61" height="5.99"/></clipPath><text x="-22.25 0.00" y="14.00" font-size="40" fill="#262626" clip-path="url(#tc86)" stroke="#262626" stroke-width="0.6">11</text></g>
<g transform="translate(1568.50 1567.10) scale(1 1.1)"><text x="-11.12" y="14.00" font-size="40" fill="#262626" stroke="#262626" stroke-width="0.6">9</text></g>
<g transform="translate(1814.35 1620.05) rotate(-90) scale(1 1.1)"><text x="-11.12" y="14.00" font-size="40" fill="#262626" stroke="#262626" stroke-width="0.6">9</text></g>
<g transform="translate(1868.64 1604.63) scale(1 1.1)"><text x="-11.12" y="14.00" font-size="40" fill="#262626" stroke="#262626" stroke-width="0.6">9</text></g>
</g>
<rect x="1177.5" y="1493.5" width="718" height="213" fill="none" stroke="#262626" stroke-width="3"/>
<line x1="1177.5" y1="1493.5" x2="1177.5" y2="1500.8" stroke="#262626" stroke-width="3"/>
<line x1="1177.5" y1="1706.5" x2="1177.5" y2="1699.2" stroke="#262626" stroke-width="3"/>
<g transform="translate(1177.50 1751.90)"><clipPath id="tc87"><rect x="-5000" y="-5000" width="10000" height="4996.39"/><rect x="-5000" y="2.00" width="10000" height="5000"/><rect x="-5000.00" y="-3.61" width="4953.84" height="5.61"/><rect x="-39.12" y="-3.61" width="3.20" height="5.61"/><rect x="-29.16" y="-3.61" width="5029.16" height="5.61"/></clipPath><text x="-47.87 -28.40 -8.94 10.53 24.52" y="0.00" font-size="35" fill="#262626" clip-path="url(#tc87)">120°E</text></g>
<line x1="1357.0" y1="1493.5" x2="1357.0" y2="1500.8" stroke="#262626" stroke-width="3"/>
<line x1="1357.0" y1="1706.5" x2="1357.0" y2="1699.2" stroke="#262626" stroke-width="3"/>
<g transform="translate(1357.00 1751.90)"><clipPath id="tc88"><rect x="-5000" y="-5000" width="10000" height="4996.39"/><rect x="-5000" y="2.00" width="10000" height="5000"/><rect x="-5000.00" y="-3.61" width="4953.84" height="5.61"/><rect x="-39.12" y="-3.61" width="3.20" height="5.61"/><rect x="-29.16" y="-3.61" width="21.93" height="5.61"/><rect x="-0.19" y="-3.61" width="3.20" height="5.61"/><rect x="9.78" y="-3.61" width="4990.22" height="5.61"/></clipPath><text x="-47.87 -28.40 -8.94 10.53 24.52" y="0.00" font-size="35" fill="#262626" clip-path="url(#tc88)">121°E</text></g>
<line x1="1536.5" y1="1493.5" x2="1536.5" y2="1500.8" stroke="#262626" stroke-width="3"/>
<line x1="1536.5" y1="1706.5" x2="1536.5" y2="1699.2" stroke="#262626" stroke-width="3"/>
<g transform="translate(1536.50 1751.90)"><clipPath id="tc89"><rect x="-5000" y="-5000" width="10000" height="4996.39"/><rect x="-5000" y="2.00" width="10000" height="5000"/><rect x="-5000.00" y="-3.61" width="4953.84" height="5.61"/><rect x="-39.12" y="-3.61" width="3.20" height="5.61"/><rect x="-29.16" y="-3.61" width="5029.16" height="5.61"/></clipPath><text x="-47.87 -28.40 -8.94 10.53 24.52" y="0.00" font-size="35" fill="#262626" clip-path="url(#tc89)">122°E</text></g>
<line x1="1716.0" y1="1493.5" x2="1716.0" y2="1500.8" stroke="#262626" stroke-width="3"/>
<line x1="1716.0" y1="1706.5" x2="1716.0" y2="1699.2" stroke="#262626" stroke-width="3"/>
<g transform="translate(1716.00 1751.90)"><clipPath id="tc90"><rect x="-5000" y="-5000" width="10000" height="4996.39"/><rect x="-5000" y="2.00" width="10000" height="5000"/><rect x="-5000.00" y="-3.61" width="4953.84" height="5.61"/><rect x="-39.12" y="-3.61" width="3.20" height="5.61"/><rect x="-29.16" y="-3.61" width="5029.16" height="5.61"/></clipPath><text x="-47.87 -28.40 -8.94 10.53 24.52" y="0.00" font-size="35" fill="#262626" clip-path="url(#tc90)">123°E</text></g>
<line x1="1895.5" y1="1493.5" x2="1895.5" y2="1500.8" stroke="#262626" stroke-width="3"/>
<line x1="1895.5" y1="1706.5" x2="1895.5" y2="1699.2" stroke="#262626" stroke-width="3"/>
<g transform="translate(1895.50 1751.90)"><clipPath id="tc91"><rect x="-5000" y="-5000" width="10000" height="4996.39"/><rect x="-5000" y="2.00" width="10000" height="5000"/><rect x="-5000.00" y="-3.61" width="4953.84" height="5.61"/><rect x="-39.12" y="-3.61" width="3.20" height="5.61"/><rect x="-29.16" y="-3.61" width="5029.16" height="5.61"/></clipPath><text x="-47.87 -28.40 -8.94 10.53 24.52" y="0.00" font-size="35" fill="#262626" clip-path="url(#tc91)">124°E</text></g>
<line x1="1177.5" y1="1493.5" x2="1184.8" y2="1493.5" stroke="#262626" stroke-width="3"/>
<line x1="1895.5" y1="1493.5" x2="1888.2" y2="1493.5" stroke="#262626" stroke-width="3"/>
<text x="1166.0" y="1505.8" font-size="35" fill="#262626" text-anchor="end">0</text>
<line x1="1177.5" y1="1626.6" x2="1184.8" y2="1626.6" stroke="#262626" stroke-width="3"/>
<line x1="1895.5" y1="1626.6" x2="1888.2" y2="1626.6" stroke="#262626" stroke-width="3"/>
<text x="1166.0" y="1638.9" font-size="35" fill="#262626" text-anchor="end">50</text>
<text x="0" y="0" font-size="39" fill="#262626" text-anchor="middle" transform="translate(1113.2 1600.0) rotate(-90)">Depth(m)</text>
<g transform="translate(1536.50 1481.00)"><clipPath id="tc92"><rect x="-5000" y="-5000" width="10000" height="4996.09"/><rect x="-5000" y="2.00" width="10000" height="5000"/><rect x="-5000.00" y="-3.91" width="4962.86" height="5.91"/><rect x="-29.30" y="-3.91" width="3.56" height="5.91"/><rect x="-18.20" y="-3.91" width="89.48" height="5.91"/><rect x="79.13" y="-3.91" width="3.56" height="5.91"/><rect x="90.24" y="-3.91" width="4909.76" height="5.91"/></clipPath><text x="-112.76 -93.26 -71.57 -49.88 -39.05 -17.36 4.33 15.17 26.00 47.69 69.38 91.07" y="0.00" font-size="39" fill="#000" clip-path="url(#tc92)">Jun 12, 2015</text></g>
<text x="1213.7" y="1529.5" font-size="42.5" fill="#000">(i)</text>
<rect x="1978.5" y="1694.70" width="48" height="12.20" fill="#2400D8"/>
<rect x="1978.5" y="1682.80" width="48" height="12.20" fill="#181CF7"/>
<rect x="1978.5" y="1670.90" width="48" height="12.20" fill="#2857FF"/>
<rect x="1978.5" y="1659.00" width="48" height="12.20" fill="#3D87FF"/>
<rect x="1978.5" y="1647.10" width="48" height="12.20" fill="#56B0FF"/>
<rect x="1978.5" y="1635.20" width="48" height="12.20" fill="#75D3FF"/>
<rect x="1978.5" y="1623.30" width="48" height="12.20" fill="#99EAFF"/>
<rect x="1978.5" y="1611.40" width="48" height="12.20" fill="#BCF9FF"/>
<rect x="1978.5" y="1599.50" width="48" height="12.20" fill="#EAFFFF"/>
<rect x="1978.5" y="1587.60" width="48" height="12.20" fill="#FFFFEA"/>
<rect x="1978.5" y="1575.70" width="48" height="12.20" fill="#FFF1BC"/>
<rect x="1978.5" y="1563.80" width="48" height="12.20" fill="#FFD699"/>
<rect x="1978.5" y="1551.90" width="48" height="12.20" fill="#FFAC75"/>
<rect x="1978.5" y="1540.00" width="48" height="12.20" fill="#FF7856"/>
<rect x="1978.5" y="1528.10" width="48" height="12.20" fill="#FF3D3D"/>
<rect x="1978.5" y="1516.20" width="48" height="12.20" fill="#F72735"/>
<rect x="1978.5" y="1504.30" width="48" height="12.20" fill="#D8152F"/>
<rect x="1978.5" y="1493.50" width="48" height="11.10" fill="#A50021"/>
<rect x="1978.5" y="1493.5" width="48" height="213" fill="none" stroke="#262626" stroke-width="3"/>
<line x1="2022.5" y1="1662.2" x2="2026.5" y2="1662.2" stroke="#262626" stroke-width="2.8"/>
<g transform="translate(2042.50 1673.55)"><clipPath id="tc93"><rect x="-5000" y="-5000" width="10000" height="4996.61"/><rect x="-5000" y="2.00" width="10000" height="5000"/><rect x="-5000.00" y="-3.39" width="5001.56" height="5.39"/><rect x="8.00" y="-3.39" width="2.92" height="5.39"/><rect x="17.11" y="-3.39" width="4982.89" height="5.39"/></clipPath><text x="0.00 17.80" y="0.00" font-size="32" fill="#262626" clip-path="url(#tc93)">10</text></g>
<line x1="2022.5" y1="1606.0" x2="2026.5" y2="1606.0" stroke="#262626" stroke-width="2.8"/>
<g transform="translate(2042.50 1617.30)"><clipPath id="tc94"><rect x="-5000" y="-5000" width="10000" height="4996.61"/><rect x="-5000" y="2.00" width="10000" height="5000"/><rect x="-5000.00" y="-3.39" width="5001.56" height="5.39"/><rect x="8.00" y="-3.39" width="2.92" height="5.39"/><rect x="17.11" y="-3.39" width="4982.89" height="5.39"/></clipPath><text x="0.00 17.80" y="0.00" font-size="32" fill="#262626" clip-path="url(#tc94)">15</text></g>
<line x1="2022.5" y1="1549.8" x2="2026.5" y2="1549.8" stroke="#262626" stroke-width="2.8"/>
<g transform="translate(2042.50 1561.05)"><text x="0.00 17.80" y="0.00" font-size="32" fill="#262626">20</text></g>
<g transform="translate(2042.50 1504.80)"><text x="0.00 17.80" y="0.00" font-size="32" fill="#262626">25</text></g>
</svg></body></html>
